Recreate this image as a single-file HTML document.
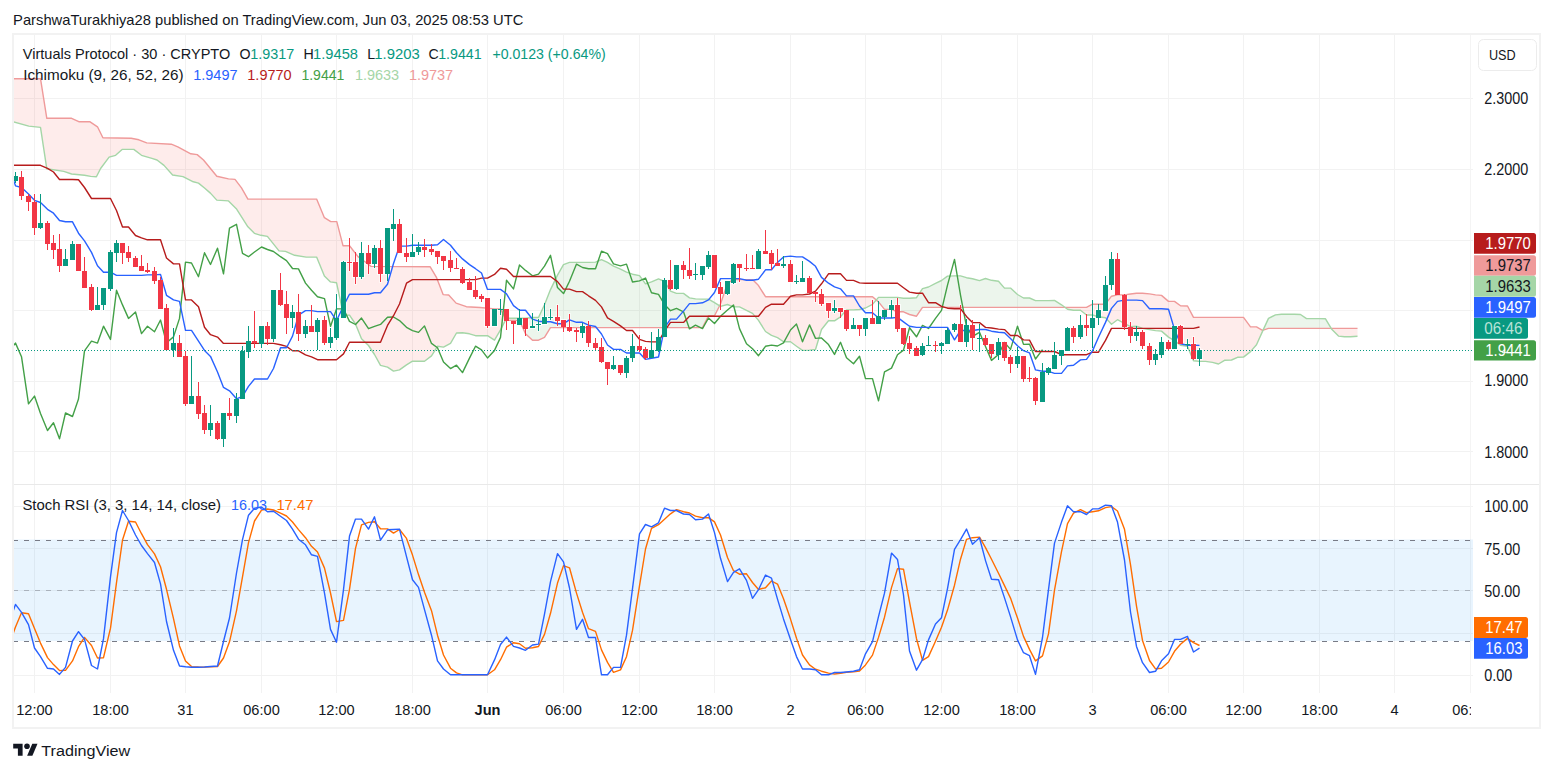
<!DOCTYPE html>
<html><head><meta charset="utf-8"><style>
*{margin:0;padding:0;box-sizing:border-box}
html,body{width:1553px;height:772px;overflow:hidden;background:#fff}
body{font-family:"Liberation Sans",sans-serif;color:#131722;position:relative}
.t{position:absolute;white-space:nowrap;line-height:1}
#frame{position:absolute;left:12px;top:33px;width:1529px;height:696px;border:2px solid #f2f2f2}
.lbl{position:absolute;left:1474px;width:62px;height:21px;border-radius:0 3px 3px 0;font-size:14px;line-height:21px;text-align:right;padding-right:6px}
svg text{font-family:"Liberation Sans",sans-serif}
</style></head><body>
<div id="frame"></div>
<svg width="1553" height="772" style="position:absolute;left:0;top:0">
<defs><clipPath id="sclip"><rect x="14" y="485" width="1459" height="208"/></clipPath><clipPath id="mclip"><rect x="14" y="35" width="1456" height="449"/></clipPath><clipPath id="tclip"><rect x="14" y="693" width="1457" height="34"/></clipPath></defs>
<g stroke="#f2f2f2" stroke-width="1"><line x1="34.5" y1="35" x2="34.5" y2="693"/><line x1="110.5" y1="35" x2="110.5" y2="693"/><line x1="185.5" y1="35" x2="185.5" y2="693"/><line x1="261.5" y1="35" x2="261.5" y2="693"/><line x1="336.5" y1="35" x2="336.5" y2="693"/><line x1="412.5" y1="35" x2="412.5" y2="693"/><line x1="487.5" y1="35" x2="487.5" y2="693"/><line x1="563.5" y1="35" x2="563.5" y2="693"/><line x1="639.5" y1="35" x2="639.5" y2="693"/><line x1="714.5" y1="35" x2="714.5" y2="693"/><line x1="790.5" y1="35" x2="790.5" y2="693"/><line x1="865.5" y1="35" x2="865.5" y2="693"/><line x1="941.5" y1="35" x2="941.5" y2="693"/><line x1="1017.5" y1="35" x2="1017.5" y2="693"/><line x1="1092.5" y1="35" x2="1092.5" y2="693"/><line x1="1168.5" y1="35" x2="1168.5" y2="693"/><line x1="1243.5" y1="35" x2="1243.5" y2="693"/><line x1="1319.5" y1="35" x2="1319.5" y2="693"/><line x1="1394.5" y1="35" x2="1394.5" y2="693"/><line x1="1470.5" y1="35" x2="1470.5" y2="693"/><line x1="14" y1="98.5" x2="1473" y2="98.5"/><line x1="14" y1="169.5" x2="1473" y2="169.5"/><line x1="14" y1="240.5" x2="1473" y2="240.5"/><line x1="14" y1="310.5" x2="1473" y2="310.5"/><line x1="14" y1="381.5" x2="1473" y2="381.5"/><line x1="14" y1="451.5" x2="1473" y2="451.5"/><line x1="14" y1="506.5" x2="1473" y2="506.5"/><line x1="14" y1="548.5" x2="1473" y2="548.5"/><line x1="14" y1="590.5" x2="1473" y2="590.5"/><line x1="14" y1="633.5" x2="1473" y2="633.5"/><line x1="14" y1="675.5" x2="1473" y2="675.5"/></g><line x1="1470.5" y1="35" x2="1470.5" y2="693" stroke="#f4f4f4"/><line x1="14" y1="484.5" x2="1539" y2="484.5" stroke="#e9e9e9"/><path d="M1474 233.05H1533.5Q1536 233.05 1536 235.55V251.3Q1536 253.8 1533.5 253.8H1474Z" fill="#B71C1C"/><path d="M1474 255.2H1533.5Q1536 255.2 1536 257.7V273.3Q1536 275.8 1533.5 275.8H1474Z" fill="#EF9A9A"/><path d="M1474 275.8H1533.5Q1536 275.8 1536 278.3V294.2Q1536 296.7 1533.5 296.7H1474Z" fill="#A5D6A7"/><path d="M1474 297.1H1533.5Q1536 297.1 1536 299.6V315.3Q1536 317.8 1533.5 317.8H1474Z" fill="#2962FF"/><path d="M1474 318.0H1525.5Q1528 318.0 1528 320.5V336.2Q1528 338.7 1525.5 338.7H1474Z" fill="#089981"/><path d="M1474 340.2H1533.5Q1536 340.2 1536 342.7V358.1Q1536 360.6 1533.5 360.6H1474Z" fill="#43A047"/><path d="M1474 617H1525.5Q1528 617 1528 619.5V635.5Q1528 638 1525.5 638H1474Z" fill="#FF6D00"/><path d="M1474 638H1525.5Q1528 638 1528 640.5V656.2Q1528 658.7 1525.5 658.7H1474Z" fill="#2962FF"/><rect x="1478.5" y="39.5" width="58" height="31" rx="5" fill="#fff" stroke="#ececec"/><g fill="#131722"><path d="M13.2 743.8H22.6V755.7H17.9V748.4H13.2Z"/><circle cx="27" cy="746.3" r="2.8"/><path d="M32.3 743.8H37.5L32.4 755.7H27.1Z"/></g>
<g clip-path="url(#mclip)"><polygon points="506.00,319.20 506.50,318.23 507.00,318.23 507.50,318.23 508.00,318.23 508.50,318.23 509.00,318.23 509.50,318.23 510.00,318.23 510.50,318.23 511.00,318.23 511.50,318.23 512.00,318.23 512.50,318.23 513.00,318.23 513.50,318.23 514.00,318.23 514.50,318.23 515.00,318.23 515.50,318.23 516.00,318.23 516.50,318.23 517.00,318.23 517.50,318.23 518.00,318.23 518.50,318.23 519.00,318.23 519.50,318.23 520.00,318.23 520.50,318.23 521.00,318.23 521.50,318.23 522.00,318.23 522.50,318.23 523.00,318.23 523.50,318.23 524.00,318.23 524.50,318.23 525.00,318.23 525.50,318.23 526.00,318.17 526.50,318.12 527.00,318.07 527.50,318.02 528.00,317.97 528.50,317.91 529.00,317.86 529.50,317.81 530.00,317.76 530.50,317.71 531.00,317.66 531.50,317.60 532.00,317.55 532.50,317.50 533.00,317.50 533.50,317.50 534.00,317.50 534.50,317.50 535.00,317.50 535.50,317.50 536.00,317.50 536.50,317.50 537.00,317.50 537.50,317.50 538.00,317.50 538.50,317.50 539.00,316.44 539.50,315.39 540.00,314.33 540.50,313.27 541.00,312.22 541.50,311.16 542.00,310.11 542.50,309.05 543.00,307.99 543.50,306.94 544.00,305.88 544.50,304.82 545.00,303.56 545.50,302.29 546.00,301.02 546.50,299.76 547.00,298.49 547.50,297.23 548.00,295.96 548.50,294.69 549.00,293.43 549.50,292.16 550.00,290.89 550.50,289.62 551.00,288.59 551.50,287.55 552.00,286.51 552.50,285.47 553.00,284.43 553.50,283.39 554.00,282.35 554.50,281.31 555.00,280.27 555.50,279.23 556.00,278.19 556.50,277.15 557.00,276.11 557.50,275.07 558.00,274.21 558.50,273.34 559.00,272.47 559.50,271.60 560.00,270.73 560.50,269.86 561.00,268.99 561.50,268.12 562.00,267.26 562.50,266.39 563.00,265.52 563.50,264.65 564.00,264.46 564.50,264.27 565.00,264.08 565.50,263.89 566.00,263.70 566.50,263.51 567.00,263.32 567.50,263.13 568.00,262.94 568.50,262.75 569.00,262.56 569.50,262.38 570.00,262.38 570.50,262.38 571.00,262.38 571.50,262.38 572.00,262.38 572.50,262.38 573.00,262.38 573.50,262.38 574.00,262.38 574.50,262.38 575.00,262.38 575.50,262.38 576.00,262.38 576.50,262.38 577.00,262.38 577.50,262.38 578.00,262.38 578.50,262.38 579.00,262.38 579.50,262.38 580.00,262.38 580.50,262.38 581.00,262.38 581.50,262.38 582.00,262.38 582.50,262.38 583.00,262.38 583.50,262.38 584.00,262.38 584.50,262.38 585.00,262.38 585.50,262.38 586.00,262.38 586.50,262.38 587.00,262.38 587.50,262.38 588.00,262.38 588.50,262.38 589.00,262.36 589.50,262.34 590.00,262.32 590.50,262.30 591.00,262.29 591.50,262.27 592.00,262.25 592.50,262.23 593.00,262.21 593.50,262.20 594.00,262.18 594.50,262.16 595.00,262.14 595.50,262.12 596.00,261.91 596.50,261.70 597.00,261.48 597.50,261.27 598.00,261.05 598.50,260.84 599.00,260.62 599.50,260.41 600.00,260.19 600.50,259.98 601.00,259.76 601.50,259.55 602.00,259.79 602.50,260.03 603.00,260.27 603.50,260.51 604.00,260.75 604.50,260.99 605.00,261.23 605.50,261.47 606.00,261.71 606.50,261.95 607.00,262.19 607.50,262.43 608.00,262.74 608.50,263.05 609.00,263.36 609.50,263.68 610.00,263.99 610.50,264.30 611.00,264.61 611.50,264.93 612.00,265.24 612.50,265.55 613.00,265.86 613.50,266.18 614.00,266.39 614.50,266.61 615.00,266.83 615.50,267.05 616.00,267.26 616.50,267.48 617.00,267.70 617.50,267.92 618.00,268.14 618.50,268.35 619.00,268.57 619.50,268.79 620.00,269.01 620.50,269.23 621.00,269.46 621.50,269.70 622.00,269.94 622.50,270.18 623.00,270.41 623.50,270.65 624.00,270.89 624.50,271.13 625.00,271.36 625.50,271.60 626.00,271.84 626.50,272.08 627.00,272.25 627.50,272.42 628.00,272.59 628.50,272.77 629.00,272.94 629.50,273.11 630.00,273.29 630.50,273.46 631.00,273.63 631.50,273.80 632.00,273.98 632.50,274.15 633.00,274.25 633.50,274.35 634.00,274.45 634.50,274.55 635.00,274.65 635.50,274.75 636.00,274.85 636.50,274.95 637.00,275.05 637.50,275.15 638.00,275.25 638.50,275.35 639.00,275.45 639.50,275.55 640.00,276.23 640.50,276.92 641.00,277.60 641.50,278.28 642.00,278.97 642.50,279.65 643.00,280.33 643.50,281.02 644.00,281.70 644.50,282.38 645.00,283.07 645.50,283.75 646.00,283.60 646.50,283.45 647.00,283.30 647.50,283.15 648.00,283.00 648.50,282.85 649.00,282.70 649.50,282.55 650.00,282.40 650.50,282.25 651.00,282.10 651.50,281.95 652.00,281.73 652.50,281.51 653.00,281.29 653.50,281.06 654.00,280.84 654.50,280.62 655.00,280.40 655.50,280.18 656.00,279.96 656.50,279.74 657.00,279.51 657.50,279.29 658.00,279.07 658.50,278.85 659.00,279.07 659.50,279.29 660.00,279.51 660.50,279.73 661.00,279.95 661.50,280.18 662.00,280.40 662.50,280.62 663.00,280.84 663.50,281.06 664.00,281.28 664.50,281.50 665.00,282.30 665.50,283.10 666.00,283.89 666.50,284.69 667.00,285.49 667.50,286.29 668.00,287.09 668.50,287.88 669.00,288.68 669.50,289.48 670.00,290.28 670.50,291.07 671.00,291.27 671.50,291.46 672.00,291.66 672.50,291.85 673.00,292.04 673.50,292.24 674.00,292.43 674.50,292.62 675.00,292.82 675.50,293.01 676.00,293.21 676.50,293.40 677.00,293.40 677.50,293.40 678.00,293.40 678.50,293.40 679.00,293.40 679.50,293.40 680.00,293.40 680.50,293.40 681.00,293.40 681.50,293.40 682.00,293.40 682.50,293.40 683.00,293.40 683.50,293.40 684.00,293.77 684.50,294.15 685.00,294.52 685.50,294.89 686.00,295.26 686.50,295.64 687.00,296.01 687.50,296.38 688.00,296.76 688.50,297.13 689.00,297.50 689.50,297.88 690.00,297.96 690.50,298.04 691.00,298.12 691.50,298.20 692.00,298.28 692.50,298.36 693.00,298.44 693.50,298.53 694.00,298.61 694.50,298.69 695.00,298.77 695.50,298.85 696.00,298.87 696.50,298.89 697.00,298.91 697.50,298.93 698.00,298.95 698.50,298.97 699.00,298.99 699.50,299.01 700.00,299.03 700.50,299.05 701.00,299.07 701.50,299.09 702.00,299.11 702.50,299.12 703.00,299.12 703.50,299.12 704.00,299.12 704.50,299.12 705.00,299.12 705.50,299.12 706.00,299.12 706.50,299.12 707.00,299.12 707.50,299.12 708.00,299.12 708.50,299.12 709.00,299.42 709.50,299.72 710.00,300.01 710.50,300.31 711.00,300.60 711.50,300.90 712.00,301.20 712.50,301.49 713.00,301.79 713.50,302.08 714.00,302.38 714.50,302.68 715.00,302.99 715.50,303.30 716.00,303.61 716.50,303.93 717.00,304.24 717.50,304.55 718.00,304.86 718.50,305.18 719.00,305.49 719.50,305.80 719.50,305.99 719.00,306.96 718.50,307.93 718.00,308.90 717.50,309.88 717.00,310.85 716.50,311.82 716.00,312.79 715.50,313.76 715.00,314.73 714.50,315.70 714.00,315.70 713.50,315.70 713.00,315.70 712.50,315.70 712.00,315.70 711.50,315.70 711.00,315.70 710.50,315.70 710.00,315.70 709.50,315.70 709.00,315.70 708.50,315.70 708.00,316.70 707.50,317.69 707.00,318.69 706.50,319.68 706.00,320.68 705.50,321.67 705.00,322.67 704.50,323.67 704.00,324.66 703.50,325.66 703.00,326.65 702.50,327.65 702.00,327.65 701.50,327.65 701.00,327.65 700.50,327.65 700.00,327.65 699.50,327.65 699.00,327.65 698.50,327.65 698.00,327.65 697.50,327.65 697.00,327.65 696.50,327.65 696.00,327.65 695.50,327.65 695.00,327.65 694.50,327.65 694.00,327.65 693.50,327.65 693.00,327.65 692.50,327.65 692.00,327.65 691.50,327.65 691.00,327.65 690.50,327.65 690.00,327.65 689.50,327.65 689.00,327.65 688.50,327.65 688.00,327.65 687.50,327.65 687.00,327.65 686.50,327.65 686.00,327.65 685.50,327.65 685.00,327.65 684.50,327.65 684.00,327.65 683.50,327.65 683.00,327.65 682.50,327.65 682.00,327.65 681.50,327.65 681.00,327.65 680.50,327.65 680.00,327.65 679.50,327.65 679.00,327.65 678.50,327.65 678.00,327.65 677.50,327.65 677.00,327.65 676.50,327.65 676.00,327.65 675.50,327.65 675.00,327.65 674.50,327.65 674.00,327.65 673.50,327.65 673.00,327.65 672.50,327.65 672.00,327.65 671.50,327.65 671.00,327.65 670.50,327.65 670.00,327.65 669.50,327.65 669.00,327.65 668.50,327.65 668.00,327.65 667.50,327.65 667.00,327.65 666.50,327.65 666.00,327.65 665.50,327.65 665.00,327.65 664.50,327.65 664.00,327.65 663.50,327.65 663.00,327.65 662.50,327.65 662.00,327.65 661.50,327.65 661.00,327.65 660.50,327.65 660.00,327.65 659.50,327.65 659.00,327.65 658.50,327.65 658.00,327.65 657.50,327.65 657.00,327.65 656.50,327.65 656.00,327.65 655.50,327.65 655.00,327.65 654.50,327.65 654.00,327.65 653.50,327.65 653.00,327.65 652.50,327.65 652.00,327.65 651.50,327.65 651.00,327.65 650.50,327.65 650.00,327.65 649.50,327.65 649.00,327.65 648.50,327.65 648.00,327.65 647.50,327.65 647.00,327.65 646.50,327.65 646.00,327.65 645.50,327.65 645.00,327.65 644.50,327.65 644.00,327.65 643.50,327.65 643.00,327.65 642.50,327.65 642.00,327.65 641.50,327.65 641.00,327.65 640.50,327.65 640.00,327.65 639.50,327.65 639.00,327.65 638.50,327.65 638.00,327.65 637.50,327.65 637.00,327.65 636.50,327.65 636.00,327.65 635.50,327.65 635.00,327.65 634.50,327.65 634.00,327.65 633.50,327.65 633.00,327.65 632.50,327.65 632.00,327.65 631.50,327.65 631.00,327.65 630.50,327.65 630.00,327.65 629.50,327.65 629.00,327.65 628.50,327.65 628.00,327.65 627.50,327.65 627.00,327.65 626.50,327.65 626.00,327.65 625.50,327.65 625.00,327.65 624.50,327.65 624.00,327.65 623.50,327.65 623.00,327.65 622.50,327.65 622.00,327.65 621.50,327.65 621.00,327.65 620.50,327.65 620.00,327.65 619.50,327.65 619.00,327.65 618.50,327.65 618.00,327.65 617.50,327.65 617.00,327.65 616.50,327.65 616.00,327.65 615.50,327.65 615.00,327.65 614.50,327.65 614.00,327.65 613.50,327.65 613.00,327.65 612.50,327.65 612.00,327.65 611.50,327.65 611.00,327.65 610.50,327.65 610.00,327.65 609.50,327.65 609.00,327.65 608.50,327.65 608.00,327.65 607.50,327.65 607.00,327.65 606.50,327.65 606.00,327.65 605.50,327.65 605.00,327.65 604.50,327.65 604.00,327.65 603.50,327.65 603.00,327.65 602.50,327.65 602.00,327.65 601.50,327.65 601.00,327.65 600.50,327.65 600.00,327.65 599.50,327.65 599.00,327.65 598.50,327.65 598.00,327.65 597.50,327.65 597.00,327.65 596.50,327.65 596.00,327.65 595.50,327.65 595.00,327.65 594.50,327.65 594.00,327.65 593.50,327.65 593.00,327.65 592.50,327.65 592.00,327.65 591.50,327.65 591.00,327.65 590.50,327.65 590.00,327.65 589.50,327.65 589.00,327.65 588.50,327.65 588.00,327.65 587.50,327.65 587.00,327.65 586.50,327.65 586.00,327.65 585.50,327.65 585.00,327.65 584.50,327.65 584.00,327.65 583.50,327.65 583.00,327.65 582.50,327.65 582.00,327.65 581.50,327.65 581.00,327.65 580.50,327.65 580.00,327.65 579.50,327.65 579.00,327.65 578.50,327.65 578.00,327.65 577.50,327.65 577.00,327.65 576.50,327.65 576.00,327.65 575.50,327.65 575.00,327.65 574.50,327.65 574.00,327.65 573.50,327.65 573.00,327.65 572.50,327.65 572.00,327.65 571.50,327.65 571.00,327.65 570.50,327.65 570.00,327.65 569.50,327.65 569.00,327.65 568.50,327.65 568.00,327.65 567.50,327.65 567.00,327.65 566.50,327.65 566.00,327.65 565.50,327.65 565.00,327.65 564.50,327.65 564.00,327.65 563.50,327.65 563.00,327.65 562.50,327.65 562.00,327.65 561.50,327.65 561.00,327.65 560.50,327.65 560.00,327.65 559.50,327.65 559.00,327.65 558.50,327.65 558.00,327.65 557.50,327.65 557.00,327.65 556.50,327.65 556.00,327.65 555.50,327.65 555.00,327.65 554.50,327.65 554.00,327.65 553.50,327.65 553.00,327.65 552.50,327.65 552.00,327.65 551.50,327.65 551.00,327.65 550.50,327.65 550.00,328.46 549.50,329.27 549.00,330.09 548.50,330.90 548.00,331.71 547.50,332.52 547.00,333.34 546.50,334.15 546.00,334.96 545.50,335.77 545.00,336.59 544.50,337.40 544.00,337.64 543.50,337.88 543.00,338.11 542.50,338.35 542.00,338.59 541.50,338.82 541.00,339.06 540.50,339.30 540.00,339.54 539.50,339.77 539.00,340.01 538.50,340.25 538.00,340.25 537.50,340.25 537.00,340.25 536.50,340.25 536.00,340.25 535.50,340.25 535.00,340.25 534.50,340.25 534.00,340.25 533.50,340.25 533.00,340.25 532.50,340.25 532.00,339.79 531.50,339.32 531.00,338.86 530.50,338.39 530.00,337.93 529.50,337.46 529.00,337.00 528.50,336.54 528.00,336.07 527.50,335.61 527.00,335.14 526.50,334.68 526.00,334.21 525.50,333.75 525.00,332.63 524.50,331.52 524.00,330.40 523.50,329.28 523.00,328.17 522.50,327.05 522.00,325.93 521.50,324.82 521.00,323.70 520.50,322.58 520.00,321.47 519.50,320.35 519.00,320.35 518.50,320.35 518.00,320.35 517.50,320.35 517.00,320.35 516.50,320.35 516.00,320.35 515.50,320.35 515.00,320.35 514.50,320.35 514.00,320.35 513.50,320.35 513.00,320.35 512.50,320.35 512.00,320.35 511.50,320.35 511.00,320.35 510.50,320.35 510.00,320.35 509.50,320.35 509.00,320.35 508.50,320.35 508.00,320.35 507.50,320.35 507.00,320.35 506.50,320.35 506.00,319.40" fill="rgba(67,160,71,0.1)"/><polygon points="876.50,299.72 877.00,299.14 877.50,298.56 878.00,297.98 878.50,297.40 879.00,297.40 879.50,297.40 880.00,297.40 880.50,297.40 881.00,297.40 881.50,297.40 882.00,297.40 882.50,297.40 883.00,297.40 883.50,297.40 884.00,297.40 884.50,297.40 885.00,297.40 885.50,297.40 886.00,297.40 886.50,297.40 887.00,297.40 887.50,297.40 888.00,297.40 888.50,297.40 889.00,297.40 889.50,297.40 890.00,297.40 890.50,297.40 891.00,297.40 891.50,297.40 892.00,297.40 892.50,297.40 893.00,297.40 893.50,297.40 894.00,297.40 894.50,297.40 895.00,297.40 895.50,297.40 896.00,297.40 896.50,297.40 897.00,297.40 897.50,297.40 898.00,297.47 898.50,297.54 899.00,297.61 899.50,297.68 900.00,297.74 900.50,297.81 901.00,297.88 901.50,297.95 902.00,298.02 902.50,298.09 903.00,298.16 903.50,298.23 904.00,298.23 904.50,298.23 905.00,298.23 905.50,298.23 906.00,298.23 906.50,298.23 907.00,298.23 907.50,298.23 908.00,298.23 908.50,298.23 909.00,298.23 909.50,298.23 910.00,298.19 910.50,298.15 911.00,298.12 911.50,298.08 912.00,298.05 912.50,298.01 913.00,297.98 913.50,297.94 914.00,297.90 914.50,297.87 915.00,297.83 915.50,297.80 916.00,297.76 916.50,297.73 917.00,296.96 917.50,296.20 918.00,295.44 918.50,294.68 919.00,293.92 919.50,293.16 920.00,292.40 920.50,291.64 921.00,290.88 921.50,290.12 922.00,289.36 922.50,288.60 923.00,288.47 923.50,288.33 924.00,288.20 924.50,288.07 925.00,287.93 925.50,287.80 926.00,287.67 926.50,287.53 927.00,287.40 927.50,287.27 928.00,287.13 928.50,287.00 929.00,286.74 929.50,286.48 930.00,286.21 930.50,285.95 931.00,285.69 931.50,285.43 932.00,285.16 932.50,284.90 933.00,284.64 933.50,284.38 934.00,284.11 934.50,283.85 935.00,283.59 935.50,283.32 936.00,283.09 936.50,282.86 937.00,282.62 937.50,282.39 938.00,282.16 938.50,281.92 939.00,281.69 939.50,281.46 940.00,281.22 940.50,280.99 941.00,280.76 941.50,280.52 942.00,280.16 942.50,279.79 943.00,279.42 943.50,279.06 944.00,278.69 944.50,278.32 945.00,277.96 945.50,277.59 946.00,277.23 946.50,276.86 947.00,276.49 947.50,276.12 948.00,276.11 948.50,276.09 949.00,276.07 949.50,276.05 950.00,276.03 950.50,276.01 951.00,275.99 951.50,275.97 952.00,275.95 952.50,275.93 953.00,275.91 953.50,275.89 954.00,275.87 954.50,275.85 955.00,275.85 955.50,275.85 956.00,275.85 956.50,275.85 957.00,275.85 957.50,275.85 958.00,275.85 958.50,275.85 959.00,275.85 959.50,275.85 960.00,275.85 960.50,275.85 961.00,276.00 961.50,276.16 962.00,276.31 962.50,276.47 963.00,276.62 963.50,276.77 964.00,276.93 964.50,277.08 965.00,277.24 965.50,277.39 966.00,277.55 966.50,277.70 967.00,277.78 967.50,277.86 968.00,277.94 968.50,278.02 969.00,278.11 969.50,278.19 970.00,278.27 970.50,278.35 971.00,278.43 971.50,278.51 972.00,278.59 972.50,278.68 973.00,278.81 973.50,278.94 974.00,279.08 974.50,279.21 975.00,279.34 975.50,279.48 976.00,279.61 976.50,279.75 977.00,279.88 977.50,280.01 978.00,280.15 978.50,280.28 979.00,280.42 979.50,280.55 980.00,280.38 980.50,280.21 981.00,280.04 981.50,279.88 982.00,279.71 982.50,279.54 983.00,279.37 983.50,279.20 984.00,279.03 984.50,278.86 985.00,278.69 985.50,278.52 986.00,278.67 986.50,278.82 987.00,278.98 987.50,279.12 988.00,279.27 988.50,279.43 989.00,279.58 989.50,279.73 990.00,279.88 990.50,280.03 991.00,280.18 991.50,280.33 992.00,280.39 992.50,280.46 993.00,280.53 993.50,280.60 994.00,280.67 994.50,280.74 995.00,280.81 995.50,280.88 996.00,280.95 996.50,281.02 997.00,281.09 997.50,281.16 998.00,281.23 998.50,281.30 999.00,281.87 999.50,282.44 1000.00,283.01 1000.50,283.57 1001.00,284.14 1001.50,284.71 1002.00,285.28 1002.50,285.85 1003.00,286.42 1003.50,286.99 1004.00,287.56 1004.50,288.12 1005.00,288.12 1005.50,288.12 1006.00,288.12 1006.50,288.12 1007.00,288.12 1007.50,288.12 1008.00,288.12 1008.50,288.12 1009.00,288.12 1009.50,288.12 1010.00,288.12 1010.50,288.12 1011.00,288.58 1011.50,289.03 1012.00,289.49 1012.50,289.94 1013.00,290.39 1013.50,290.85 1014.00,291.30 1014.50,291.75 1015.00,292.21 1015.50,292.66 1016.00,293.11 1016.50,293.57 1017.00,294.02 1017.50,294.47 1018.00,294.77 1018.50,295.06 1019.00,295.36 1019.50,295.65 1020.00,295.94 1020.50,296.24 1021.00,296.53 1021.50,296.82 1022.00,297.12 1022.50,297.41 1023.00,297.71 1023.50,298.00 1024.00,298.00 1024.50,298.00 1025.00,298.00 1025.50,298.00 1026.00,298.00 1026.50,298.00 1027.00,298.00 1027.50,298.00 1028.00,298.00 1028.50,298.00 1029.00,298.00 1029.50,298.00 1030.00,298.22 1030.50,298.44 1031.00,298.66 1031.50,298.88 1032.00,299.10 1032.50,299.32 1033.00,299.55 1033.50,299.77 1034.00,299.99 1034.50,300.21 1035.00,300.43 1035.50,300.65 1036.00,300.65 1036.50,300.65 1037.00,300.65 1037.50,300.65 1038.00,300.65 1038.50,300.65 1039.00,300.65 1039.50,300.65 1040.00,300.65 1040.50,300.65 1041.00,300.65 1041.50,300.65 1042.00,300.65 1042.50,300.65 1043.00,300.65 1043.50,300.65 1044.00,300.65 1044.50,300.65 1045.00,300.65 1045.50,300.65 1046.00,300.65 1046.50,300.65 1047.00,300.65 1047.50,300.65 1048.00,300.65 1048.50,300.65 1049.00,300.62 1049.50,300.60 1050.00,300.57 1050.50,300.55 1051.00,300.52 1051.50,300.50 1052.00,300.48 1052.50,300.45 1053.00,300.43 1053.50,300.40 1054.00,300.38 1054.50,300.35 1055.00,300.67 1055.50,300.99 1056.00,301.30 1056.50,301.62 1057.00,301.94 1057.50,302.26 1058.00,302.58 1058.50,302.89 1059.00,303.21 1059.50,303.53 1060.00,303.85 1060.50,304.16 1061.00,304.48 1061.50,304.80 1062.00,305.17 1062.50,305.53 1063.00,305.90 1063.50,306.27 1064.00,306.63 1064.50,307.00 1065.00,307.37 1065.00,307.40 1064.50,307.40 1064.00,307.40 1063.50,307.40 1063.00,307.40 1062.50,307.40 1062.00,307.40 1061.50,307.40 1061.00,307.40 1060.50,307.40 1060.00,307.40 1059.50,307.40 1059.00,307.40 1058.50,307.40 1058.00,307.40 1057.50,307.40 1057.00,307.40 1056.50,307.40 1056.00,307.40 1055.50,307.40 1055.00,307.40 1054.50,307.40 1054.00,307.40 1053.50,307.40 1053.00,307.40 1052.50,307.40 1052.00,307.40 1051.50,307.40 1051.00,307.40 1050.50,307.40 1050.00,307.40 1049.50,307.40 1049.00,307.40 1048.50,307.40 1048.00,307.40 1047.50,307.40 1047.00,307.40 1046.50,307.40 1046.00,307.40 1045.50,307.40 1045.00,307.40 1044.50,307.40 1044.00,307.40 1043.50,307.40 1043.00,307.40 1042.50,307.40 1042.00,307.40 1041.50,307.40 1041.00,307.40 1040.50,307.40 1040.00,307.40 1039.50,307.40 1039.00,307.40 1038.50,307.40 1038.00,307.40 1037.50,307.40 1037.00,307.40 1036.50,307.40 1036.00,307.40 1035.50,307.40 1035.00,307.40 1034.50,307.40 1034.00,307.40 1033.50,307.40 1033.00,307.40 1032.50,307.40 1032.00,307.40 1031.50,307.40 1031.00,307.40 1030.50,307.40 1030.00,307.40 1029.50,307.40 1029.00,307.40 1028.50,307.40 1028.00,307.40 1027.50,307.40 1027.00,307.40 1026.50,307.40 1026.00,307.40 1025.50,307.40 1025.00,307.40 1024.50,307.40 1024.00,307.40 1023.50,307.40 1023.00,307.40 1022.50,307.40 1022.00,307.40 1021.50,307.40 1021.00,307.40 1020.50,307.40 1020.00,307.40 1019.50,307.40 1019.00,307.40 1018.50,307.40 1018.00,307.40 1017.50,307.40 1017.00,307.40 1016.50,307.40 1016.00,307.40 1015.50,307.40 1015.00,307.40 1014.50,307.40 1014.00,307.40 1013.50,307.40 1013.00,307.40 1012.50,307.40 1012.00,307.40 1011.50,307.40 1011.00,307.40 1010.50,307.40 1010.00,307.40 1009.50,307.40 1009.00,307.40 1008.50,307.40 1008.00,307.40 1007.50,307.40 1007.00,307.40 1006.50,307.40 1006.00,307.40 1005.50,307.40 1005.00,307.40 1004.50,307.40 1004.00,307.40 1003.50,307.40 1003.00,307.40 1002.50,307.40 1002.00,307.40 1001.50,307.40 1001.00,307.40 1000.50,307.40 1000.00,307.40 999.50,307.40 999.00,307.40 998.50,307.40 998.00,307.40 997.50,307.40 997.00,307.40 996.50,307.40 996.00,307.40 995.50,307.40 995.00,307.40 994.50,307.40 994.00,307.40 993.50,307.40 993.00,307.40 992.50,307.40 992.00,307.40 991.50,307.40 991.00,307.40 990.50,307.40 990.00,307.40 989.50,307.40 989.00,307.40 988.50,307.40 988.00,307.40 987.50,307.40 987.00,307.40 986.50,307.40 986.00,307.40 985.50,307.40 985.00,307.40 984.50,307.40 984.00,307.40 983.50,307.40 983.00,307.40 982.50,307.40 982.00,307.40 981.50,307.40 981.00,307.40 980.50,307.40 980.00,307.40 979.50,307.40 979.00,307.40 978.50,307.40 978.00,307.40 977.50,307.40 977.00,307.40 976.50,307.40 976.00,307.40 975.50,307.40 975.00,307.40 974.50,307.40 974.00,307.40 973.50,307.40 973.00,307.40 972.50,307.40 972.00,307.40 971.50,307.40 971.00,307.40 970.50,307.40 970.00,307.40 969.50,307.40 969.00,307.40 968.50,307.40 968.00,307.40 967.50,307.40 967.00,307.40 966.50,307.40 966.00,307.40 965.50,307.40 965.00,307.40 964.50,307.40 964.00,307.40 963.50,307.40 963.00,307.40 962.50,307.40 962.00,307.40 961.50,307.40 961.00,307.40 960.50,307.40 960.00,307.40 959.50,307.40 959.00,307.40 958.50,307.40 958.00,307.40 957.50,307.40 957.00,307.40 956.50,307.40 956.00,307.40 955.50,307.40 955.00,307.40 954.50,307.40 954.00,307.40 953.50,307.40 953.00,307.40 952.50,307.40 952.00,307.40 951.50,307.40 951.00,307.40 950.50,307.40 950.00,307.40 949.50,307.40 949.00,307.40 948.50,307.40 948.00,307.40 947.50,307.40 947.00,307.40 946.50,307.40 946.00,307.40 945.50,307.40 945.00,307.40 944.50,307.40 944.00,307.40 943.50,307.40 943.00,307.40 942.50,307.40 942.00,307.40 941.50,307.40 941.00,307.40 940.50,307.40 940.00,307.40 939.50,307.40 939.00,307.40 938.50,307.40 938.00,307.40 937.50,307.40 937.00,307.40 936.50,307.40 936.00,307.40 935.50,307.40 935.00,307.40 934.50,307.40 934.00,307.40 933.50,307.40 933.00,307.40 932.50,307.40 932.00,307.40 931.50,307.40 931.00,307.40 930.50,307.40 930.00,307.40 929.50,307.40 929.00,307.40 928.50,307.40 928.00,307.40 927.50,307.40 927.00,307.40 926.50,307.40 926.00,307.40 925.50,307.40 925.00,307.40 924.50,307.40 924.00,307.40 923.50,307.40 923.00,307.40 922.50,307.40 922.00,308.13 921.50,308.87 921.00,309.60 920.50,310.33 920.00,311.07 919.50,311.80 919.00,312.53 918.50,313.27 918.00,314.00 917.50,314.73 917.00,315.47 916.50,316.20 916.00,316.08 915.50,315.96 915.00,315.84 914.50,315.71 914.00,315.59 913.50,315.47 913.00,315.35 912.50,315.23 912.00,315.11 911.50,314.99 911.00,314.86 910.50,314.74 910.00,314.62 909.50,314.50 909.00,314.27 908.50,314.04 908.00,313.81 907.50,313.58 907.00,313.35 906.50,313.12 906.00,312.90 905.50,312.67 905.00,312.44 904.50,312.21 904.00,311.98 903.50,311.75 903.00,311.75 902.50,311.75 902.00,311.75 901.50,311.75 901.00,311.75 900.50,311.75 900.00,311.75 899.50,311.75 899.00,311.75 898.50,311.75 898.00,311.75 897.50,311.75 897.00,311.55 896.50,311.35 896.00,311.15 895.50,310.95 895.00,310.75 894.50,310.55 894.00,310.35 893.50,310.15 893.00,309.95 892.50,309.75 892.00,309.55 891.50,309.35 891.00,309.35 890.50,309.35 890.00,309.35 889.50,309.35 889.00,309.35 888.50,309.35 888.00,309.35 887.50,309.35 887.00,309.35 886.50,309.35 886.00,309.35 885.50,309.35 885.00,309.35 884.50,309.35 884.00,308.73 883.50,308.10 883.00,307.48 882.50,306.85 882.00,306.23 881.50,305.60 881.00,304.98 880.50,304.35 880.00,303.73 879.50,303.10 879.00,302.48 878.50,301.85 878.00,301.42 877.50,300.99 877.00,300.56 876.50,300.13" fill="rgba(67,160,71,0.1)"/><polygon points="1263.50,329.28 1264.00,328.19 1264.50,327.11 1265.00,326.02 1265.50,324.94 1266.00,323.85 1266.50,322.77 1267.00,321.68 1267.50,320.60 1268.00,319.51 1268.50,318.42 1269.00,318.17 1269.50,317.92 1270.00,317.66 1270.50,317.41 1271.00,317.16 1271.50,316.90 1272.00,316.65 1272.50,316.40 1273.00,316.14 1273.50,315.89 1274.00,315.64 1274.50,315.38 1275.00,315.13 1275.50,314.88 1276.00,314.82 1276.50,314.77 1277.00,314.71 1277.50,314.66 1278.00,314.60 1278.50,314.55 1279.00,314.50 1279.50,314.44 1280.00,314.39 1280.50,314.33 1281.00,314.28 1281.50,314.23 1282.00,314.23 1282.50,314.23 1283.00,314.23 1283.50,314.23 1284.00,314.23 1284.50,314.23 1285.00,314.23 1285.50,314.23 1286.00,314.23 1286.50,314.23 1287.00,314.23 1287.50,314.23 1288.00,314.23 1288.50,314.23 1289.00,314.23 1289.50,314.23 1290.00,314.23 1290.50,314.23 1291.00,314.23 1291.50,314.23 1292.00,314.23 1292.50,314.23 1293.00,314.23 1293.50,314.23 1294.00,314.23 1294.50,314.23 1295.00,314.25 1295.50,314.27 1296.00,314.29 1296.50,314.32 1297.00,314.34 1297.50,314.36 1298.00,314.39 1298.50,314.41 1299.00,314.43 1299.50,314.45 1300.00,314.48 1300.50,314.50 1301.00,314.84 1301.50,315.18 1302.00,315.52 1302.50,315.86 1303.00,316.20 1303.50,316.54 1304.00,316.88 1304.50,317.22 1305.00,317.56 1305.50,317.90 1306.00,318.24 1306.50,318.57 1307.00,318.57 1307.50,318.57 1308.00,318.57 1308.50,318.57 1309.00,318.57 1309.50,318.57 1310.00,318.57 1310.50,318.57 1311.00,318.57 1311.50,318.57 1312.00,318.57 1312.50,318.57 1313.00,318.57 1313.50,318.57 1314.00,318.57 1314.50,318.57 1315.00,318.57 1315.50,318.57 1316.00,318.57 1316.50,318.57 1317.00,318.57 1317.50,318.57 1318.00,318.57 1318.50,318.57 1319.00,318.57 1319.50,318.57 1320.00,318.60 1320.50,318.62 1321.00,318.64 1321.50,318.66 1322.00,318.68 1322.50,318.70 1323.00,318.72 1323.50,318.74 1324.00,318.76 1324.50,318.78 1325.00,318.80 1325.50,318.82 1326.00,319.67 1326.50,320.51 1327.00,321.35 1327.50,322.19 1328.00,323.03 1328.50,323.88 1329.00,324.72 1329.50,325.56 1330.00,326.40 1330.50,327.24 1331.00,328.08 1331.00,328.40 1330.50,328.40 1330.00,328.40 1329.50,328.40 1329.00,328.40 1328.50,328.40 1328.00,328.40 1327.50,328.40 1327.00,328.40 1326.50,328.40 1326.00,328.40 1325.50,328.40 1325.00,328.40 1324.50,328.40 1324.00,328.40 1323.50,328.40 1323.00,328.40 1322.50,328.40 1322.00,328.40 1321.50,328.40 1321.00,328.40 1320.50,328.40 1320.00,328.40 1319.50,328.40 1319.00,328.40 1318.50,328.40 1318.00,328.40 1317.50,328.40 1317.00,328.40 1316.50,328.40 1316.00,328.40 1315.50,328.40 1315.00,328.40 1314.50,328.40 1314.00,328.40 1313.50,328.40 1313.00,328.40 1312.50,328.40 1312.00,328.40 1311.50,328.40 1311.00,328.40 1310.50,328.40 1310.00,328.40 1309.50,328.40 1309.00,328.40 1308.50,328.40 1308.00,328.40 1307.50,328.40 1307.00,328.40 1306.50,328.40 1306.00,328.40 1305.50,328.40 1305.00,328.40 1304.50,328.40 1304.00,328.40 1303.50,328.40 1303.00,328.40 1302.50,328.40 1302.00,328.40 1301.50,328.40 1301.00,328.40 1300.50,328.40 1300.00,328.40 1299.50,328.40 1299.00,328.40 1298.50,328.40 1298.00,328.40 1297.50,328.40 1297.00,328.40 1296.50,328.40 1296.00,328.40 1295.50,328.40 1295.00,328.40 1294.50,328.40 1294.00,328.40 1293.50,328.40 1293.00,328.40 1292.50,328.40 1292.00,328.40 1291.50,328.40 1291.00,328.40 1290.50,328.40 1290.00,328.40 1289.50,328.40 1289.00,328.40 1288.50,328.40 1288.00,328.40 1287.50,328.40 1287.00,328.40 1286.50,328.40 1286.00,328.40 1285.50,328.40 1285.00,328.40 1284.50,328.40 1284.00,328.40 1283.50,328.40 1283.00,328.40 1282.50,328.40 1282.00,328.40 1281.50,328.40 1281.00,328.40 1280.50,328.40 1280.00,328.40 1279.50,328.40 1279.00,328.40 1278.50,328.40 1278.00,328.40 1277.50,328.40 1277.00,328.40 1276.50,328.40 1276.00,328.40 1275.50,328.40 1275.00,328.40 1274.50,328.40 1274.00,328.40 1273.50,328.40 1273.00,328.40 1272.50,328.40 1272.00,328.40 1271.50,328.40 1271.00,328.40 1270.50,328.40 1270.00,328.40 1269.50,328.40 1269.00,328.40 1268.50,328.40 1268.00,328.57 1267.50,328.74 1267.00,328.91 1266.50,329.08 1266.00,329.25 1265.50,329.42 1265.00,329.60 1264.50,329.77 1264.00,329.94 1263.50,330.11" fill="rgba(67,160,71,0.1)"/><polygon points="12.00,78.70 12.50,78.70 13.00,78.70 13.50,78.70 14.00,78.70 14.50,78.70 15.00,78.70 15.50,78.70 16.00,78.70 16.50,78.70 17.00,78.70 17.50,78.70 18.00,78.70 18.50,78.70 19.00,78.70 19.50,78.70 20.00,78.70 20.50,78.70 21.00,78.70 21.50,78.70 22.00,78.70 22.50,78.70 23.00,78.70 23.50,78.70 24.00,78.70 24.50,78.70 25.00,78.70 25.50,78.70 26.00,78.70 26.50,78.70 27.00,78.70 27.50,78.70 28.00,78.70 28.50,78.70 28.80,78.70 29.00,78.70 29.50,78.70 30.00,78.70 30.50,78.70 31.00,78.70 31.50,78.70 32.00,78.70 32.50,78.70 33.00,78.70 33.50,78.70 34.00,78.70 34.50,78.70 35.00,78.70 35.50,78.70 36.00,78.70 36.50,78.70 37.00,78.70 37.50,78.70 38.00,78.70 38.50,78.70 39.00,78.70 39.50,78.70 40.00,78.70 40.50,78.70 41.00,81.84 41.50,84.99 42.00,88.13 42.50,91.27 43.00,94.41 43.50,97.56 44.00,100.70 44.50,103.84 45.00,106.99 45.50,110.13 46.00,113.27 46.50,116.41 46.80,118.30 47.00,118.30 47.50,118.30 48.00,118.30 48.50,118.30 49.00,118.30 49.50,118.30 50.00,118.30 50.50,118.30 51.00,118.30 51.50,118.30 52.00,118.30 52.50,118.30 53.00,118.30 53.50,118.30 54.00,118.30 54.50,118.30 55.00,118.30 55.50,118.30 56.00,118.30 56.50,118.30 57.00,118.30 57.50,118.30 58.00,118.30 58.50,118.30 59.00,118.30 59.50,118.30 60.00,118.30 60.50,118.30 61.00,118.30 61.50,118.30 62.00,118.30 62.50,118.30 63.00,118.30 63.50,118.30 63.80,118.30 64.00,118.30 64.50,118.30 65.00,118.30 65.50,118.30 66.00,118.30 66.50,118.30 67.00,118.30 67.50,118.30 68.00,118.30 68.50,118.30 69.00,118.30 69.50,118.30 70.00,118.30 70.50,118.30 71.00,118.30 71.50,118.30 71.60,118.30 72.00,118.49 72.50,118.72 73.00,118.96 73.50,119.20 74.00,119.43 74.50,119.67 75.00,119.91 75.50,120.14 76.00,120.38 76.50,120.61 77.00,120.85 77.50,121.09 78.00,121.32 78.50,121.56 78.80,121.70 79.00,121.70 79.50,121.70 80.00,121.70 80.50,121.70 81.00,121.70 81.50,121.70 82.00,121.70 82.50,121.70 83.00,121.70 83.50,121.70 84.00,121.70 84.50,121.70 85.00,121.70 85.50,121.70 86.00,121.70 86.50,121.70 87.00,121.70 87.50,121.70 88.00,121.70 88.50,121.70 89.00,121.70 89.50,121.70 89.70,121.70 90.00,121.90 90.50,122.22 90.70,122.35 91.00,122.55 91.50,122.88 92.00,123.20 92.50,123.53 93.00,123.86 93.50,124.18 94.00,124.51 94.50,124.84 95.00,125.17 95.50,125.49 96.00,125.82 96.40,126.08 96.50,126.15 97.00,126.47 97.50,126.80 98.00,127.81 98.50,128.82 99.00,129.83 99.50,130.84 100.00,131.85 100.50,132.86 100.60,133.06 101.00,133.86 101.50,134.87 102.00,135.88 102.50,136.89 102.90,137.70 103.00,137.70 103.50,137.71 104.00,137.72 104.50,137.73 105.00,137.74 105.50,137.75 106.00,137.75 106.50,137.76 107.00,137.77 107.50,137.78 108.00,137.79 108.50,137.80 109.00,137.81 109.10,137.81 109.50,137.82 110.00,137.83 110.50,137.83 111.00,137.84 111.50,137.85 112.00,137.86 112.50,137.87 113.00,137.88 113.50,137.89 114.00,137.90 114.50,137.90 115.00,137.91 115.50,137.92 115.60,137.92 116.00,137.93 116.50,137.94 117.00,137.95 117.50,137.96 118.00,137.97 118.50,137.98 119.00,137.98 119.50,137.99 120.00,138.00 120.50,138.01 121.00,138.02 121.50,138.03 122.00,138.04 122.10,138.04 122.50,138.05 123.00,138.06 123.50,138.06 124.00,138.07 124.50,138.08 125.00,138.09 125.50,138.10 126.00,138.11 126.50,138.12 127.00,138.13 127.50,138.13 128.00,138.14 128.50,138.15 129.00,138.16 129.50,138.17 130.00,138.18 130.50,138.19 131.00,138.20 131.20,138.20 131.50,138.26 132.00,138.37 132.50,138.47 133.00,138.57 133.50,138.68 133.80,138.74 134.00,138.78 134.50,138.89 135.00,138.99 135.50,139.09 136.00,139.20 136.50,139.30 137.00,139.41 137.50,139.51 138.00,139.61 138.50,139.72 138.90,139.80 139.00,139.84 139.50,140.04 140.00,140.24 140.50,140.44 141.00,140.63 141.50,140.83 142.00,141.03 142.50,141.23 143.00,141.43 143.50,141.63 144.00,141.83 144.50,142.03 145.00,142.22 145.50,142.42 146.00,142.62 146.50,142.82 146.70,142.90 147.00,142.92 147.50,142.94 148.00,142.97 148.50,143.00 149.00,143.02 149.50,143.05 150.00,143.07 150.50,143.10 151.00,143.13 151.50,143.15 151.90,143.17 152.00,143.18 152.50,143.21 153.00,143.23 153.50,143.26 154.00,143.29 154.50,143.31 155.00,143.34 155.50,143.37 156.00,143.39 156.50,143.42 157.00,143.44 157.50,143.47 158.00,143.50 158.50,143.52 159.00,143.55 159.50,143.58 160.00,143.60 160.50,143.63 161.00,143.66 161.50,143.68 162.00,143.71 162.50,143.73 163.00,143.76 163.50,143.79 164.00,143.81 164.50,143.84 165.00,143.87 165.50,143.89 166.00,143.92 166.50,143.95 167.00,143.97 167.50,144.00 168.00,144.03 168.50,144.05 169.00,144.08 169.50,144.10 170.00,144.13 170.50,144.16 171.00,144.18 171.30,144.20 171.50,144.28 172.00,144.48 172.50,144.68 172.60,144.72 173.00,144.88 173.50,145.08 174.00,145.28 174.50,145.48 175.00,145.68 175.50,145.88 176.00,146.08 176.50,146.28 177.00,146.48 177.50,146.68 177.80,146.80 178.00,146.91 178.50,147.18 179.00,147.45 179.50,147.72 180.00,147.98 180.50,148.25 181.00,148.52 181.50,148.79 182.00,149.06 182.50,149.33 183.00,149.60 183.50,149.87 184.00,150.14 184.50,150.41 185.00,150.68 185.50,150.95 186.00,151.22 186.50,151.48 187.00,151.75 187.50,152.02 188.00,152.29 188.50,152.56 189.00,152.83 189.50,153.10 190.00,153.37 190.50,153.64 190.80,153.80 191.00,153.83 191.50,153.89 192.00,153.95 192.50,154.01 193.00,154.08 193.30,154.11 193.50,154.14 194.00,154.20 194.50,154.26 195.00,154.32 195.50,154.39 196.00,154.45 196.50,154.51 197.00,154.57 197.20,154.60 197.50,154.86 198.00,155.29 198.50,155.71 199.00,156.14 199.50,156.57 200.00,157.00 200.50,157.43 201.00,157.86 201.50,158.29 202.00,158.71 202.50,159.14 203.00,159.57 203.50,160.00 204.00,160.61 204.50,161.23 205.00,161.84 205.50,162.45 206.00,163.06 206.50,163.68 207.00,164.29 207.50,164.90 208.00,165.52 208.50,166.13 209.00,166.74 209.50,167.35 210.00,167.97 210.40,168.46 210.50,168.58 211.00,169.19 211.50,169.80 212.00,170.42 212.50,171.03 213.00,171.64 213.50,172.26 214.00,172.87 214.50,173.48 215.00,174.09 215.50,174.71 216.00,175.32 216.50,175.93 216.80,176.30 217.00,176.34 217.50,176.46 218.00,176.57 218.50,176.68 219.00,176.79 219.50,176.90 220.00,177.01 220.50,177.12 221.00,177.23 221.50,177.34 222.00,177.46 222.50,177.57 223.00,177.68 223.50,177.79 224.00,177.90 224.50,178.01 225.00,178.12 225.50,178.23 226.00,178.34 226.50,178.46 227.00,178.57 227.50,178.68 228.00,178.79 228.50,178.90 229.00,178.94 229.50,178.98 230.00,179.02 230.50,179.05 231.00,179.09 231.50,179.13 232.00,179.17 232.50,179.21 233.00,179.25 233.50,179.28 234.00,179.32 234.50,179.36 235.00,179.40 235.50,180.05 236.00,180.71 236.30,181.10 236.50,181.36 237.00,182.02 237.50,182.67 238.00,183.32 238.50,183.98 239.00,184.63 239.50,185.28 240.00,185.94 240.50,186.59 241.00,187.25 241.50,187.90 242.00,188.78 242.50,189.65 243.00,190.53 243.50,191.40 244.00,192.28 244.50,193.15 245.00,194.03 245.50,194.90 246.00,195.77 246.50,196.65 247.00,197.52 247.50,198.40 247.90,199.10 248.00,199.10 248.50,199.10 249.00,199.10 249.50,199.10 250.00,199.10 250.50,199.10 251.00,199.10 251.50,199.10 252.00,199.10 252.50,199.10 253.00,199.10 253.50,199.10 254.00,199.10 254.40,199.10 254.50,199.10 255.00,199.10 255.50,199.10 256.00,199.10 256.50,199.10 257.00,199.10 257.50,199.10 258.00,199.10 258.50,199.10 259.00,199.10 259.50,199.10 260.00,199.10 260.50,199.10 260.90,199.10 261.00,199.10 261.50,199.10 262.00,199.10 262.50,199.10 263.00,199.10 263.50,199.10 264.00,199.10 264.50,199.10 265.00,199.10 265.50,199.10 266.00,199.10 266.50,199.10 267.00,199.10 267.40,199.10 267.50,199.10 268.00,199.10 268.50,199.10 269.00,199.10 269.50,199.10 270.00,199.10 270.50,199.10 271.00,199.10 271.50,199.10 272.00,199.10 272.50,199.10 273.00,199.10 273.50,199.10 274.00,199.10 274.50,199.10 275.00,199.10 275.50,199.10 276.00,199.10 276.50,199.10 277.00,199.10 277.50,199.10 278.00,199.10 278.50,199.10 279.00,199.10 279.50,199.10 280.00,199.10 280.50,199.10 281.00,199.10 281.50,199.10 282.00,199.10 282.50,199.10 283.00,199.10 283.50,199.10 284.00,199.10 284.50,199.10 285.00,199.10 285.50,199.10 286.00,199.10 286.50,199.10 287.00,199.10 287.50,199.10 288.00,199.10 288.50,199.10 289.00,199.10 289.50,199.10 290.00,199.10 290.50,199.10 291.00,199.10 291.50,199.10 292.00,199.10 292.50,199.10 293.00,199.10 293.50,199.10 294.00,199.10 294.50,199.10 294.60,199.10 295.00,199.10 295.50,199.10 296.00,199.10 296.50,199.10 297.00,199.10 297.50,199.10 298.00,199.10 298.50,199.10 299.00,199.10 299.50,199.10 300.00,199.10 300.50,199.10 301.00,199.10 301.50,199.10 302.00,199.10 302.50,199.10 303.00,199.10 303.50,199.10 304.00,199.10 304.50,199.10 305.00,199.10 305.50,199.10 306.00,199.10 306.20,199.10 306.50,199.10 307.00,199.10 307.50,199.10 308.00,199.10 308.50,199.10 309.00,199.10 309.50,199.10 310.00,199.10 310.50,199.10 311.00,199.10 311.50,199.10 312.00,199.10 312.50,199.10 313.00,199.10 313.50,199.10 314.00,199.10 314.50,199.10 315.00,199.10 315.50,199.10 316.00,199.10 316.50,199.10 316.60,199.10 317.00,200.05 317.50,201.25 318.00,202.44 318.50,203.63 319.00,204.82 319.50,206.02 320.00,207.21 320.50,208.40 321.00,209.59 321.50,210.78 322.00,211.98 322.50,213.17 323.00,214.36 323.50,215.55 324.00,216.75 324.40,217.70 324.50,217.76 325.00,218.07 325.50,218.37 326.00,218.68 326.50,218.98 327.00,219.28 327.50,219.59 328.00,219.89 328.50,220.20 329.00,220.50 329.50,220.81 330.00,221.11 330.50,221.42 330.80,221.60 331.00,221.60 331.50,221.60 332.00,221.60 332.50,221.60 333.00,221.60 333.50,221.60 334.00,221.60 334.50,221.60 335.00,221.60 335.50,221.60 336.00,221.60 336.50,221.60 336.80,221.60 337.00,222.38 337.50,224.32 338.00,226.26 338.50,228.21 339.00,230.15 339.50,232.10 340.00,234.04 340.50,235.98 341.00,237.93 341.50,239.87 342.00,241.81 342.50,243.76 343.00,245.70 343.50,245.71 344.00,245.72 344.50,245.72 345.00,245.73 345.50,245.74 346.00,245.75 346.50,245.75 347.00,245.76 347.50,245.77 348.00,245.78 348.50,245.78 349.00,245.79 349.50,245.80 350.00,246.44 350.50,247.07 351.00,247.71 351.50,248.34 352.00,248.98 352.50,249.61 353.00,250.25 353.50,250.88 354.00,251.52 354.50,252.15 355.00,252.79 355.50,253.42 356.00,254.06 356.50,254.69 357.00,255.33 357.50,255.96 358.00,256.60 358.50,256.97 359.00,257.34 359.50,257.71 360.00,258.08 360.50,258.44 361.00,258.81 361.50,259.18 362.00,259.55 362.50,259.92 363.00,260.29 363.50,260.66 364.00,261.02 364.50,261.39 365.00,261.76 365.50,262.13 366.00,262.50 366.50,262.89 367.00,263.28 367.50,263.67 368.00,264.06 368.50,264.45 369.00,264.84 369.50,265.23 370.00,265.62 370.50,266.01 371.00,266.40 371.50,266.40 372.00,266.41 372.50,266.41 373.00,266.41 373.50,266.42 374.00,266.42 374.50,266.42 375.00,266.43 375.50,266.43 376.00,266.43 376.50,266.44 377.00,266.44 377.50,266.44 378.00,266.45 378.50,266.45 379.00,266.45 379.50,266.46 380.00,266.46 380.50,266.46 381.00,266.47 381.50,266.47 382.00,266.47 382.50,266.48 383.00,266.48 383.50,266.48 384.00,266.49 384.50,266.49 385.00,266.49 385.50,266.50 386.00,266.50 386.50,266.50 387.00,266.51 387.50,266.51 388.00,266.51 388.50,266.52 389.00,266.52 389.50,266.52 390.00,266.53 390.50,266.53 391.00,266.54 391.50,266.54 392.00,266.54 392.50,266.55 393.00,266.55 393.50,266.55 394.00,266.56 394.50,266.56 395.00,266.56 395.50,266.57 396.00,266.57 396.50,266.57 397.00,266.58 397.50,266.58 398.00,266.58 398.50,266.59 399.00,266.59 399.50,266.59 400.00,266.60 400.50,266.60 401.00,266.60 401.50,266.61 402.00,266.61 402.50,266.61 403.00,266.62 403.50,266.62 404.00,266.62 404.50,266.63 405.00,266.63 405.50,266.63 406.00,266.64 406.50,266.64 407.00,266.64 407.50,266.65 408.00,266.65 408.50,266.65 409.00,266.66 409.50,266.66 410.00,266.66 410.50,266.67 411.00,266.67 411.50,266.67 412.00,266.68 412.50,266.68 413.00,266.68 413.50,266.69 414.00,266.69 414.50,266.69 415.00,266.70 415.50,266.70 416.00,266.70 416.50,266.71 417.00,266.71 417.50,266.71 418.00,266.72 418.50,266.72 419.00,266.72 419.50,266.73 420.00,266.73 420.50,266.73 421.00,266.74 421.50,266.74 422.00,266.74 422.50,266.75 423.00,266.75 423.50,266.75 424.00,266.76 424.50,266.76 425.00,266.76 425.50,266.77 426.00,266.77 426.50,266.78 427.00,266.78 427.50,266.78 428.00,266.79 428.50,266.79 429.00,266.79 429.50,266.80 430.00,266.80 430.20,266.80 430.50,267.31 431.00,268.16 431.50,269.01 432.00,269.87 432.50,270.72 433.00,271.57 433.50,272.42 434.00,273.27 434.50,274.12 435.00,274.97 435.50,275.83 436.00,276.68 436.50,277.53 436.60,277.70 437.00,278.74 437.50,280.04 438.00,281.34 438.50,282.64 439.00,283.94 439.50,285.24 440.00,286.54 440.50,287.84 441.00,289.14 441.50,290.44 442.00,291.74 442.50,293.04 443.00,294.34 443.10,294.60 443.50,294.63 444.00,294.66 444.50,294.70 445.00,294.74 445.50,294.77 446.00,294.81 446.50,294.84 447.00,294.88 447.50,294.91 448.00,294.95 448.50,294.99 448.70,295.00 449.00,295.33 449.50,295.88 450.00,296.42 450.50,296.97 451.00,297.52 451.50,298.06 452.00,298.61 452.50,299.16 453.00,299.71 453.50,300.25 454.00,300.80 454.50,301.35 455.00,301.90 455.50,302.44 456.00,302.99 456.10,303.10 456.50,303.24 457.00,303.41 457.50,303.59 458.00,303.76 458.50,303.94 459.00,304.11 459.50,304.29 460.00,304.46 460.50,304.64 461.00,304.81 461.50,304.99 462.00,305.16 462.50,305.34 463.00,305.51 463.50,305.69 464.00,305.86 464.50,306.04 465.00,306.21 465.50,306.39 466.00,306.56 466.40,306.70 466.50,306.71 467.00,306.74 467.50,306.76 468.00,306.79 468.50,306.82 469.00,306.85 469.50,306.88 470.00,306.91 470.50,306.94 471.00,306.97 471.50,307.00 472.00,307.03 472.50,307.06 473.00,307.09 473.50,307.12 474.00,307.15 474.50,307.18 475.00,307.21 475.50,307.24 476.00,307.26 476.50,307.29 477.00,307.32 477.50,307.35 478.00,307.38 478.50,307.41 479.00,307.44 479.50,307.47 480.00,307.50 480.50,307.55 481.00,307.60 481.50,307.64 482.00,307.69 482.50,307.74 483.00,307.79 483.50,307.84 484.00,307.89 484.50,307.93 485.00,307.98 485.50,308.03 486.00,308.08 486.50,308.13 487.00,308.18 487.50,308.22 488.00,308.27 488.50,308.32 489.00,308.37 489.50,308.42 490.00,308.47 490.50,308.51 491.00,308.56 491.50,308.61 492.00,308.66 492.50,308.71 493.00,308.76 493.50,308.80 494.00,308.85 494.50,308.90 495.00,308.90 495.50,308.90 496.00,308.90 496.50,308.90 497.00,308.90 497.50,308.90 498.00,308.90 498.50,308.90 499.00,308.90 499.50,308.90 500.00,308.90 500.50,308.90 501.00,309.85 501.50,310.81 502.00,311.76 502.50,312.72 503.00,313.67 503.50,314.62 504.00,315.58 504.50,316.53 505.00,317.49 505.50,318.44 505.50,320.17 505.00,321.14 504.50,322.11 504.00,323.08 503.50,324.05 503.00,325.02 502.50,325.99 502.00,326.96 501.50,327.93 501.00,328.90 500.50,329.88 500.00,330.74 499.50,331.60 499.00,332.46 498.50,333.32 498.00,334.18 497.50,335.04 497.00,335.90 496.50,336.76 496.00,337.62 495.50,338.48 495.00,339.34 494.50,340.20 494.00,339.88 493.50,339.55 493.00,339.23 492.50,338.91 492.00,338.58 491.50,338.26 491.00,337.94 490.50,337.61 490.00,337.29 489.50,336.97 489.00,336.64 488.50,336.32 488.00,336.00 487.50,335.68 487.00,335.68 486.50,335.68 486.00,335.68 485.50,335.68 485.00,335.68 484.50,335.68 484.00,335.68 483.50,335.68 483.00,335.68 482.50,335.68 482.00,335.68 481.50,335.68 481.00,335.68 480.50,335.68 480.00,335.68 479.50,335.68 479.00,335.68 478.50,335.68 478.00,335.68 477.50,335.68 477.00,335.68 476.50,335.68 476.00,335.68 475.50,335.68 475.00,335.52 474.50,335.36 474.00,335.20 473.50,335.04 473.00,334.88 472.50,334.73 472.00,334.57 471.50,334.41 471.00,334.25 470.50,334.09 470.00,333.93 469.50,333.77 469.00,333.70 468.50,333.62 468.00,333.55 467.50,333.47 467.00,333.40 466.50,333.32 466.40,333.31 466.00,333.25 465.50,333.18 465.00,333.10 464.50,333.03 464.00,332.95 463.50,332.88 463.00,332.80 462.50,332.73 462.00,332.75 461.50,332.77 461.00,332.79 460.50,332.82 460.00,332.84 459.50,332.86 459.00,332.89 458.50,332.91 458.00,332.93 457.50,332.95 457.00,332.98 456.50,333.00 456.10,333.69 456.00,333.87 455.50,334.74 455.00,335.61 454.50,336.48 454.00,337.34 453.50,338.21 453.00,339.08 452.50,339.95 452.00,340.82 451.50,341.69 451.00,342.56 450.50,343.43 450.00,343.69 449.50,343.95 449.00,344.21 448.70,344.36 448.50,344.47 448.00,344.73 447.50,344.99 447.00,345.25 446.50,345.51 446.00,345.77 445.50,346.03 445.00,346.29 444.50,346.55 444.00,346.81 443.50,347.07 443.10,347.02 443.00,347.01 442.50,346.94 442.00,346.88 441.50,346.81 441.00,346.74 440.50,346.67 440.00,346.61 439.50,346.54 439.00,346.47 438.50,346.41 438.00,346.34 437.50,346.27 437.00,347.08 436.60,347.72 436.50,347.88 436.00,348.68 435.50,349.48 435.00,350.29 434.50,351.09 434.00,351.89 433.50,352.69 433.00,353.49 432.50,354.30 432.00,355.10 431.50,355.90 431.00,356.28 430.50,356.65 430.20,356.88 430.00,357.03 429.50,357.40 429.00,357.78 428.50,358.15 428.00,358.53 427.50,358.90 427.00,359.28 426.50,359.65 426.00,360.03 425.50,360.40 425.00,360.78 424.50,361.15 424.00,361.15 423.50,361.15 423.00,361.15 422.50,361.15 422.00,361.15 421.50,361.15 421.00,361.15 420.50,361.15 420.00,361.15 419.50,361.15 419.00,361.15 418.50,361.15 418.00,361.15 417.50,361.15 417.00,361.15 416.50,361.15 416.00,361.15 415.50,361.15 415.00,361.15 414.50,361.15 414.00,361.15 413.50,361.15 413.00,361.15 412.50,361.15 412.00,361.46 411.50,361.77 411.00,362.08 410.50,362.39 410.00,362.70 409.50,363.01 409.00,363.32 408.50,363.63 408.00,363.94 407.50,364.25 407.00,364.56 406.50,364.88 406.00,365.23 405.50,365.59 405.00,365.95 404.50,366.30 404.00,366.66 403.50,367.02 403.00,367.38 402.50,367.73 402.00,368.09 401.50,368.45 401.00,368.80 400.50,369.16 400.00,369.52 399.50,369.88 399.00,369.97 398.50,370.07 398.00,370.17 397.50,370.27 397.00,370.36 396.50,370.46 396.00,370.56 395.50,370.66 395.00,370.76 394.50,370.85 394.00,370.95 393.50,371.05 393.00,370.72 392.50,370.39 392.00,370.06 391.50,369.73 391.00,369.39 390.50,369.06 390.00,368.73 389.50,368.40 389.00,368.07 388.50,367.74 388.00,367.41 387.50,367.08 387.00,366.95 386.50,366.83 386.00,366.71 385.50,366.59 385.00,366.47 384.50,366.35 384.00,366.23 383.50,366.10 383.00,365.98 382.50,365.86 382.00,365.74 381.50,365.62 381.00,365.50 380.50,365.38 380.00,364.47 379.50,363.57 379.00,362.67 378.50,361.77 378.00,360.86 377.50,359.96 377.00,359.06 376.50,358.16 376.00,357.26 375.50,356.35 375.00,355.45 374.50,354.55 374.00,353.80 373.50,353.05 373.00,352.30 372.50,351.55 372.00,350.80 371.50,350.05 371.00,349.30 370.50,348.55 370.00,347.80 369.50,347.05 369.00,346.30 368.50,345.55 368.00,345.07 367.50,344.59 367.00,344.11 366.50,343.63 366.00,343.15 365.50,342.67 365.00,342.19 364.50,341.71 364.00,341.23 363.50,340.75 363.00,340.27 362.50,339.79 362.00,339.31 361.50,338.82 361.00,337.59 360.50,336.35 360.00,335.11 359.50,333.88 359.00,332.64 358.50,331.40 358.00,330.16 357.50,328.93 357.00,327.69 356.50,326.45 356.00,325.21 355.50,323.98 355.00,323.24 354.50,322.50 354.00,321.77 353.50,321.03 353.00,320.30 352.50,319.56 352.00,318.83 351.50,318.09 351.00,317.36 350.50,316.62 350.00,315.89 349.50,315.15 349.00,315.15 348.50,315.15 348.00,315.15 347.50,315.15 347.00,315.15 346.50,315.15 346.00,315.15 345.50,315.15 345.00,315.15 344.50,315.15 344.00,315.15 343.50,315.15 343.00,312.83 342.50,310.51 342.00,308.20 341.50,305.88 341.00,303.56 340.50,301.24 340.00,298.92 339.50,296.61 339.00,294.29 338.50,291.97 338.00,289.65 337.50,287.34 337.00,285.02 336.80,284.09 336.50,282.70 336.00,282.63 335.50,282.57 335.00,282.50 334.50,282.43 334.00,282.37 333.50,282.30 333.00,282.23 332.50,282.17 332.00,282.10 331.50,282.03 331.00,281.97 330.80,281.94 330.50,281.90 330.00,281.42 329.50,280.93 329.00,280.45 328.50,279.97 328.00,279.48 327.50,279.00 327.00,278.51 326.50,278.03 326.00,277.55 325.50,277.06 325.00,276.58 324.50,276.10 324.40,276.00 324.00,275.03 323.50,273.82 323.00,272.61 322.50,271.40 322.00,270.18 321.50,268.97 321.00,267.76 320.50,266.55 320.00,265.34 319.50,264.13 319.00,262.92 318.50,261.70 318.00,260.49 317.50,259.28 317.00,258.07 316.60,257.10 316.50,257.10 316.00,257.10 315.50,257.10 315.00,257.10 314.50,257.10 314.00,257.10 313.50,257.10 313.00,257.10 312.50,257.10 312.00,257.10 311.50,257.10 311.00,257.10 310.50,257.10 310.00,257.10 309.50,257.10 309.00,257.10 308.50,257.10 308.00,257.10 307.50,257.10 307.00,257.10 306.50,257.10 306.20,257.10 306.00,257.07 305.50,256.99 305.00,256.91 304.50,256.84 304.00,256.76 303.50,256.68 303.00,256.60 302.50,256.53 302.00,256.45 301.50,256.37 301.00,256.29 300.50,256.22 300.00,256.14 299.50,256.06 299.00,255.98 298.50,255.91 298.00,255.83 297.50,255.75 297.00,255.67 296.50,255.59 296.00,255.52 295.50,255.44 295.00,255.36 294.60,255.30 294.50,255.26 294.00,255.04 293.50,254.83 293.00,254.61 292.50,254.40 292.00,254.19 291.50,253.97 291.00,253.76 290.50,253.54 290.00,253.33 289.50,253.11 289.00,252.90 288.50,252.69 288.00,252.47 287.50,252.26 287.00,252.04 286.50,251.83 286.00,251.61 285.50,251.40 285.00,251.36 284.50,251.32 284.00,251.28 283.50,251.25 283.00,251.21 282.50,251.17 282.00,251.13 281.50,251.09 281.00,251.05 280.50,251.02 280.00,250.98 279.50,250.94 279.00,250.90 278.50,250.28 278.00,249.65 277.50,249.03 277.00,248.40 276.50,247.78 276.00,247.15 275.50,246.53 275.00,245.90 274.50,245.28 274.00,244.65 273.50,244.03 273.00,243.40 272.50,242.78 272.00,242.15 271.50,241.53 271.00,240.90 270.50,240.28 270.00,239.65 269.50,239.03 269.00,238.40 268.50,237.78 268.00,237.15 267.50,236.53 267.40,236.40 267.00,236.33 266.50,236.25 266.00,236.16 265.50,236.08 265.00,235.99 264.50,235.91 264.00,235.82 263.50,235.74 263.00,235.66 262.50,235.57 262.00,235.49 261.50,235.40 261.00,235.32 260.90,235.30 260.50,235.18 260.00,235.02 259.50,234.87 259.00,234.72 258.50,234.56 258.00,234.41 257.50,234.25 257.00,234.10 256.50,233.95 256.00,233.79 255.50,233.64 255.00,233.48 254.50,233.33 254.40,233.30 254.00,232.90 253.50,232.40 253.00,231.90 252.50,231.40 252.00,230.90 251.50,230.40 251.00,229.90 250.50,229.40 250.00,228.90 249.50,228.40 249.00,227.90 248.50,227.40 248.00,226.90 247.90,226.80 247.50,226.18 247.00,225.40 246.50,224.62 246.00,223.84 245.50,223.06 245.00,222.28 244.50,221.49 244.00,220.71 243.50,219.93 243.00,219.15 242.50,218.37 242.00,217.59 241.50,216.81 241.00,216.03 240.50,215.25 240.00,214.47 239.50,213.69 239.00,212.91 238.50,212.13 238.00,211.35 237.50,210.57 237.00,209.79 236.50,209.01 236.30,208.70 236.00,208.40 235.50,207.90 235.00,207.40 234.50,206.90 234.00,206.40 233.50,205.90 233.00,205.40 232.50,204.90 232.00,204.40 231.50,203.90 231.00,203.40 230.50,202.90 230.00,202.40 229.50,201.90 229.00,201.40 228.50,200.90 228.00,200.87 227.50,200.83 227.00,200.80 226.50,200.76 226.00,200.73 225.50,200.69 225.00,200.66 224.50,200.63 224.00,200.59 223.50,200.56 223.00,200.52 222.50,200.49 222.00,200.46 221.50,200.42 221.00,200.39 220.50,200.35 220.00,200.32 219.50,200.28 219.00,200.25 218.50,200.22 218.00,200.18 217.50,200.15 217.00,200.11 216.80,200.10 216.50,199.77 216.00,199.22 215.50,198.68 215.00,198.13 214.50,197.58 214.00,197.04 213.50,196.49 213.00,195.94 212.50,195.40 212.00,194.85 211.50,194.30 211.00,193.76 210.50,193.21 210.40,193.10 210.00,192.75 209.50,192.32 209.00,191.89 208.50,191.46 208.00,191.03 207.50,190.59 207.00,190.16 206.50,189.73 206.00,189.30 205.50,188.86 205.00,188.43 204.50,188.00 204.00,187.59 203.50,187.18 203.00,186.78 202.50,186.37 202.00,185.96 201.50,185.55 201.00,185.14 200.50,184.73 200.00,184.32 199.50,183.92 199.00,183.51 198.50,183.10 198.00,182.97 197.50,182.85 197.20,182.78 197.00,182.72 196.50,182.60 196.00,182.47 195.50,182.35 195.00,182.22 194.50,182.10 194.00,181.97 193.50,181.85 193.30,181.80 193.00,181.65 192.50,181.40 192.00,181.14 191.50,180.89 191.00,180.64 190.80,180.54 190.50,180.39 190.00,180.13 189.50,179.88 189.00,179.63 188.50,179.38 188.00,179.12 187.50,178.87 187.00,178.62 186.50,178.37 186.00,178.11 185.50,177.86 185.00,177.61 184.50,177.36 184.00,177.10 183.50,176.85 183.00,176.60 182.50,176.52 182.00,176.45 181.50,176.37 181.00,176.29 180.50,176.22 180.00,176.14 179.50,176.06 179.00,175.98 178.50,175.91 178.00,175.83 177.80,175.80 177.50,175.75 177.00,175.68 176.50,175.60 176.00,175.52 175.50,175.45 175.00,175.37 174.50,175.29 174.00,175.22 173.50,175.14 173.00,175.06 172.60,175.00 172.50,174.89 172.00,174.33 171.50,173.77 171.30,173.55 171.00,173.21 170.50,172.66 170.00,172.10 169.50,171.54 169.00,170.98 168.50,170.42 168.00,169.87 167.50,169.31 167.00,168.75 166.50,168.19 166.00,167.63 165.50,167.07 165.00,166.52 164.50,165.96 164.00,165.40 163.50,165.01 163.00,164.63 162.50,164.24 162.00,163.86 161.50,163.47 161.00,163.09 160.50,162.70 160.00,162.31 159.50,161.93 159.00,161.54 158.50,161.16 158.00,160.77 157.50,160.39 157.00,160.00 156.50,159.84 156.00,159.69 155.50,159.53 155.00,159.37 154.50,159.22 154.00,159.06 153.50,158.90 153.00,158.75 152.50,158.59 152.00,158.43 151.90,158.40 151.50,158.28 151.00,158.13 150.50,157.98 150.00,157.83 149.50,157.68 149.00,157.54 148.50,157.39 148.00,157.24 147.50,157.09 147.00,156.94 146.70,156.85 146.50,156.79 146.00,156.64 145.50,156.49 145.00,156.34 144.50,156.19 144.00,156.05 143.50,155.90 143.00,155.75 142.50,155.60 142.00,155.45 141.50,155.30 141.00,154.92 140.50,154.53 140.00,154.15 139.50,153.77 139.00,153.38 138.90,153.31 138.50,153.00 138.00,152.62 137.50,152.24 137.00,151.85 136.50,151.47 136.00,151.09 135.50,150.70 135.00,150.32 134.50,149.94 134.00,149.55 133.80,149.40 133.50,149.40 133.00,149.40 132.50,149.40 132.00,149.40 131.50,149.40 131.20,149.40 131.00,149.40 130.50,149.40 130.00,149.40 129.50,149.40 129.00,149.40 128.50,149.40 128.00,149.40 127.50,149.40 127.00,149.40 126.50,149.40 126.00,149.40 125.50,149.40 125.00,149.40 124.50,149.40 124.00,149.40 123.50,149.40 123.00,149.40 122.50,149.40 122.10,149.40 122.00,149.49 121.50,149.94 121.00,150.40 120.50,150.85 120.00,151.31 119.50,151.76 119.00,152.21 118.50,152.67 118.00,153.12 117.50,153.58 117.00,154.03 116.50,154.48 116.00,154.94 115.60,155.30 115.50,155.33 115.00,155.48 114.50,155.62 114.00,155.77 113.50,155.91 113.00,156.06 112.50,156.21 112.00,156.35 111.50,156.50 111.00,156.64 110.50,156.79 110.00,156.94 109.50,157.08 109.10,157.20 109.00,157.33 108.50,158.00 108.00,158.66 107.50,159.33 107.00,159.99 106.50,160.66 106.00,161.32 105.50,161.99 105.00,162.65 104.50,163.32 104.00,163.98 103.50,164.64 103.00,165.31 102.90,165.44 102.50,165.97 102.00,166.64 101.50,167.30 101.00,167.97 100.60,168.50 100.50,168.70 100.00,169.69 99.50,170.67 99.00,171.66 98.50,172.65 98.00,173.64 97.50,174.63 97.00,175.61 96.50,176.60 96.40,176.80 96.00,176.77 95.50,176.74 95.00,176.70 94.50,176.67 94.00,176.63 93.50,176.60 93.00,176.56 92.50,176.53 92.00,176.49 91.50,176.46 91.00,176.42 90.70,176.40 90.50,176.36 90.00,176.28 89.70,176.22 89.50,176.19 89.00,176.10 88.50,176.01 88.00,175.92 87.50,175.83 87.00,175.74 86.50,175.65 86.00,175.57 85.50,175.48 85.00,175.39 84.50,175.30 84.00,175.25 83.50,175.20 83.00,175.15 82.50,175.10 82.00,175.05 81.50,175.00 81.00,174.95 80.50,174.90 80.00,174.85 79.50,174.80 79.00,174.75 78.80,174.73 78.50,174.70 78.00,174.64 77.50,174.59 77.00,174.54 76.50,174.49 76.00,174.44 75.50,174.39 75.00,174.34 74.50,174.29 74.00,174.24 73.50,174.19 73.00,174.14 72.50,174.09 72.00,174.04 71.60,174.00 71.50,173.97 71.00,173.80 70.50,173.63 70.00,173.47 69.50,173.30 69.00,173.13 68.50,172.97 68.00,172.80 67.50,172.63 67.00,172.47 66.50,172.30 66.00,172.13 65.50,171.97 65.00,171.80 64.50,171.63 64.00,171.47 63.80,171.40 63.50,171.35 63.00,171.28 62.50,171.20 62.00,171.12 61.50,171.05 61.00,170.97 60.50,170.90 60.00,170.82 59.50,170.74 59.00,170.67 58.50,170.59 58.00,170.51 57.50,170.44 57.00,170.36 56.50,170.28 56.00,170.21 55.50,170.13 55.00,170.05 54.50,169.98 54.00,169.90 53.50,169.82 53.00,169.75 52.50,169.67 52.00,169.60 51.50,169.52 51.00,169.44 50.50,169.37 50.00,169.29 49.50,169.21 49.00,169.14 48.50,169.06 48.00,168.98 47.50,168.91 47.00,168.83 46.80,168.80 46.50,166.83 46.00,163.54 45.50,160.26 45.00,156.97 44.50,153.69 44.00,150.40 43.50,147.11 43.00,143.83 42.50,140.54 42.00,137.26 41.50,133.97 41.00,130.69 40.50,127.40 40.00,127.34 39.50,127.29 39.00,127.23 38.50,127.18 38.00,127.12 37.50,127.07 37.00,127.01 36.50,126.96 36.00,126.90 35.50,126.84 35.00,126.79 34.50,126.73 34.00,126.68 33.50,126.62 33.00,126.57 32.50,126.51 32.00,126.46 31.50,126.40 31.00,126.34 30.50,126.29 30.00,126.23 29.50,126.18 29.00,126.12 28.80,126.10 28.50,126.02 28.00,125.88 27.50,125.74 27.00,125.60 26.50,125.46 26.00,125.32 25.50,125.18 25.00,125.04 24.50,124.90 24.00,124.76 23.50,124.62 23.00,124.48 22.50,124.34 22.00,124.20 21.50,124.06 21.00,123.92 20.50,123.78 20.00,123.64 19.50,123.50 19.00,123.36 18.50,123.22 18.00,123.08 17.50,122.94 17.00,122.80 16.50,122.66 16.00,122.52 15.50,122.38 15.00,122.24 14.50,122.10 14.00,121.96 13.50,121.82 13.00,121.68 12.50,121.54 12.00,121.40" fill="rgba(244,67,54,0.1)"/><polygon points="720.00,305.02 720.50,304.05 721.00,302.56 721.50,301.07 722.00,299.58 722.50,298.09 723.00,296.60 723.50,295.11 724.00,293.62 724.50,292.14 725.00,290.65 725.50,289.16 726.00,287.67 726.50,286.18 727.00,284.69 727.50,283.20 728.00,282.90 728.50,282.60 729.00,282.30 729.50,282.00 730.00,281.70 730.50,281.40 731.00,281.10 731.50,280.80 732.00,280.50 732.50,280.20 733.00,279.90 733.50,279.60 734.00,279.60 734.50,279.60 735.00,279.60 735.50,279.60 736.00,279.60 736.50,279.60 737.00,279.60 737.50,279.60 738.00,279.60 738.50,279.60 739.00,279.60 739.50,279.60 740.00,279.60 740.50,279.60 741.00,279.60 741.50,279.60 742.00,279.60 742.50,279.60 743.00,279.60 743.50,279.60 744.00,279.60 744.50,279.60 745.00,279.60 745.50,279.60 746.00,279.60 746.50,279.60 747.00,279.60 747.50,279.60 748.00,279.60 748.50,279.60 749.00,279.60 749.50,279.60 750.00,279.60 750.50,279.60 751.00,279.60 751.50,279.60 752.00,279.60 752.50,279.60 753.00,280.10 753.50,280.61 754.00,281.11 754.50,281.62 755.00,282.12 755.50,282.62 756.00,283.13 756.50,283.63 757.00,284.14 757.50,284.64 758.00,285.15 758.50,285.65 759.00,286.44 759.50,287.23 760.00,288.02 760.50,288.81 761.00,289.60 761.50,290.39 762.00,291.17 762.50,291.96 763.00,292.75 763.50,293.54 764.00,294.33 764.50,295.12 765.00,295.91 765.50,296.70 766.00,296.70 766.50,296.70 767.00,296.70 767.50,296.70 768.00,296.70 768.50,296.70 769.00,296.70 769.50,296.70 770.00,296.70 770.50,296.70 771.00,296.70 771.50,296.70 772.00,296.70 772.50,296.70 773.00,296.70 773.50,296.70 774.00,296.70 774.50,296.70 775.00,296.70 775.50,296.70 776.00,296.70 776.50,296.70 777.00,296.70 777.50,296.70 778.00,296.70 778.50,296.70 779.00,296.70 779.50,296.70 780.00,296.70 780.50,296.70 781.00,296.70 781.50,296.70 782.00,296.70 782.50,296.70 783.00,296.70 783.50,296.70 784.00,296.70 784.50,296.70 785.00,296.70 785.50,296.70 786.00,296.70 786.50,296.70 787.00,296.70 787.50,296.70 788.00,296.70 788.50,296.70 789.00,296.70 789.50,296.70 790.00,296.70 790.50,296.70 791.00,296.70 791.50,296.70 792.00,296.70 792.50,296.70 793.00,296.70 793.50,296.70 794.00,296.70 794.50,296.70 795.00,296.70 795.50,296.70 796.00,296.70 796.50,296.70 797.00,296.70 797.50,296.70 798.00,296.70 798.50,296.70 799.00,296.70 799.50,296.70 800.00,296.70 800.50,296.70 801.00,296.70 801.50,296.70 802.00,296.70 802.50,296.70 803.00,296.70 803.50,296.70 804.00,296.70 804.50,296.70 805.00,296.70 805.50,296.70 806.00,296.70 806.50,296.70 807.00,296.70 807.50,296.70 808.00,296.70 808.50,296.70 809.00,296.70 809.50,296.70 810.00,296.70 810.50,296.70 811.00,296.70 811.50,296.70 812.00,296.70 812.50,296.70 813.00,296.70 813.50,296.70 814.00,296.70 814.50,296.70 815.00,296.70 815.50,296.70 816.00,296.70 816.50,296.70 817.00,296.70 817.50,296.70 818.00,296.70 818.50,296.70 819.00,296.70 819.50,296.70 820.00,296.70 820.50,296.70 821.00,296.70 821.50,296.70 822.00,296.70 822.50,296.70 823.00,296.70 823.50,296.70 824.00,296.70 824.50,296.70 825.00,296.70 825.50,296.70 826.00,296.70 826.50,296.70 827.00,296.70 827.50,296.70 828.00,296.70 828.50,296.70 829.00,296.70 829.50,296.70 830.00,296.70 830.50,296.70 831.00,296.70 831.50,296.70 832.00,296.70 832.50,296.70 833.00,296.70 833.50,296.70 834.00,296.70 834.50,296.70 835.00,296.70 835.50,296.70 836.00,296.70 836.50,296.70 837.00,296.70 837.50,296.70 838.00,296.70 838.50,296.70 839.00,296.70 839.50,296.70 840.00,296.70 840.50,296.70 841.00,296.70 841.50,296.70 842.00,296.70 842.50,296.70 843.00,296.70 843.50,296.70 844.00,296.70 844.50,296.70 845.00,296.70 845.50,296.70 846.00,296.70 846.50,296.70 847.00,296.70 847.50,296.70 848.00,296.70 848.50,296.70 849.00,296.70 849.50,296.70 850.00,296.70 850.50,296.70 851.00,296.70 851.50,296.70 852.00,296.70 852.50,296.70 853.00,296.70 853.50,296.70 854.00,296.70 854.50,296.70 855.00,296.70 855.50,296.70 856.00,296.70 856.50,296.70 857.00,296.70 857.50,296.70 858.00,296.70 858.50,296.70 859.00,296.70 859.50,296.70 860.00,296.70 860.50,296.70 861.00,296.70 861.50,296.70 862.00,296.70 862.50,296.70 863.00,296.70 863.50,296.70 864.00,296.70 864.50,296.70 865.00,296.70 865.50,296.70 866.00,296.70 866.50,296.70 867.00,296.70 867.50,296.70 868.00,296.70 868.50,296.70 869.00,296.70 869.50,296.70 870.00,296.70 870.50,296.70 871.00,296.70 871.50,296.70 872.00,296.70 872.50,296.70 873.00,297.13 873.50,297.56 874.00,297.99 874.50,298.42 875.00,298.85 875.50,299.27 876.00,299.70 876.00,300.31 875.50,300.89 875.00,301.47 874.50,302.05 874.00,302.63 873.50,303.21 873.00,303.79 872.50,304.38 872.00,304.64 871.50,304.90 871.00,305.16 870.50,305.42 870.00,305.68 869.50,305.94 869.00,306.20 868.50,306.46 868.00,306.72 867.50,306.98 867.00,307.24 866.50,307.50 866.00,307.76 865.50,308.02 865.00,308.15 864.50,308.27 864.00,308.39 863.50,308.52 863.00,308.64 862.50,308.76 862.00,308.89 861.50,309.01 861.00,309.13 860.50,309.25 860.00,309.38 859.50,309.50 859.00,309.54 858.50,309.57 858.00,309.61 857.50,309.64 857.00,309.68 856.50,309.71 856.00,309.75 855.50,309.78 855.00,309.82 854.50,309.85 854.00,309.89 853.50,309.92 853.00,309.92 852.50,309.92 852.00,309.92 851.50,309.92 851.00,309.92 850.50,309.92 850.00,309.92 849.50,309.92 849.00,309.92 848.50,309.92 848.00,309.92 847.50,309.92 847.00,309.92 846.50,309.92 846.00,310.49 845.50,311.06 845.00,311.63 844.50,312.20 844.00,312.77 843.50,313.34 843.00,313.91 842.50,314.47 842.00,315.04 841.50,315.61 841.00,316.18 840.50,316.75 840.00,317.08 839.50,317.42 839.00,317.75 838.50,318.08 838.00,318.42 837.50,318.75 837.00,319.08 836.50,319.42 836.00,319.75 835.50,320.08 835.00,320.42 834.50,320.75 834.00,320.75 833.50,320.75 833.00,320.75 832.50,320.75 832.00,320.75 831.50,320.75 831.00,320.75 830.50,320.75 830.00,320.75 829.50,320.75 829.00,320.75 828.50,320.75 828.00,321.38 827.50,322.00 827.00,322.62 826.50,323.25 826.00,323.88 825.50,324.50 825.00,325.12 824.50,325.75 824.00,326.38 823.50,327.00 823.00,327.62 822.50,328.25 822.00,328.88 821.50,329.50 821.00,331.16 820.50,332.83 820.00,334.49 819.50,336.16 819.00,337.82 818.50,339.49 818.00,341.15 817.50,342.82 817.00,344.48 816.50,346.15 816.00,347.81 815.50,349.48 815.00,349.53 814.50,349.58 814.00,349.64 813.50,349.69 813.00,349.75 812.50,349.80 812.00,349.85 811.50,349.91 811.00,349.96 810.50,350.02 810.00,350.07 809.50,350.12 809.00,350.14 808.50,350.16 808.00,350.18 807.50,350.20 807.00,350.22 806.50,350.24 806.00,350.26 805.50,350.28 805.00,350.30 804.50,350.32 804.00,350.34 803.50,350.36 803.00,350.38 802.50,350.40 802.00,350.05 801.50,349.70 801.00,349.36 800.50,349.01 800.00,348.66 799.50,348.31 799.00,347.96 798.50,347.62 798.00,347.27 797.50,346.92 797.00,346.57 796.50,346.23 796.00,345.85 795.50,345.48 795.00,345.11 794.50,344.73 794.00,344.36 793.50,343.99 793.00,343.61 792.50,343.24 792.00,342.87 791.50,342.50 791.00,342.12 790.50,341.75 790.00,341.75 789.50,341.75 789.00,341.75 788.50,341.75 788.00,341.75 787.50,341.75 787.00,341.75 786.50,341.75 786.00,341.75 785.50,341.75 785.00,341.75 784.50,341.75 784.00,341.75 783.50,341.75 783.00,341.41 782.50,341.07 782.00,340.73 781.50,340.38 781.00,340.04 780.50,339.70 780.00,339.36 779.50,339.02 779.00,338.67 778.50,338.33 778.00,337.99 777.50,337.65 777.00,337.46 776.50,337.27 776.00,337.08 775.50,336.89 775.00,336.70 774.50,336.51 774.00,336.32 773.50,336.13 773.00,335.94 772.50,335.75 772.00,335.56 771.50,335.38 771.00,335.05 770.50,334.73 770.00,334.40 769.50,334.07 769.00,333.75 768.50,333.42 768.00,333.10 767.50,332.77 767.00,332.45 766.50,332.12 766.00,331.80 765.50,331.47 765.00,330.69 764.50,329.90 764.00,329.11 763.50,328.32 763.00,327.53 762.50,326.74 762.00,325.95 761.50,325.16 761.00,324.37 760.50,323.58 760.00,322.79 759.50,322.00 759.00,321.21 758.50,320.43 758.00,319.84 757.50,319.25 757.00,318.67 756.50,318.08 756.00,317.50 755.50,316.91 755.00,316.33 754.50,315.74 754.00,315.16 753.50,314.57 753.00,313.99 752.50,313.40 752.00,313.15 751.50,312.91 751.00,312.66 750.50,312.42 750.00,312.17 749.50,311.93 749.00,311.68 748.50,311.43 748.00,311.19 747.50,310.94 747.00,310.70 746.50,310.45 746.00,310.20 745.50,309.95 745.00,309.69 744.50,309.44 744.00,309.19 743.50,308.94 743.00,308.69 742.50,308.44 742.00,308.18 741.50,307.93 741.00,307.68 740.50,307.43 740.00,307.18 739.50,306.93 739.00,306.93 738.50,306.93 738.00,306.93 737.50,306.93 737.00,306.93 736.50,306.93 736.00,306.93 735.50,306.93 735.00,306.93 734.50,306.93 734.00,306.93 733.50,306.93 733.00,306.72 732.50,306.52 732.00,306.31 731.50,306.11 731.00,305.90 730.50,305.70 730.00,305.50 729.50,305.29 729.00,305.09 728.50,304.88 728.00,304.68 727.50,304.48 727.00,304.61 726.50,304.75 726.00,304.89 725.50,305.03 725.00,305.17 724.50,305.31 724.00,305.45 723.50,305.59 723.00,305.73 722.50,305.87 722.00,306.01 721.50,306.15 721.00,306.29 720.50,306.43 720.00,306.11" fill="rgba(244,67,54,0.1)"/><polygon points="1065.50,307.40 1066.00,307.40 1066.50,307.40 1067.00,307.40 1067.50,307.40 1068.00,307.40 1068.50,307.40 1069.00,307.40 1069.50,307.40 1070.00,307.40 1070.50,307.40 1071.00,307.40 1071.50,307.40 1072.00,307.40 1072.50,307.40 1073.00,307.40 1073.50,307.40 1074.00,307.40 1074.50,307.40 1075.00,307.40 1075.50,307.40 1076.00,307.40 1076.50,307.40 1077.00,307.40 1077.50,307.40 1078.00,307.40 1078.50,307.40 1079.00,307.40 1079.50,307.40 1080.00,307.40 1080.50,307.40 1081.00,307.40 1081.50,307.40 1082.00,307.40 1082.50,307.40 1083.00,307.40 1083.50,307.40 1084.00,307.40 1084.50,307.40 1085.00,307.40 1085.50,307.40 1086.00,307.40 1086.50,307.40 1087.00,307.13 1087.50,306.87 1088.00,306.60 1088.50,306.33 1089.00,306.07 1089.50,305.80 1090.00,305.53 1090.50,305.27 1091.00,305.00 1091.50,304.73 1092.00,304.47 1092.50,304.20 1093.00,304.20 1093.50,304.20 1094.00,304.20 1094.50,304.20 1095.00,304.20 1095.50,304.20 1096.00,304.20 1096.50,304.20 1097.00,304.20 1097.50,304.20 1098.00,304.20 1098.50,304.20 1099.00,304.20 1099.50,304.20 1100.00,304.20 1100.50,304.20 1101.00,304.20 1101.50,304.20 1102.00,304.20 1102.50,304.20 1103.00,304.20 1103.50,304.20 1104.00,304.20 1104.50,304.20 1105.00,304.20 1105.50,304.20 1106.00,303.53 1106.50,302.87 1107.00,302.20 1107.50,301.53 1108.00,300.87 1108.50,300.20 1109.00,299.53 1109.50,298.87 1110.00,298.20 1110.50,297.53 1111.00,296.87 1111.50,296.20 1112.00,296.09 1112.50,295.98 1113.00,295.86 1113.50,295.75 1114.00,295.64 1114.50,295.52 1115.00,295.41 1115.50,295.30 1116.00,295.19 1116.50,295.08 1117.00,294.96 1117.50,294.85 1118.00,294.85 1118.50,294.85 1119.00,294.85 1119.50,294.85 1120.00,294.85 1120.50,294.85 1121.00,294.85 1121.50,294.85 1122.00,294.85 1122.50,294.85 1123.00,294.85 1123.50,294.85 1124.00,294.85 1124.50,294.85 1125.00,294.78 1125.50,294.71 1126.00,294.64 1126.50,294.57 1127.00,294.50 1127.50,294.43 1128.00,294.35 1128.50,294.28 1129.00,294.21 1129.50,294.14 1130.00,294.07 1130.50,294.00 1131.00,293.94 1131.50,293.88 1132.00,293.81 1132.50,293.75 1133.00,293.69 1133.50,293.62 1134.00,293.56 1134.50,293.50 1135.00,293.44 1135.50,293.38 1136.00,293.31 1136.50,293.25 1137.00,293.25 1137.50,293.25 1138.00,293.25 1138.50,293.25 1139.00,293.25 1139.50,293.25 1140.00,293.25 1140.50,293.25 1141.00,293.25 1141.50,293.25 1142.00,293.25 1142.50,293.25 1143.00,293.30 1143.50,293.34 1144.00,293.39 1144.50,293.44 1145.00,293.48 1145.50,293.53 1146.00,293.57 1146.50,293.62 1147.00,293.67 1147.50,293.71 1148.00,293.76 1148.50,293.81 1149.00,293.85 1149.50,293.90 1150.00,293.99 1150.50,294.07 1151.00,294.16 1151.50,294.25 1152.00,294.34 1152.50,294.42 1153.00,294.51 1153.50,294.60 1154.00,294.69 1154.50,294.77 1155.00,294.86 1155.50,294.95 1156.00,294.99 1156.50,295.03 1157.00,295.07 1157.50,295.12 1158.00,295.16 1158.50,295.20 1159.00,295.24 1159.50,295.28 1160.00,295.32 1160.50,295.37 1161.00,295.41 1161.50,295.45 1162.00,295.87 1162.50,296.29 1163.00,296.71 1163.50,297.14 1164.00,297.56 1164.50,297.98 1165.00,298.40 1165.50,298.82 1166.00,299.24 1166.50,299.66 1167.00,300.09 1167.50,300.51 1168.00,300.93 1168.50,301.35 1169.00,301.35 1169.50,301.35 1170.00,301.35 1170.50,301.35 1171.00,301.35 1171.50,301.35 1172.00,301.35 1172.50,301.35 1173.00,301.35 1173.50,301.35 1174.00,301.35 1174.50,301.35 1175.00,301.72 1175.50,302.09 1176.00,302.46 1176.50,302.83 1177.00,303.20 1177.50,303.58 1178.00,303.95 1178.50,304.32 1179.00,304.69 1179.50,305.06 1180.00,305.43 1180.50,305.80 1181.00,305.81 1181.50,305.83 1182.00,305.84 1182.50,305.86 1183.00,305.87 1183.50,305.89 1184.00,305.90 1184.50,305.91 1185.00,305.93 1185.50,305.94 1186.00,305.96 1186.50,305.97 1187.00,305.99 1187.50,306.00 1188.00,306.95 1188.50,307.90 1189.00,308.85 1189.50,309.80 1190.00,310.75 1190.50,311.70 1191.00,312.65 1191.50,313.60 1192.00,314.55 1192.50,315.50 1193.00,316.45 1193.50,317.40 1194.00,317.40 1194.50,317.40 1195.00,317.40 1195.50,317.40 1196.00,317.40 1196.50,317.40 1197.00,317.40 1197.50,317.40 1198.00,317.40 1198.50,317.40 1199.00,317.40 1199.50,317.40 1200.00,317.40 1200.50,317.40 1201.00,317.40 1201.50,317.40 1202.00,317.40 1202.50,317.40 1203.00,317.40 1203.50,317.40 1204.00,317.40 1204.50,317.40 1205.00,317.40 1205.50,317.40 1206.00,317.40 1206.50,317.40 1207.00,317.40 1207.50,317.40 1208.00,317.40 1208.50,317.40 1209.00,317.40 1209.50,317.40 1210.00,317.40 1210.50,317.40 1211.00,317.40 1211.50,317.40 1212.00,317.40 1212.50,317.40 1213.00,317.40 1213.50,317.40 1214.00,317.40 1214.50,317.40 1215.00,317.40 1215.50,317.40 1216.00,317.40 1216.50,317.40 1217.00,317.40 1217.50,317.40 1218.00,317.40 1218.50,317.40 1219.00,317.40 1219.50,317.40 1220.00,317.40 1220.50,317.40 1221.00,317.40 1221.50,317.40 1222.00,317.40 1222.50,317.40 1223.00,317.40 1223.50,317.40 1224.00,317.40 1224.50,317.40 1225.00,317.40 1225.50,317.40 1226.00,317.40 1226.50,317.40 1227.00,317.40 1227.50,317.40 1228.00,317.40 1228.50,317.40 1229.00,317.40 1229.50,317.40 1230.00,317.40 1230.50,317.40 1231.00,317.40 1231.50,317.40 1232.00,317.40 1232.50,317.40 1233.00,317.40 1233.50,317.40 1234.00,317.40 1234.50,317.40 1235.00,317.40 1235.50,317.40 1236.00,317.40 1236.50,317.40 1237.00,317.40 1237.50,317.40 1238.00,317.40 1238.50,317.40 1239.00,317.40 1239.50,317.40 1240.00,317.40 1240.50,317.40 1241.00,317.40 1241.50,317.40 1242.00,317.40 1242.50,317.40 1243.00,317.40 1243.50,317.40 1244.00,318.07 1244.50,318.75 1245.00,319.43 1245.50,320.10 1246.00,320.77 1246.50,321.45 1247.00,322.12 1247.50,322.80 1248.00,323.48 1248.50,324.15 1249.00,324.82 1249.50,325.50 1250.00,326.18 1250.50,326.85 1251.00,326.85 1251.50,326.85 1252.00,326.85 1252.50,326.85 1253.00,326.85 1253.50,326.85 1254.00,326.85 1254.50,326.85 1255.00,326.85 1255.50,326.85 1256.00,326.85 1256.50,326.85 1257.00,327.15 1257.50,327.45 1258.00,327.75 1258.50,328.05 1259.00,328.35 1259.50,328.65 1260.00,328.95 1260.50,329.25 1261.00,329.55 1261.50,329.85 1262.00,330.15 1262.50,330.45 1263.00,330.28 1263.00,330.36 1262.50,331.45 1262.00,332.56 1261.50,333.67 1261.00,334.78 1260.50,335.89 1260.00,337.00 1259.50,338.11 1259.00,339.22 1258.50,340.33 1258.00,341.44 1257.50,342.55 1257.00,343.66 1256.50,344.77 1256.00,345.34 1255.50,345.90 1255.00,346.47 1254.50,347.03 1254.00,347.60 1253.50,348.16 1253.00,348.73 1252.50,349.29 1252.00,349.86 1251.50,350.42 1251.00,350.99 1250.50,351.55 1250.00,351.94 1249.50,352.34 1249.00,352.73 1248.50,353.13 1248.00,353.52 1247.50,353.92 1247.00,354.31 1246.50,354.71 1246.00,355.10 1245.50,355.50 1245.00,355.89 1244.50,356.29 1244.00,356.68 1243.50,357.07 1243.00,357.09 1242.50,357.11 1242.00,357.12 1241.50,357.14 1241.00,357.16 1240.50,357.17 1240.00,357.19 1239.50,357.21 1239.00,357.22 1238.50,357.24 1238.00,357.26 1237.50,357.27 1237.00,357.50 1236.50,357.73 1236.00,357.96 1235.50,358.18 1235.00,358.41 1234.50,358.64 1234.00,358.86 1233.50,359.09 1233.00,359.32 1232.50,359.55 1232.00,359.77 1231.50,360.00 1231.00,360.02 1230.50,360.04 1230.00,360.06 1229.50,360.09 1229.00,360.11 1228.50,360.13 1228.00,360.15 1227.50,360.17 1227.00,360.19 1226.50,360.21 1226.00,360.24 1225.50,360.26 1225.00,360.28 1224.50,360.30 1224.00,360.61 1223.50,360.92 1223.00,361.23 1222.50,361.54 1222.00,361.85 1221.50,362.16 1221.00,362.47 1220.50,362.78 1220.00,363.09 1219.50,363.40 1219.00,363.71 1218.50,364.02 1218.00,363.89 1217.50,363.76 1217.00,363.62 1216.50,363.49 1216.00,363.36 1215.50,363.23 1215.00,363.09 1214.50,362.96 1214.00,362.82 1213.50,362.69 1213.00,362.56 1212.50,362.43 1212.00,362.35 1211.50,362.28 1211.00,362.21 1210.50,362.13 1210.00,362.06 1209.50,361.99 1209.00,361.91 1208.50,361.84 1208.00,361.77 1207.50,361.69 1207.00,361.62 1206.50,361.55 1206.00,361.47 1205.50,361.40 1205.00,361.40 1204.50,361.40 1204.00,361.40 1203.50,361.40 1203.00,361.40 1202.50,361.40 1202.00,361.40 1201.50,361.40 1201.00,361.40 1200.50,361.40 1200.00,361.40 1199.50,361.40 1199.00,361.34 1198.50,361.28 1198.00,361.22 1197.50,361.16 1197.00,361.10 1196.50,361.04 1196.00,360.98 1195.50,360.92 1195.00,360.86 1194.50,360.80 1194.00,360.74 1193.50,360.68 1193.00,359.49 1192.50,358.30 1192.00,357.12 1191.50,355.93 1191.00,354.75 1190.50,353.56 1190.00,352.38 1189.50,351.19 1189.00,350.01 1188.50,348.82 1188.00,347.64 1187.50,346.45 1187.00,346.37 1186.50,346.29 1186.00,346.20 1185.50,346.12 1185.00,346.04 1184.50,345.96 1184.00,345.88 1183.50,345.79 1183.00,345.71 1182.50,345.63 1182.00,345.55 1181.50,345.46 1181.00,345.38 1180.50,345.30 1180.00,344.91 1179.50,344.52 1179.00,344.13 1178.50,343.74 1178.00,343.35 1177.50,342.96 1177.00,342.57 1176.50,342.18 1176.00,341.79 1175.50,341.40 1175.00,341.01 1174.50,340.62 1174.00,340.33 1173.50,340.03 1173.00,339.73 1172.50,339.43 1172.00,339.14 1171.50,338.84 1171.00,338.54 1170.50,338.24 1170.00,337.94 1169.50,337.65 1169.00,337.35 1168.50,337.05 1168.00,336.63 1167.50,336.21 1167.00,335.79 1166.50,335.36 1166.00,334.94 1165.50,334.52 1165.00,334.10 1164.50,333.68 1164.00,333.26 1163.50,332.84 1163.00,332.41 1162.50,331.99 1162.00,331.57 1161.50,331.15 1161.00,331.11 1160.50,331.07 1160.00,331.02 1159.50,330.98 1159.00,330.94 1158.50,330.90 1158.00,330.86 1157.50,330.82 1157.00,330.77 1156.50,330.73 1156.00,330.69 1155.50,330.65 1155.00,330.56 1154.50,330.47 1154.00,330.39 1153.50,330.30 1153.00,330.21 1152.50,330.12 1152.00,330.04 1151.50,329.95 1151.00,329.86 1150.50,329.78 1150.00,329.69 1149.50,329.60 1149.00,329.52 1148.50,329.44 1148.00,329.35 1147.50,329.27 1147.00,329.19 1146.50,329.11 1146.00,329.02 1145.50,328.94 1145.00,328.86 1144.50,328.78 1144.00,328.70 1143.50,328.61 1143.00,328.53 1142.50,328.45 1142.00,328.25 1141.50,328.06 1141.00,327.86 1140.50,327.67 1140.00,327.47 1139.50,327.27 1139.00,327.08 1138.50,326.88 1138.00,326.69 1137.50,326.49 1137.00,326.30 1136.50,326.10 1136.00,326.14 1135.50,326.18 1135.00,326.22 1134.50,326.27 1134.00,326.31 1133.50,326.35 1133.00,326.39 1132.50,326.43 1132.00,326.47 1131.50,326.52 1131.00,326.56 1130.50,326.60 1130.00,326.34 1129.50,326.08 1129.00,325.82 1128.50,325.56 1128.00,325.30 1127.50,325.04 1127.00,324.78 1126.50,324.52 1126.00,324.26 1125.50,324.00 1125.00,323.74 1124.50,323.47 1124.00,323.20 1123.50,322.93 1123.00,322.66 1122.50,322.39 1122.00,322.12 1121.50,321.85 1121.00,321.57 1120.50,321.30 1120.00,321.03 1119.50,320.76 1119.00,320.49 1118.50,320.22 1118.00,319.95 1117.50,319.67 1117.00,320.06 1116.50,320.45 1116.00,320.83 1115.50,321.22 1115.00,321.60 1114.50,321.99 1114.00,322.37 1113.50,322.76 1113.00,323.14 1112.50,323.53 1112.00,323.91 1111.50,324.30 1111.00,323.76 1110.50,323.22 1110.00,322.67 1109.50,322.13 1109.00,321.59 1108.50,321.05 1108.00,320.51 1107.50,319.97 1107.00,319.43 1106.50,318.88 1106.00,318.34 1105.50,317.80 1105.00,317.73 1104.50,317.66 1104.00,317.59 1103.50,317.52 1103.00,317.45 1102.50,317.38 1102.00,317.31 1101.50,317.24 1101.00,317.17 1100.50,317.10 1100.00,317.03 1099.50,316.96 1099.00,316.89 1098.50,316.82 1098.00,316.68 1097.50,316.52 1097.00,316.38 1096.50,316.22 1096.00,316.07 1095.50,315.92 1095.00,315.77 1094.50,315.62 1094.00,315.47 1093.50,315.32 1093.00,315.17 1092.50,315.02 1092.00,315.02 1091.50,315.02 1091.00,315.02 1090.50,315.02 1090.00,315.02 1089.50,315.02 1089.00,315.02 1088.50,315.02 1088.00,315.02 1087.50,315.02 1087.00,315.02 1086.50,315.02 1086.00,314.63 1085.50,314.24 1085.00,313.84 1084.50,313.45 1084.00,313.06 1083.50,312.66 1083.00,312.27 1082.50,311.88 1082.00,311.48 1081.50,311.09 1081.00,310.69 1080.50,310.30 1080.00,310.30 1079.50,310.30 1079.00,310.30 1078.50,310.30 1078.00,310.30 1077.50,310.30 1077.00,310.30 1076.50,310.30 1076.00,310.30 1075.50,310.30 1075.00,310.30 1074.50,310.30 1074.00,310.30 1073.50,310.30 1073.00,310.21 1072.50,310.12 1072.00,310.02 1071.50,309.93 1071.00,309.84 1070.50,309.75 1070.00,309.66 1069.50,309.57 1069.00,309.48 1068.50,309.38 1068.00,309.29 1067.50,309.20 1067.00,308.83 1066.50,308.47 1066.00,308.10 1065.50,307.73" fill="rgba(244,67,54,0.1)"/><polygon points="1331.50,328.40 1332.00,328.40 1332.50,328.40 1333.00,328.40 1333.50,328.40 1334.00,328.40 1334.50,328.40 1335.00,328.40 1335.50,328.40 1336.00,328.40 1336.50,328.40 1337.00,328.40 1337.50,328.40 1338.00,328.40 1338.50,328.40 1339.00,328.40 1339.50,328.40 1340.00,328.40 1340.50,328.40 1341.00,328.40 1341.50,328.40 1342.00,328.40 1342.50,328.40 1343.00,328.40 1343.50,328.40 1344.00,328.40 1344.50,328.40 1345.00,328.40 1345.50,328.40 1346.00,328.40 1346.50,328.40 1347.00,328.40 1347.50,328.40 1348.00,328.40 1348.50,328.40 1349.00,328.40 1349.50,328.40 1350.00,328.40 1350.50,328.40 1351.00,328.40 1351.50,328.40 1352.00,328.40 1352.50,328.40 1353.00,328.40 1353.50,328.40 1354.00,328.40 1354.50,328.40 1355.00,328.40 1355.50,328.40 1356.00,328.40 1356.50,328.40 1357.00,328.40 1357.50,328.40 1357.50,336.20 1357.00,336.24 1356.50,336.29 1356.00,336.33 1355.50,336.37 1355.00,336.41 1354.50,336.46 1354.00,336.50 1353.50,336.54 1353.00,336.59 1352.50,336.63 1352.00,336.67 1351.50,336.71 1351.00,336.76 1350.50,336.80 1350.00,336.80 1349.50,336.80 1349.00,336.80 1348.50,336.80 1348.00,336.80 1347.50,336.80 1347.00,336.80 1346.50,336.80 1346.00,336.80 1345.50,336.80 1345.00,336.80 1344.50,336.80 1344.00,336.74 1343.50,336.68 1343.00,336.62 1342.50,336.57 1342.00,336.51 1341.50,336.45 1341.00,336.39 1340.50,336.33 1340.00,336.27 1339.50,336.22 1339.00,336.16 1338.50,336.10 1338.00,335.59 1337.50,335.07 1337.00,334.56 1336.50,334.05 1336.00,333.54 1335.50,333.02 1335.00,332.51 1334.50,332.00 1334.00,331.49 1333.50,330.97 1333.00,330.46 1332.50,329.95 1332.00,329.44 1331.50,328.92" fill="rgba(244,67,54,0.1)"/><g fill="#ffffff" fill-opacity="0.8"><rect x="14.0" y="171" width="3" height="13" fill-opacity="0.5"/><rect x="12.0" y="175" width="7" height="7"/><rect x="20.0" y="170" width="3" height="31" fill-opacity="0.5"/><rect x="18.0" y="176" width="7" height="21"/><rect x="27.0" y="193" width="3" height="19" fill-opacity="0.5"/><rect x="25.0" y="195" width="7" height="8"/><rect x="33.0" y="193" width="3" height="43" fill-opacity="0.5"/><rect x="31.0" y="201" width="7" height="28"/><rect x="39.0" y="193" width="3" height="37" fill-opacity="0.5"/><rect x="37.0" y="222" width="7" height="7"/><rect x="46.0" y="220" width="3" height="31" fill-opacity="0.5"/><rect x="44.0" y="222" width="7" height="23"/><rect x="52.0" y="234" width="3" height="26" fill-opacity="0.5"/><rect x="50.0" y="242" width="7" height="9"/><rect x="58.0" y="233" width="3" height="40" fill-opacity="0.5"/><rect x="56.0" y="248" width="7" height="19"/><rect x="64.0" y="248" width="3" height="19" fill-opacity="0.5"/><rect x="62.0" y="258" width="7" height="9"/><rect x="71.0" y="240" width="3" height="21" fill-opacity="0.5"/><rect x="69.0" y="243" width="7" height="18"/><rect x="77.0" y="243" width="3" height="29" fill-opacity="0.5"/><rect x="75.0" y="243" width="7" height="29"/><rect x="83.0" y="256" width="3" height="33" fill-opacity="0.5"/><rect x="81.0" y="270" width="7" height="19"/><rect x="90.0" y="283" width="3" height="29" fill-opacity="0.5"/><rect x="88.0" y="286" width="7" height="25"/><rect x="96.0" y="286" width="3" height="25" fill-opacity="0.5"/><rect x="94.0" y="304" width="7" height="7"/><rect x="102.0" y="287" width="3" height="24" fill-opacity="0.5"/><rect x="100.0" y="287" width="7" height="19"/><rect x="109.0" y="249" width="3" height="43" fill-opacity="0.5"/><rect x="107.0" y="251" width="7" height="39"/><rect x="115.0" y="239" width="3" height="24" fill-opacity="0.5"/><rect x="113.0" y="242" width="7" height="12"/><rect x="121.0" y="242" width="3" height="23" fill-opacity="0.5"/><rect x="119.0" y="242" width="7" height="12"/><rect x="127.0" y="245" width="3" height="18" fill-opacity="0.5"/><rect x="125.0" y="251" width="7" height="8"/><rect x="134.0" y="255" width="3" height="13" fill-opacity="0.5"/><rect x="132.0" y="257" width="7" height="11"/><rect x="140.0" y="254" width="3" height="18" fill-opacity="0.5"/><rect x="138.0" y="265" width="7" height="7"/><rect x="146.0" y="262" width="3" height="12" fill-opacity="0.5"/><rect x="144.0" y="269" width="7" height="4"/><rect x="153.0" y="266" width="3" height="19" fill-opacity="0.5"/><rect x="151.0" y="270" width="7" height="12"/><rect x="159.0" y="276" width="3" height="34" fill-opacity="0.5"/><rect x="157.0" y="279" width="7" height="31"/><rect x="165.0" y="303" width="3" height="48" fill-opacity="0.5"/><rect x="163.0" y="307" width="7" height="44"/><rect x="172.0" y="327" width="3" height="31" fill-opacity="0.5"/><rect x="170.0" y="342" width="7" height="9"/><rect x="178.0" y="334" width="3" height="24" fill-opacity="0.5"/><rect x="176.0" y="342" width="7" height="16"/><rect x="184.0" y="350" width="3" height="57" fill-opacity="0.5"/><rect x="182.0" y="355" width="7" height="50"/><rect x="190.0" y="355" width="3" height="50" fill-opacity="0.5"/><rect x="188.0" y="395" width="7" height="10"/><rect x="197.0" y="381" width="3" height="39" fill-opacity="0.5"/><rect x="195.0" y="395" width="7" height="20"/><rect x="203.0" y="404" width="3" height="31" fill-opacity="0.5"/><rect x="201.0" y="412" width="7" height="19"/><rect x="209.0" y="404" width="3" height="33" fill-opacity="0.5"/><rect x="207.0" y="422" width="7" height="9"/><rect x="216.0" y="420" width="3" height="21" fill-opacity="0.5"/><rect x="214.0" y="422" width="7" height="18"/><rect x="222.0" y="412" width="3" height="36" fill-opacity="0.5"/><rect x="220.0" y="412" width="7" height="28"/><rect x="228.0" y="397" width="3" height="24" fill-opacity="0.5"/><rect x="226.0" y="412" width="7" height="5"/><rect x="235.0" y="392" width="3" height="32" fill-opacity="0.5"/><rect x="233.0" y="398" width="7" height="19"/><rect x="241.0" y="345" width="3" height="55" fill-opacity="0.5"/><rect x="239.0" y="350" width="7" height="50"/><rect x="247.0" y="325" width="3" height="34" fill-opacity="0.5"/><rect x="245.0" y="340" width="7" height="13"/><rect x="253.0" y="310" width="3" height="39" fill-opacity="0.5"/><rect x="251.0" y="340" width="7" height="4"/><rect x="260.0" y="325" width="3" height="24" fill-opacity="0.5"/><rect x="258.0" y="325" width="7" height="20"/><rect x="266.0" y="321" width="3" height="25" fill-opacity="0.5"/><rect x="264.0" y="325" width="7" height="15"/><rect x="272.0" y="289" width="3" height="54" fill-opacity="0.5"/><rect x="270.0" y="289" width="7" height="51"/><rect x="279.0" y="272" width="3" height="35" fill-opacity="0.5"/><rect x="277.0" y="289" width="7" height="17"/><rect x="285.0" y="290" width="3" height="45" fill-opacity="0.5"/><rect x="283.0" y="303" width="7" height="16"/><rect x="291.0" y="304" width="3" height="25" fill-opacity="0.5"/><rect x="289.0" y="311" width="7" height="8"/><rect x="297.0" y="293" width="3" height="49" fill-opacity="0.5"/><rect x="295.0" y="311" width="7" height="24"/><rect x="304.0" y="319" width="3" height="20" fill-opacity="0.5"/><rect x="302.0" y="325" width="7" height="10"/><rect x="310.0" y="304" width="3" height="29" fill-opacity="0.5"/><rect x="308.0" y="325" width="7" height="8"/><rect x="316.0" y="317" width="3" height="34" fill-opacity="0.5"/><rect x="314.0" y="319" width="7" height="14"/><rect x="323.0" y="315" width="3" height="31" fill-opacity="0.5"/><rect x="321.0" y="319" width="7" height="25"/><rect x="329.0" y="327" width="3" height="22" fill-opacity="0.5"/><rect x="327.0" y="336" width="7" height="8"/><rect x="335.0" y="293" width="3" height="48" fill-opacity="0.5"/><rect x="333.0" y="317" width="7" height="22"/><rect x="342.0" y="260" width="3" height="59" fill-opacity="0.5"/><rect x="340.0" y="261" width="7" height="58"/><rect x="348.0" y="237" width="3" height="35" fill-opacity="0.5"/><rect x="346.0" y="261" width="7" height="3"/><rect x="354.0" y="251" width="3" height="34" fill-opacity="0.5"/><rect x="352.0" y="261" width="7" height="17"/><rect x="360.0" y="241" width="3" height="39" fill-opacity="0.5"/><rect x="358.0" y="252" width="7" height="26"/><rect x="367.0" y="244" width="3" height="31" fill-opacity="0.5"/><rect x="365.0" y="252" width="7" height="13"/><rect x="373.0" y="244" width="3" height="25" fill-opacity="0.5"/><rect x="371.0" y="247" width="7" height="18"/><rect x="379.0" y="239" width="3" height="44" fill-opacity="0.5"/><rect x="377.0" y="247" width="7" height="28"/><rect x="386.0" y="227" width="3" height="55" fill-opacity="0.5"/><rect x="384.0" y="227" width="7" height="48"/><rect x="392.0" y="208" width="3" height="34" fill-opacity="0.5"/><rect x="390.0" y="223" width="7" height="7"/><rect x="398.0" y="218" width="3" height="36" fill-opacity="0.5"/><rect x="396.0" y="223" width="7" height="31"/><rect x="405.0" y="237" width="3" height="26" fill-opacity="0.5"/><rect x="403.0" y="252" width="7" height="6"/><rect x="411.0" y="233" width="3" height="25" fill-opacity="0.5"/><rect x="409.0" y="251" width="7" height="7"/><rect x="417.0" y="241" width="3" height="15" fill-opacity="0.5"/><rect x="415.0" y="246" width="7" height="7"/><rect x="423.0" y="238" width="3" height="20" fill-opacity="0.5"/><rect x="421.0" y="246" width="7" height="5"/><rect x="430.0" y="243" width="3" height="13" fill-opacity="0.5"/><rect x="428.0" y="248" width="7" height="5"/><rect x="436.0" y="250" width="3" height="15" fill-opacity="0.5"/><rect x="434.0" y="250" width="7" height="8"/><rect x="442.0" y="255" width="3" height="16" fill-opacity="0.5"/><rect x="440.0" y="255" width="7" height="7"/><rect x="449.0" y="250" width="3" height="23" fill-opacity="0.5"/><rect x="447.0" y="259" width="7" height="10"/><rect x="455.0" y="257" width="3" height="13" fill-opacity="0.5"/><rect x="453.0" y="267" width="7" height="3"/><rect x="461.0" y="266" width="3" height="19" fill-opacity="0.5"/><rect x="459.0" y="268" width="7" height="16"/><rect x="468.0" y="277" width="3" height="14" fill-opacity="0.5"/><rect x="466.0" y="281" width="7" height="10"/><rect x="474.0" y="275" width="3" height="25" fill-opacity="0.5"/><rect x="472.0" y="289" width="7" height="9"/><rect x="480.0" y="293" width="3" height="10" fill-opacity="0.5"/><rect x="478.0" y="295" width="7" height="5"/><rect x="486.0" y="297" width="3" height="32" fill-opacity="0.5"/><rect x="484.0" y="297" width="7" height="30"/><rect x="493.0" y="308" width="3" height="19" fill-opacity="0.5"/><rect x="491.0" y="308" width="7" height="19"/><rect x="499.0" y="298" width="3" height="18" fill-opacity="0.5"/><rect x="497.0" y="308" width="7" height="3"/><rect x="505.0" y="308" width="3" height="23" fill-opacity="0.5"/><rect x="503.0" y="308" width="7" height="14"/><rect x="512.0" y="320" width="3" height="25" fill-opacity="0.5"/><rect x="510.0" y="320" width="7" height="5"/><rect x="518.0" y="308" width="3" height="18" fill-opacity="0.5"/><rect x="516.0" y="317" width="7" height="9"/><rect x="524.0" y="317" width="3" height="20" fill-opacity="0.5"/><rect x="522.0" y="317" width="7" height="13"/><rect x="531.0" y="312" width="3" height="17" fill-opacity="0.5"/><rect x="529.0" y="325" width="7" height="4"/><rect x="537.0" y="318" width="3" height="14" fill-opacity="0.5"/><rect x="535.0" y="323" width="7" height="3"/><rect x="543.0" y="302" width="3" height="23" fill-opacity="0.5"/><rect x="541.0" y="316" width="7" height="9"/><rect x="549.0" y="308" width="3" height="13" fill-opacity="0.5"/><rect x="547.0" y="316" width="7" height="3"/><rect x="556.0" y="304" width="3" height="23" fill-opacity="0.5"/><rect x="554.0" y="316" width="7" height="6"/><rect x="562.0" y="319" width="3" height="14" fill-opacity="0.5"/><rect x="560.0" y="319" width="7" height="9"/><rect x="568.0" y="313" width="3" height="20" fill-opacity="0.5"/><rect x="566.0" y="326" width="7" height="6"/><rect x="575.0" y="327" width="3" height="16" fill-opacity="0.5"/><rect x="573.0" y="329" width="7" height="4"/><rect x="581.0" y="322" width="3" height="17" fill-opacity="0.5"/><rect x="579.0" y="325" width="7" height="9"/><rect x="587.0" y="320" width="3" height="28" fill-opacity="0.5"/><rect x="585.0" y="325" width="7" height="19"/><rect x="594.0" y="337" width="3" height="14" fill-opacity="0.5"/><rect x="592.0" y="342" width="7" height="7"/><rect x="600.0" y="337" width="3" height="27" fill-opacity="0.5"/><rect x="598.0" y="346" width="7" height="17"/><rect x="606.0" y="361" width="3" height="25" fill-opacity="0.5"/><rect x="604.0" y="361" width="7" height="9"/><rect x="612.0" y="355" width="3" height="16" fill-opacity="0.5"/><rect x="610.0" y="364" width="7" height="6"/><rect x="619.0" y="364" width="3" height="12" fill-opacity="0.5"/><rect x="617.0" y="364" width="7" height="10"/><rect x="625.0" y="355" width="3" height="24" fill-opacity="0.5"/><rect x="623.0" y="357" width="7" height="17"/><rect x="631.0" y="333" width="3" height="30" fill-opacity="0.5"/><rect x="629.0" y="345" width="7" height="14"/><rect x="638.0" y="334" width="3" height="19" fill-opacity="0.5"/><rect x="636.0" y="345" width="7" height="6"/><rect x="644.0" y="346" width="3" height="15" fill-opacity="0.5"/><rect x="642.0" y="348" width="7" height="11"/><rect x="650.0" y="331" width="3" height="28" fill-opacity="0.5"/><rect x="648.0" y="349" width="7" height="10"/><rect x="657.0" y="328" width="3" height="25" fill-opacity="0.5"/><rect x="655.0" y="336" width="7" height="16"/><rect x="663.0" y="277" width="3" height="61" fill-opacity="0.5"/><rect x="661.0" y="279" width="7" height="59"/><rect x="669.0" y="259" width="3" height="32" fill-opacity="0.5"/><rect x="667.0" y="279" width="7" height="11"/><rect x="675.0" y="264" width="3" height="27" fill-opacity="0.5"/><rect x="673.0" y="264" width="7" height="26"/><rect x="682.0" y="260" width="3" height="20" fill-opacity="0.5"/><rect x="680.0" y="264" width="7" height="7"/><rect x="688.0" y="247" width="3" height="33" fill-opacity="0.5"/><rect x="686.0" y="269" width="7" height="8"/><rect x="694.0" y="262" width="3" height="19" fill-opacity="0.5"/><rect x="692.0" y="273" width="7" height="3"/><rect x="701.0" y="265" width="3" height="16" fill-opacity="0.5"/><rect x="699.0" y="265" width="7" height="11"/><rect x="707.0" y="250" width="3" height="20" fill-opacity="0.5"/><rect x="705.0" y="254" width="7" height="14"/><rect x="713.0" y="254" width="3" height="35" fill-opacity="0.5"/><rect x="711.0" y="254" width="7" height="35"/><rect x="719.0" y="281" width="3" height="30" fill-opacity="0.5"/><rect x="717.0" y="286" width="7" height="9"/><rect x="726.0" y="280" width="3" height="16" fill-opacity="0.5"/><rect x="724.0" y="280" width="7" height="15"/><rect x="732.0" y="262" width="3" height="23" fill-opacity="0.5"/><rect x="730.0" y="263" width="7" height="21"/><rect x="738.0" y="263" width="3" height="20" fill-opacity="0.5"/><rect x="736.0" y="263" width="7" height="6"/><rect x="745.0" y="253" width="3" height="19" fill-opacity="0.5"/><rect x="743.0" y="267" width="7" height="3"/><rect x="751.0" y="254" width="3" height="16" fill-opacity="0.5"/><rect x="749.0" y="267" width="7" height="3"/><rect x="757.0" y="248" width="3" height="22" fill-opacity="0.5"/><rect x="755.0" y="250" width="7" height="20"/><rect x="764.0" y="229" width="3" height="26" fill-opacity="0.5"/><rect x="762.0" y="250" width="7" height="5"/><rect x="770.0" y="249" width="3" height="22" fill-opacity="0.5"/><rect x="768.0" y="252" width="7" height="13"/><rect x="776.0" y="248" width="3" height="19" fill-opacity="0.5"/><rect x="774.0" y="262" width="7" height="5"/><rect x="782.0" y="255" width="3" height="14" fill-opacity="0.5"/><rect x="780.0" y="263" width="7" height="4"/><rect x="789.0" y="259" width="3" height="24" fill-opacity="0.5"/><rect x="787.0" y="263" width="7" height="20"/><rect x="795.0" y="274" width="3" height="11" fill-opacity="0.5"/><rect x="793.0" y="280" width="7" height="3"/><rect x="801.0" y="260" width="3" height="23" fill-opacity="0.5"/><rect x="799.0" y="277" width="7" height="6"/><rect x="808.0" y="275" width="3" height="19" fill-opacity="0.5"/><rect x="806.0" y="277" width="7" height="17"/><rect x="814.0" y="291" width="3" height="12" fill-opacity="0.5"/><rect x="812.0" y="291" width="7" height="4"/><rect x="820.0" y="288" width="3" height="19" fill-opacity="0.5"/><rect x="818.0" y="293" width="7" height="12"/><rect x="827.0" y="302" width="3" height="17" fill-opacity="0.5"/><rect x="825.0" y="302" width="7" height="10"/><rect x="833.0" y="299" width="3" height="15" fill-opacity="0.5"/><rect x="831.0" y="307" width="7" height="5"/><rect x="839.0" y="307" width="3" height="12" fill-opacity="0.5"/><rect x="837.0" y="307" width="7" height="6"/><rect x="845.0" y="309" width="3" height="23" fill-opacity="0.5"/><rect x="843.0" y="309" width="7" height="21"/><rect x="852.0" y="317" width="3" height="13" fill-opacity="0.5"/><rect x="850.0" y="324" width="7" height="6"/><rect x="858.0" y="324" width="3" height="13" fill-opacity="0.5"/><rect x="856.0" y="324" width="7" height="6"/><rect x="864.0" y="317" width="3" height="20" fill-opacity="0.5"/><rect x="862.0" y="317" width="7" height="13"/><rect x="871.0" y="299" width="3" height="26" fill-opacity="0.5"/><rect x="869.0" y="317" width="7" height="8"/><rect x="877.0" y="300" width="3" height="25" fill-opacity="0.5"/><rect x="875.0" y="315" width="7" height="10"/><rect x="883.0" y="309" width="3" height="12" fill-opacity="0.5"/><rect x="881.0" y="309" width="7" height="9"/><rect x="890.0" y="299" width="3" height="20" fill-opacity="0.5"/><rect x="888.0" y="304" width="7" height="7"/><rect x="896.0" y="297" width="3" height="36" fill-opacity="0.5"/><rect x="894.0" y="304" width="7" height="26"/><rect x="902.0" y="327" width="3" height="19" fill-opacity="0.5"/><rect x="900.0" y="327" width="7" height="18"/><rect x="908.0" y="335" width="3" height="20" fill-opacity="0.5"/><rect x="906.0" y="342" width="7" height="8"/><rect x="915.0" y="345" width="3" height="12" fill-opacity="0.5"/><rect x="913.0" y="347" width="7" height="10"/><rect x="921.0" y="342" width="3" height="15" fill-opacity="0.5"/><rect x="919.0" y="345" width="7" height="11"/><rect x="927.0" y="335" width="3" height="12" fill-opacity="0.5"/><rect x="925.0" y="344" width="7" height="3"/><rect x="934.0" y="340" width="3" height="13" fill-opacity="0.5"/><rect x="932.0" y="344" width="7" height="3"/><rect x="940.0" y="341" width="3" height="14" fill-opacity="0.5"/><rect x="938.0" y="342" width="7" height="5"/><rect x="946.0" y="327" width="3" height="18" fill-opacity="0.5"/><rect x="944.0" y="329" width="7" height="16"/><rect x="953.0" y="322" width="3" height="11" fill-opacity="0.5"/><rect x="951.0" y="323" width="7" height="8"/><rect x="959.0" y="304" width="3" height="39" fill-opacity="0.5"/><rect x="957.0" y="323" width="7" height="20"/><rect x="965.0" y="318" width="3" height="30" fill-opacity="0.5"/><rect x="963.0" y="324" width="7" height="19"/><rect x="971.0" y="319" width="3" height="32" fill-opacity="0.5"/><rect x="969.0" y="324" width="7" height="15"/><rect x="978.0" y="323" width="3" height="30" fill-opacity="0.5"/><rect x="976.0" y="337" width="7" height="3"/><rect x="984.0" y="334" width="3" height="13" fill-opacity="0.5"/><rect x="982.0" y="337" width="7" height="9"/><rect x="990.0" y="343" width="3" height="16" fill-opacity="0.5"/><rect x="988.0" y="343" width="7" height="12"/><rect x="997.0" y="337" width="3" height="24" fill-opacity="0.5"/><rect x="995.0" y="341" width="7" height="15"/><rect x="1003.0" y="341" width="3" height="21" fill-opacity="0.5"/><rect x="1001.0" y="341" width="7" height="18"/><rect x="1009.0" y="354" width="3" height="20" fill-opacity="0.5"/><rect x="1007.0" y="356" width="7" height="9"/><rect x="1016.0" y="346" width="3" height="23" fill-opacity="0.5"/><rect x="1014.0" y="355" width="7" height="10"/><rect x="1022.0" y="355" width="3" height="28" fill-opacity="0.5"/><rect x="1020.0" y="355" width="7" height="25"/><rect x="1028.0" y="366" width="3" height="17" fill-opacity="0.5"/><rect x="1026.0" y="377" width="7" height="3"/><rect x="1034.0" y="376" width="3" height="30" fill-opacity="0.5"/><rect x="1032.0" y="377" width="7" height="25"/><rect x="1041.0" y="362" width="3" height="41" fill-opacity="0.5"/><rect x="1039.0" y="371" width="7" height="32"/><rect x="1047.0" y="366" width="3" height="10" fill-opacity="0.5"/><rect x="1045.0" y="367" width="7" height="7"/><rect x="1053.0" y="341" width="3" height="29" fill-opacity="0.5"/><rect x="1051.0" y="354" width="7" height="16"/><rect x="1060.0" y="349" width="3" height="17" fill-opacity="0.5"/><rect x="1058.0" y="349" width="7" height="8"/><rect x="1066.0" y="326" width="3" height="26" fill-opacity="0.5"/><rect x="1064.0" y="327" width="7" height="25"/><rect x="1072.0" y="325" width="3" height="19" fill-opacity="0.5"/><rect x="1070.0" y="327" width="7" height="11"/><rect x="1079.0" y="314" width="3" height="26" fill-opacity="0.5"/><rect x="1077.0" y="324" width="7" height="14"/><rect x="1085.0" y="313" width="3" height="24" fill-opacity="0.5"/><rect x="1083.0" y="324" width="7" height="5"/><rect x="1091.0" y="299" width="3" height="50" fill-opacity="0.5"/><rect x="1089.0" y="317" width="7" height="12"/><rect x="1097.0" y="303" width="3" height="23" fill-opacity="0.5"/><rect x="1095.0" y="309" width="7" height="10"/><rect x="1104.0" y="275" width="3" height="37" fill-opacity="0.5"/><rect x="1102.0" y="284" width="7" height="28"/><rect x="1110.0" y="251" width="3" height="40" fill-opacity="0.5"/><rect x="1108.0" y="258" width="7" height="28"/><rect x="1116.0" y="252" width="3" height="44" fill-opacity="0.5"/><rect x="1114.0" y="258" width="7" height="38"/><rect x="1123.0" y="293" width="3" height="38" fill-opacity="0.5"/><rect x="1121.0" y="294" width="7" height="34"/><rect x="1129.0" y="321" width="3" height="23" fill-opacity="0.5"/><rect x="1127.0" y="326" width="7" height="11"/><rect x="1135.0" y="325" width="3" height="17" fill-opacity="0.5"/><rect x="1133.0" y="331" width="7" height="6"/><rect x="1141.0" y="329" width="3" height="21" fill-opacity="0.5"/><rect x="1139.0" y="331" width="7" height="16"/><rect x="1148.0" y="342" width="3" height="24" fill-opacity="0.5"/><rect x="1146.0" y="345" width="7" height="16"/><rect x="1154.0" y="348" width="3" height="18" fill-opacity="0.5"/><rect x="1152.0" y="353" width="7" height="8"/><rect x="1160.0" y="336" width="3" height="23" fill-opacity="0.5"/><rect x="1158.0" y="341" width="7" height="15"/><rect x="1167.0" y="339" width="3" height="13" fill-opacity="0.5"/><rect x="1165.0" y="341" width="7" height="9"/><rect x="1173.0" y="325" width="3" height="25" fill-opacity="0.5"/><rect x="1171.0" y="325" width="7" height="25"/><rect x="1179.0" y="324" width="3" height="21" fill-opacity="0.5"/><rect x="1177.0" y="325" width="7" height="20"/><rect x="1186.0" y="338" width="3" height="12" fill-opacity="0.5"/><rect x="1184.0" y="343" width="7" height="3"/><rect x="1192.0" y="336" width="3" height="25" fill-opacity="0.5"/><rect x="1190.0" y="343" width="7" height="17"/><rect x="1198.0" y="347" width="3" height="20" fill-opacity="0.5"/><rect x="1196.0" y="349" width="7" height="11"/></g><polyline points="12.0,78.7 40.5,78.7 46.8,118.3 71.6,118.3 78.8,121.7 89.7,121.7 97.5,126.8 102.9,137.7 131.2,138.2 138.9,139.8 146.7,142.9 171.3,144.2 177.8,146.8 190.8,153.8 197.2,154.6 203.5,160.0 216.8,176.3 228.5,178.9 235.0,179.4 241.5,187.9 247.9,199.1 316.6,199.1 324.4,217.7 330.8,221.6 336.8,221.6 343.0,245.7 349.5,245.8 358.0,256.6 366.0,262.5 371.0,266.4 430.2,266.8 436.6,277.7 443.1,294.6 448.7,295.0 456.1,303.1 466.4,306.7 480.0,307.5 494.5,308.9 500.5,308.9 506.5,320.4 513.5,320.4 519.5,320.4 525.5,333.8 532.5,340.2 538.5,340.2 544.5,337.4 550.5,327.6 557.5,327.6 563.5,327.6 569.5,327.6 576.5,327.6 582.5,327.6 588.5,327.6 595.5,327.6 601.5,327.6 607.5,327.6 613.5,327.6 620.5,327.6 626.5,327.6 632.5,327.6 639.5,327.6 645.5,327.6 651.5,327.6 658.5,327.6 664.5,327.6 670.5,327.6 676.5,327.6 683.5,327.6 689.5,327.6 695.5,327.6 702.5,327.6 708.5,315.7 714.5,315.7 720.5,304.0 727.5,283.2 733.5,279.6 739.5,279.6 746.5,279.6 752.5,279.6 758.5,285.6 765.5,296.7 771.5,296.7 777.5,296.7 783.5,296.7 790.5,296.7 796.5,296.7 802.5,296.7 809.5,296.7 815.5,296.7 821.5,296.7 828.5,296.7 834.5,296.7 840.5,296.7 846.5,296.7 853.5,296.7 859.5,296.7 865.5,296.7 872.5,296.7 878.5,301.9 884.5,309.4 891.5,309.4 897.5,311.8 903.5,311.8 909.5,314.5 916.5,316.2 922.5,307.4 928.5,307.4 935.5,307.4 941.5,307.4 947.5,307.4 954.5,307.4 960.5,307.4 966.5,307.4 972.5,307.4 979.5,307.4 985.5,307.4 991.5,307.4 998.5,307.4 1004.5,307.4 1010.5,307.4 1017.5,307.4 1023.5,307.4 1029.5,307.4 1035.5,307.4 1042.5,307.4 1048.5,307.4 1054.5,307.4 1061.5,307.4 1067.5,307.4 1073.5,307.4 1080.5,307.4 1086.5,307.4 1092.5,304.2 1098.5,304.2 1105.5,304.2 1111.5,296.2 1117.5,294.9 1124.5,294.9 1130.5,294.0 1136.5,293.2 1142.5,293.2 1149.5,293.9 1155.5,294.9 1161.5,295.4 1168.5,301.4 1174.5,301.4 1180.5,305.8 1187.5,306.0 1193.5,317.4 1199.5,317.4 1205.5,317.4 1212.5,317.4 1218.5,317.4 1224.5,317.4 1231.5,317.4 1237.5,317.4 1243.5,317.4 1250.5,326.9 1256.5,326.9 1262.5,330.4 1268.5,328.4 1275.5,328.4 1281.5,328.4 1287.5,328.4 1294.5,328.4 1300.5,328.4 1306.5,328.4 1313.5,328.4 1319.5,328.4 1325.5,328.4 1331.5,328.4 1338.5,328.4 1344.5,328.4 1350.5,328.4 1357.5,328.4" fill="none" stroke="#EF9A9A" stroke-width="1.4" stroke-linejoin="round"/><polyline points="12.0,121.4 28.8,126.1 40.5,127.4 46.8,168.8 63.8,171.4 71.6,174.0 84.5,175.3 90.7,176.4 96.4,176.8 100.6,168.5 109.1,157.2 115.6,155.3 122.1,149.4 133.8,149.4 141.5,155.3 151.9,158.4 157.0,160.0 164.0,165.4 172.6,175.0 183.0,176.6 193.3,181.8 198.5,183.1 204.5,188.0 210.4,193.1 216.8,200.1 228.5,200.9 236.3,208.7 247.9,226.8 254.4,233.3 260.9,235.3 267.4,236.4 279.0,250.9 285.5,251.4 294.6,255.3 306.2,257.1 316.6,257.1 324.4,276.0 330.5,281.9 336.5,282.7 343.5,315.1 349.5,315.1 355.5,324.0 361.5,338.8 368.5,345.5 374.5,354.5 380.5,365.4 387.5,367.1 393.5,371.1 399.5,369.9 406.5,364.9 412.5,361.2 418.5,361.2 424.5,361.2 431.5,355.9 437.5,346.3 443.5,347.1 450.5,343.4 456.5,333.0 462.5,332.7 469.5,333.8 475.5,335.7 481.5,335.7 487.5,335.7 494.5,340.2 500.5,329.9 506.5,318.2 513.5,318.2 519.5,318.2 525.5,318.2 532.5,317.5 538.5,317.5 544.5,304.8 550.5,289.6 557.5,275.1 563.5,264.6 569.5,262.4 576.5,262.4 582.5,262.4 588.5,262.4 595.5,262.1 601.5,259.6 607.5,262.4 613.5,266.2 620.5,269.2 626.5,272.1 632.5,274.2 639.5,275.6 645.5,283.8 651.5,281.9 658.5,278.9 664.5,281.5 670.5,291.1 676.5,293.4 683.5,293.4 689.5,297.9 695.5,298.9 702.5,299.1 708.5,299.1 714.5,302.7 720.5,306.4 727.5,304.5 733.5,306.9 739.5,306.9 746.5,310.4 752.5,313.4 758.5,320.4 765.5,331.5 771.5,335.4 777.5,337.6 783.5,341.8 790.5,341.8 796.5,346.2 802.5,350.4 809.5,350.1 815.5,349.5 821.5,329.5 828.5,320.8 834.5,320.8 840.5,316.8 846.5,309.9 853.5,309.9 859.5,309.5 865.5,308.0 872.5,304.4 878.5,297.4 884.5,297.4 891.5,297.4 897.5,297.4 903.5,298.2 909.5,298.2 916.5,297.7 922.5,288.6 928.5,287.0 935.5,283.3 941.5,280.5 947.5,276.1 954.5,275.9 960.5,275.9 966.5,277.7 972.5,278.7 979.5,280.6 985.5,278.5 991.5,280.3 998.5,281.3 1004.5,288.1 1010.5,288.1 1017.5,294.5 1023.5,298.0 1029.5,298.0 1035.5,300.6 1042.5,300.6 1048.5,300.6 1054.5,300.4 1061.5,304.8 1067.5,309.2 1073.5,310.3 1080.5,310.3 1086.5,315.0 1092.5,315.0 1098.5,316.8 1105.5,317.8 1111.5,324.3 1117.5,319.7 1124.5,323.5 1130.5,326.6 1136.5,326.1 1142.5,328.4 1149.5,329.6 1155.5,330.6 1161.5,331.1 1168.5,337.1 1174.5,340.6 1180.5,345.3 1187.5,346.4 1193.5,360.7 1199.5,361.4 1205.5,361.4 1212.5,362.4 1218.5,364.0 1224.5,360.3 1231.5,360.0 1237.5,357.3 1243.5,357.1 1250.5,351.6 1256.5,344.8 1262.5,331.4 1268.5,318.4 1275.5,314.9 1281.5,314.2 1287.5,314.2 1294.5,314.2 1300.5,314.5 1306.5,318.6 1313.5,318.6 1319.5,318.6 1325.5,318.8 1331.5,328.9 1338.5,336.1 1344.5,336.8 1350.5,336.8 1357.5,336.2" fill="none" stroke="#A5D6A7" stroke-width="1.4" stroke-linejoin="round"/><polyline points="9.5,350.5 15.5,343.1 21.5,356.7 28.5,403.9 34.5,396.1 40.5,413.6 47.5,430.5 53.5,422.7 59.5,438.8 65.5,413.0 72.5,416.5 78.5,399.0 84.5,350.9 91.5,341.2 97.5,343.1 103.5,326.2 110.5,339.4 116.5,290.3 122.5,304.9 128.5,318.4 135.5,312.0 141.5,333.6 147.5,326.2 154.5,331.7 160.5,320.0 166.5,342.7 173.5,336.9 179.5,318.4 185.5,262.1 191.5,263.0 198.5,276.7 204.5,252.8 210.5,264.5 217.5,248.2 223.5,273.8 229.5,228.2 236.5,224.3 242.5,253.4 248.5,256.7 254.5,252.0 261.5,247.0 267.5,249.5 273.5,251.5 280.5,256.7 286.5,260.6 292.5,268.5 298.5,268.9 305.5,283.1 311.5,290.3 317.5,296.7 324.5,298.6 330.5,326.4 336.5,308.9 343.5,308.9 349.5,321.4 355.5,324.5 361.5,318.1 368.5,328.7 374.5,326.4 380.5,324.4 387.5,317.3 393.5,317.0 399.5,320.6 406.5,327.3 412.5,330.6 418.5,332.4 424.5,325.9 431.5,343.4 437.5,347.7 443.5,361.9 450.5,368.6 456.5,365.2 462.5,372.6 469.5,358.1 475.5,346.2 481.5,349.9 487.5,357.9 494.5,350.4 500.5,337.4 506.5,280.2 513.5,288.9 519.5,265.0 525.5,270.4 532.5,275.8 538.5,274.1 544.5,266.2 550.5,255.3 557.5,287.6 563.5,293.6 569.5,281.3 576.5,264.1 582.5,267.5 588.5,268.8 595.5,268.8 601.5,251.1 607.5,253.7 613.5,263.8 620.5,265.8 626.5,264.1 632.5,282.0 639.5,280.9 645.5,278.1 651.5,292.7 658.5,294.4 664.5,304.5 670.5,310.7 676.5,308.4 683.5,311.8 689.5,328.9 695.5,325.2 702.5,328.6 708.5,318.0 714.5,323.5 720.5,316.3 727.5,310.1 733.5,305.0 739.5,328.6 746.5,343.7 752.5,348.8 758.5,355.7 765.5,346.3 771.5,345.1 777.5,346.0 783.5,342.9 790.5,330.0 796.5,324.1 802.5,341.8 809.5,324.9 815.5,338.4 821.5,337.9 828.5,344.6 834.5,354.4 840.5,342.3 846.5,357.7 853.5,363.8 859.5,356.3 865.5,378.6 872.5,378.6 878.5,400.9 884.5,371.9 891.5,368.1 897.5,354.8 903.5,350.1 909.5,327.8 916.5,336.8 922.5,325.4 928.5,328.5 935.5,318.3 941.5,310.4 947.5,285.1 954.5,259.4 960.5,295.2 966.5,326.7 972.5,336.3 979.5,332.3 985.5,346.4 991.5,360.4 998.5,354.5 1004.5,342.4 1010.5,349.4 1017.5,326.2 1023.5,344.4 1029.5,344.1 1035.5,359.0 1042.5,349.7" fill="none" stroke="#43A047" stroke-width="1.4" stroke-linejoin="round"/><polyline points="9.5,165.3 15.5,165.3 21.5,165.3 28.5,165.3 34.5,165.3 40.5,165.3 47.5,168.4 53.5,172.0 59.5,179.5 65.5,179.5 72.5,179.5 78.5,179.7 84.5,187.5 91.5,198.5 97.5,198.5 103.5,198.5 110.5,198.5 116.5,210.5 122.5,227.0 128.5,227.0 135.5,235.5 141.5,237.8 147.5,239.8 154.5,239.8 160.5,239.8 166.5,258.0 173.5,263.9 179.5,263.9 185.5,299.9 191.5,299.9 198.5,306.8 204.5,327.2 210.5,334.7 217.5,337.1 223.5,343.4 229.5,343.4 236.5,343.4 242.5,343.4 248.5,343.4 254.5,343.4 261.5,343.4 267.5,343.4 273.5,343.4 280.5,344.8 286.5,346.4 292.5,350.8 298.5,350.8 305.5,354.8 311.5,356.9 317.5,359.7 324.5,359.7 330.5,359.7 336.5,359.7 343.5,353.9 349.5,342.2 355.5,342.2 361.5,342.2 368.5,342.2 374.5,342.2 380.5,342.2 387.5,325.4 393.5,315.7 399.5,304.0 406.5,283.2 412.5,279.6 418.5,279.6 424.5,279.6 431.5,279.6 437.5,279.6 443.5,279.6 450.5,279.6 456.5,279.6 462.5,279.6 469.5,279.6 475.5,279.6 481.5,278.1 487.5,278.1 494.5,274.4 500.5,268.2 506.5,269.2 513.5,276.5 519.5,276.5 525.5,276.5 532.5,276.5 538.5,276.5 544.5,276.5 550.5,276.5 557.5,281.6 563.5,289.1 569.5,289.1 576.5,291.6 582.5,291.6 588.5,295.8 595.5,300.4 601.5,306.9 607.5,317.9 613.5,321.3 620.5,325.9 626.5,330.5 632.5,330.5 639.5,339.4 645.5,341.4 651.5,341.9 658.5,341.9 664.5,331.1 670.5,322.4 676.5,322.4 683.5,322.4 689.5,316.2 695.5,316.2 702.5,316.2 708.5,316.2 714.5,316.2 720.5,316.2 727.5,316.2 733.5,316.2 739.5,316.2 746.5,316.2 752.5,316.2 758.5,316.2 765.5,307.4 771.5,304.2 777.5,304.2 783.5,304.2 790.5,296.2 796.5,294.9 802.5,294.9 809.5,294.0 815.5,291.1 821.5,283.8 828.5,273.8 834.5,273.8 840.5,273.8 846.5,280.4 853.5,280.4 859.5,282.9 865.5,283.3 872.5,283.3 878.5,283.3 884.5,283.3 891.5,283.3 897.5,283.3 903.5,287.8 909.5,292.1 916.5,293.2 922.5,293.2 928.5,302.7 935.5,302.7 941.5,306.3 947.5,308.2 954.5,308.8 960.5,308.8 966.5,316.4 972.5,322.6 979.5,322.6 985.5,327.4 991.5,328.0 998.5,329.1 1004.5,329.6 1010.5,335.5 1017.5,335.5 1023.5,339.9 1029.5,340.1 1035.5,351.5 1042.5,351.5 1048.5,351.5 1054.5,351.5 1061.5,354.7 1067.5,354.7 1073.5,354.7 1080.5,354.7 1086.5,354.7 1092.5,352.2 1098.5,352.2 1105.5,340.4 1111.5,328.4 1117.5,328.4 1124.5,328.4 1130.5,328.4 1136.5,328.4 1142.5,328.4 1149.5,328.4 1155.5,328.4 1161.5,328.4 1168.5,328.4 1174.5,328.4 1180.5,328.4 1187.5,328.4 1193.5,328.4 1199.5,327.0" fill="none" stroke="#B71C1C" stroke-width="1.4" stroke-linejoin="round"/><polyline points="9.5,168.4 15.5,185.8 21.5,187.5 28.5,194.0 34.5,200.3 40.5,202.5 47.5,209.3 53.5,213.2 59.5,220.5 65.5,221.8 72.5,221.8 78.5,233.2 84.5,240.9 91.5,252.4 97.5,265.8 103.5,272.2 110.5,272.2 116.5,275.4 122.5,275.4 128.5,275.4 135.5,275.4 141.5,275.4 147.5,274.9 154.5,274.9 160.5,274.4 166.5,295.3 173.5,299.9 179.5,301.4 185.5,330.4 191.5,330.4 198.5,341.2 204.5,350.4 210.5,356.4 217.5,372.0 223.5,387.4 229.5,390.8 236.5,398.8 242.5,396.4 248.5,386.4 254.5,379.0 261.5,379.0 267.5,379.0 273.5,368.5 280.5,347.8 286.5,347.8 292.5,336.1 298.5,315.2 305.5,310.6 311.5,310.6 317.5,311.6 324.5,311.6 330.5,311.6 336.5,320.7 343.5,305.9 349.5,294.2 355.5,294.2 361.5,294.2 368.5,294.2 374.5,292.8 380.5,292.8 387.5,284.2 393.5,263.5 399.5,246.1 406.5,246.1 412.5,245.2 418.5,245.2 424.5,245.2 431.5,245.2 437.5,244.7 443.5,239.5 450.5,245.2 456.5,252.8 462.5,258.9 469.5,264.6 475.5,268.7 481.5,273.0 487.5,289.4 494.5,289.4 500.5,289.4 506.5,293.8 513.5,305.6 519.5,310.3 525.5,310.3 532.5,319.2 538.5,321.2 544.5,321.8 550.5,321.8 557.5,323.7 563.5,323.7 569.5,319.8 576.5,322.3 582.5,322.3 588.5,325.1 595.5,326.5 601.5,334.0 607.5,345.0 613.5,349.4 620.5,349.4 626.5,353.0 632.5,353.0 639.5,353.0 645.5,359.4 651.5,358.3 658.5,357.0 664.5,327.9 670.5,319.1 676.5,319.1 683.5,311.1 689.5,303.6 695.5,303.6 702.5,302.8 708.5,299.9 714.5,292.5 720.5,278.6 727.5,278.6 733.5,278.6 739.5,278.6 746.5,280.2 752.5,280.2 758.5,279.2 765.5,269.8 771.5,269.8 777.5,262.4 783.5,256.9 790.5,256.1 796.5,256.9 802.5,256.9 809.5,261.4 815.5,266.3 821.5,277.4 828.5,283.2 834.5,286.9 840.5,288.8 846.5,295.9 853.5,295.9 859.5,306.0 865.5,312.7 872.5,312.7 878.5,318.0 884.5,318.0 891.5,318.0 897.5,317.4 903.5,321.9 909.5,326.2 916.5,327.4 922.5,327.4 928.5,327.4 935.5,327.4 941.5,327.4 947.5,327.4 954.5,339.8 960.5,330.5 966.5,330.5 972.5,330.5 979.5,329.5 985.5,329.5 991.5,331.2 998.5,332.2 1004.5,332.8 1010.5,338.6 1017.5,345.8 1023.5,350.7 1029.5,352.8 1035.5,369.9 1042.5,371.3 1048.5,371.3 1054.5,373.4 1061.5,373.4 1067.5,365.9 1073.5,365.3 1080.5,359.9 1086.5,359.4 1092.5,350.9 1098.5,337.3 1105.5,322.4 1111.5,308.4 1117.5,301.4 1124.5,300.1 1130.5,300.1 1136.5,300.1 1142.5,300.6 1149.5,308.8 1155.5,308.8 1161.5,308.8 1168.5,309.2 1174.5,329.4 1180.5,343.8 1187.5,345.2 1193.5,345.2 1199.5,345.4" fill="none" stroke="#2962FF" stroke-width="1.4" stroke-linejoin="round"/><line x1="15.5" y1="172" x2="15.5" y2="183" stroke="#089981" stroke-width="1"/><rect x="13.0" y="176" width="5" height="5.0" fill="#089981"/><line x1="21.5" y1="171" x2="21.5" y2="200" stroke="#F23645" stroke-width="1"/><rect x="19.0" y="177" width="5" height="19.0" fill="#F23645"/><line x1="28.5" y1="194" x2="28.5" y2="211" stroke="#F23645" stroke-width="1"/><rect x="26.0" y="196" width="5" height="6.0" fill="#F23645"/><line x1="34.5" y1="194" x2="34.5" y2="235" stroke="#F23645" stroke-width="1"/><rect x="32.0" y="202" width="5" height="26.0" fill="#F23645"/><line x1="40.5" y1="194" x2="40.5" y2="229" stroke="#089981" stroke-width="1"/><rect x="38.0" y="223" width="5" height="5.0" fill="#089981"/><line x1="47.5" y1="221" x2="47.5" y2="250" stroke="#F23645" stroke-width="1"/><rect x="45.0" y="223" width="5" height="21.0" fill="#F23645"/><line x1="53.5" y1="235" x2="53.5" y2="259" stroke="#F23645" stroke-width="1"/><rect x="51.0" y="243" width="5" height="7.0" fill="#F23645"/><line x1="59.5" y1="234" x2="59.5" y2="272" stroke="#F23645" stroke-width="1"/><rect x="57.0" y="249" width="5" height="17.0" fill="#F23645"/><line x1="65.5" y1="249" x2="65.5" y2="266" stroke="#089981" stroke-width="1"/><rect x="63.0" y="259" width="5" height="7.0" fill="#089981"/><line x1="72.5" y1="241" x2="72.5" y2="260" stroke="#089981" stroke-width="1"/><rect x="70.0" y="244" width="5" height="16.0" fill="#089981"/><line x1="78.5" y1="244" x2="78.5" y2="271" stroke="#F23645" stroke-width="1"/><rect x="76.0" y="244" width="5" height="27.0" fill="#F23645"/><line x1="84.5" y1="257" x2="84.5" y2="288" stroke="#F23645" stroke-width="1"/><rect x="82.0" y="271" width="5" height="17.0" fill="#F23645"/><line x1="91.5" y1="284" x2="91.5" y2="311" stroke="#F23645" stroke-width="1"/><rect x="89.0" y="287" width="5" height="23.0" fill="#F23645"/><line x1="97.5" y1="287" x2="97.5" y2="310" stroke="#089981" stroke-width="1"/><rect x="95.0" y="305" width="5" height="5.0" fill="#089981"/><line x1="103.5" y1="288" x2="103.5" y2="310" stroke="#089981" stroke-width="1"/><rect x="101.0" y="288" width="5" height="17.0" fill="#089981"/><line x1="110.5" y1="250" x2="110.5" y2="291" stroke="#089981" stroke-width="1"/><rect x="108.0" y="252" width="5" height="37.0" fill="#089981"/><line x1="116.5" y1="240" x2="116.5" y2="262" stroke="#089981" stroke-width="1"/><rect x="114.0" y="243" width="5" height="10.0" fill="#089981"/><line x1="122.5" y1="243" x2="122.5" y2="264" stroke="#F23645" stroke-width="1"/><rect x="120.0" y="243" width="5" height="10.0" fill="#F23645"/><line x1="128.5" y1="246" x2="128.5" y2="262" stroke="#F23645" stroke-width="1"/><rect x="126.0" y="252" width="5" height="6.0" fill="#F23645"/><line x1="135.5" y1="256" x2="135.5" y2="267" stroke="#F23645" stroke-width="1"/><rect x="133.0" y="258" width="5" height="9.0" fill="#F23645"/><line x1="141.5" y1="255" x2="141.5" y2="271" stroke="#F23645" stroke-width="1"/><rect x="139.0" y="266" width="5" height="5.0" fill="#F23645"/><line x1="147.5" y1="263" x2="147.5" y2="273" stroke="#F23645" stroke-width="1"/><rect x="145.0" y="270" width="5" height="2.0" fill="#F23645"/><line x1="154.5" y1="267" x2="154.5" y2="284" stroke="#F23645" stroke-width="1"/><rect x="152.0" y="271" width="5" height="10.0" fill="#F23645"/><line x1="160.5" y1="277" x2="160.5" y2="309" stroke="#F23645" stroke-width="1"/><rect x="158.0" y="280" width="5" height="29.0" fill="#F23645"/><line x1="166.5" y1="304" x2="166.5" y2="350" stroke="#F23645" stroke-width="1"/><rect x="164.0" y="308" width="5" height="42.0" fill="#F23645"/><line x1="173.5" y1="328" x2="173.5" y2="357" stroke="#089981" stroke-width="1"/><rect x="171.0" y="343" width="5" height="7.0" fill="#089981"/><line x1="179.5" y1="335" x2="179.5" y2="357" stroke="#F23645" stroke-width="1"/><rect x="177.0" y="343" width="5" height="14.0" fill="#F23645"/><line x1="185.5" y1="351" x2="185.5" y2="406" stroke="#F23645" stroke-width="1"/><rect x="183.0" y="356" width="5" height="48.0" fill="#F23645"/><line x1="191.5" y1="356" x2="191.5" y2="404" stroke="#089981" stroke-width="1"/><rect x="189.0" y="396" width="5" height="8.0" fill="#089981"/><line x1="198.5" y1="382" x2="198.5" y2="419" stroke="#F23645" stroke-width="1"/><rect x="196.0" y="396" width="5" height="18.0" fill="#F23645"/><line x1="204.5" y1="405" x2="204.5" y2="434" stroke="#F23645" stroke-width="1"/><rect x="202.0" y="413" width="5" height="17.0" fill="#F23645"/><line x1="210.5" y1="405" x2="210.5" y2="436" stroke="#089981" stroke-width="1"/><rect x="208.0" y="423" width="5" height="7.0" fill="#089981"/><line x1="217.5" y1="421" x2="217.5" y2="440" stroke="#F23645" stroke-width="1"/><rect x="215.0" y="423" width="5" height="16.0" fill="#F23645"/><line x1="223.5" y1="413" x2="223.5" y2="447" stroke="#089981" stroke-width="1"/><rect x="221.0" y="413" width="5" height="26.0" fill="#089981"/><line x1="229.5" y1="398" x2="229.5" y2="420" stroke="#F23645" stroke-width="1"/><rect x="227.0" y="413" width="5" height="3.0" fill="#F23645"/><line x1="236.5" y1="393" x2="236.5" y2="423" stroke="#089981" stroke-width="1"/><rect x="234.0" y="399" width="5" height="17.0" fill="#089981"/><line x1="242.5" y1="346" x2="242.5" y2="399" stroke="#089981" stroke-width="1"/><rect x="240.0" y="351" width="5" height="48.0" fill="#089981"/><line x1="248.5" y1="326" x2="248.5" y2="358" stroke="#089981" stroke-width="1"/><rect x="246.0" y="341" width="5" height="11.0" fill="#089981"/><line x1="254.5" y1="311" x2="254.5" y2="348" stroke="#F23645" stroke-width="1"/><rect x="252.0" y="341" width="5" height="2.0" fill="#F23645"/><line x1="261.5" y1="326" x2="261.5" y2="348" stroke="#089981" stroke-width="1"/><rect x="259.0" y="326" width="5" height="18.0" fill="#089981"/><line x1="267.5" y1="322" x2="267.5" y2="345" stroke="#F23645" stroke-width="1"/><rect x="265.0" y="326" width="5" height="13.0" fill="#F23645"/><line x1="273.5" y1="290" x2="273.5" y2="342" stroke="#089981" stroke-width="1"/><rect x="271.0" y="290" width="5" height="49.0" fill="#089981"/><line x1="280.5" y1="273" x2="280.5" y2="306" stroke="#F23645" stroke-width="1"/><rect x="278.0" y="290" width="5" height="15.0" fill="#F23645"/><line x1="286.5" y1="291" x2="286.5" y2="334" stroke="#F23645" stroke-width="1"/><rect x="284.0" y="304" width="5" height="14.0" fill="#F23645"/><line x1="292.5" y1="305" x2="292.5" y2="328" stroke="#089981" stroke-width="1"/><rect x="290.0" y="312" width="5" height="6.0" fill="#089981"/><line x1="298.5" y1="294" x2="298.5" y2="341" stroke="#F23645" stroke-width="1"/><rect x="296.0" y="312" width="5" height="22.0" fill="#F23645"/><line x1="305.5" y1="320" x2="305.5" y2="338" stroke="#089981" stroke-width="1"/><rect x="303.0" y="326" width="5" height="8.0" fill="#089981"/><line x1="311.5" y1="305" x2="311.5" y2="332" stroke="#F23645" stroke-width="1"/><rect x="309.0" y="326" width="5" height="6.0" fill="#F23645"/><line x1="317.5" y1="318" x2="317.5" y2="350" stroke="#089981" stroke-width="1"/><rect x="315.0" y="320" width="5" height="12.0" fill="#089981"/><line x1="324.5" y1="316" x2="324.5" y2="345" stroke="#F23645" stroke-width="1"/><rect x="322.0" y="320" width="5" height="23.0" fill="#F23645"/><line x1="330.5" y1="328" x2="330.5" y2="348" stroke="#089981" stroke-width="1"/><rect x="328.0" y="337" width="5" height="6.0" fill="#089981"/><line x1="336.5" y1="294" x2="336.5" y2="340" stroke="#089981" stroke-width="1"/><rect x="334.0" y="318" width="5" height="20.0" fill="#089981"/><line x1="343.5" y1="261" x2="343.5" y2="318" stroke="#089981" stroke-width="1"/><rect x="341.0" y="262" width="5" height="56.0" fill="#089981"/><line x1="349.5" y1="238" x2="349.5" y2="271" stroke="#F23645" stroke-width="1"/><rect x="347.0" y="262" width="5" height="1.0" fill="#F23645"/><line x1="355.5" y1="252" x2="355.5" y2="284" stroke="#F23645" stroke-width="1"/><rect x="353.0" y="262" width="5" height="15.0" fill="#F23645"/><line x1="361.5" y1="242" x2="361.5" y2="279" stroke="#089981" stroke-width="1"/><rect x="359.0" y="253" width="5" height="24.0" fill="#089981"/><line x1="368.5" y1="245" x2="368.5" y2="274" stroke="#F23645" stroke-width="1"/><rect x="366.0" y="253" width="5" height="11.0" fill="#F23645"/><line x1="374.5" y1="245" x2="374.5" y2="268" stroke="#089981" stroke-width="1"/><rect x="372.0" y="248" width="5" height="16.0" fill="#089981"/><line x1="380.5" y1="240" x2="380.5" y2="282" stroke="#F23645" stroke-width="1"/><rect x="378.0" y="248" width="5" height="26.0" fill="#F23645"/><line x1="387.5" y1="228" x2="387.5" y2="281" stroke="#089981" stroke-width="1"/><rect x="385.0" y="228" width="5" height="46.0" fill="#089981"/><line x1="393.5" y1="209" x2="393.5" y2="241" stroke="#089981" stroke-width="1"/><rect x="391.0" y="224" width="5" height="5.0" fill="#089981"/><line x1="399.5" y1="219" x2="399.5" y2="253" stroke="#F23645" stroke-width="1"/><rect x="397.0" y="224" width="5" height="29.0" fill="#F23645"/><line x1="406.5" y1="238" x2="406.5" y2="262" stroke="#F23645" stroke-width="1"/><rect x="404.0" y="253" width="5" height="4.0" fill="#F23645"/><line x1="412.5" y1="234" x2="412.5" y2="257" stroke="#089981" stroke-width="1"/><rect x="410.0" y="252" width="5" height="5.0" fill="#089981"/><line x1="418.5" y1="242" x2="418.5" y2="255" stroke="#089981" stroke-width="1"/><rect x="416.0" y="247" width="5" height="5.0" fill="#089981"/><line x1="424.5" y1="239" x2="424.5" y2="257" stroke="#F23645" stroke-width="1"/><rect x="422.0" y="247" width="5" height="3.0" fill="#F23645"/><line x1="431.5" y1="244" x2="431.5" y2="255" stroke="#F23645" stroke-width="1"/><rect x="429.0" y="249" width="5" height="3.0" fill="#F23645"/><line x1="437.5" y1="251" x2="437.5" y2="264" stroke="#F23645" stroke-width="1"/><rect x="435.0" y="251" width="5" height="6.0" fill="#F23645"/><line x1="443.5" y1="256" x2="443.5" y2="270" stroke="#F23645" stroke-width="1"/><rect x="441.0" y="256" width="5" height="5.0" fill="#F23645"/><line x1="450.5" y1="251" x2="450.5" y2="272" stroke="#F23645" stroke-width="1"/><rect x="448.0" y="260" width="5" height="8.0" fill="#F23645"/><line x1="456.5" y1="258" x2="456.5" y2="269" stroke="#F23645" stroke-width="1"/><rect x="454.0" y="268" width="5" height="1.0" fill="#F23645"/><line x1="462.5" y1="267" x2="462.5" y2="284" stroke="#F23645" stroke-width="1"/><rect x="460.0" y="269" width="5" height="14.0" fill="#F23645"/><line x1="469.5" y1="278" x2="469.5" y2="290" stroke="#F23645" stroke-width="1"/><rect x="467.0" y="282" width="5" height="8.0" fill="#F23645"/><line x1="475.5" y1="276" x2="475.5" y2="299" stroke="#F23645" stroke-width="1"/><rect x="473.0" y="290" width="5" height="7.0" fill="#F23645"/><line x1="481.5" y1="294" x2="481.5" y2="302" stroke="#F23645" stroke-width="1"/><rect x="479.0" y="296" width="5" height="3.0" fill="#F23645"/><line x1="487.5" y1="298" x2="487.5" y2="328" stroke="#F23645" stroke-width="1"/><rect x="485.0" y="298" width="5" height="28.0" fill="#F23645"/><line x1="494.5" y1="309" x2="494.5" y2="326" stroke="#089981" stroke-width="1"/><rect x="492.0" y="309" width="5" height="17.0" fill="#089981"/><line x1="500.5" y1="299" x2="500.5" y2="315" stroke="#089981" stroke-width="1"/><rect x="498.0" y="309" width="5" height="1.0" fill="#089981"/><line x1="506.5" y1="309" x2="506.5" y2="330" stroke="#F23645" stroke-width="1"/><rect x="504.0" y="309" width="5" height="12.0" fill="#F23645"/><line x1="513.5" y1="321" x2="513.5" y2="344" stroke="#F23645" stroke-width="1"/><rect x="511.0" y="321" width="5" height="3.0" fill="#F23645"/><line x1="519.5" y1="309" x2="519.5" y2="325" stroke="#089981" stroke-width="1"/><rect x="517.0" y="318" width="5" height="7.0" fill="#089981"/><line x1="525.5" y1="318" x2="525.5" y2="336" stroke="#F23645" stroke-width="1"/><rect x="523.0" y="318" width="5" height="11.0" fill="#F23645"/><line x1="532.5" y1="313" x2="532.5" y2="328" stroke="#089981" stroke-width="1"/><rect x="530.0" y="326" width="5" height="2.0" fill="#089981"/><line x1="538.5" y1="319" x2="538.5" y2="331" stroke="#089981" stroke-width="1"/><rect x="536.0" y="324" width="5" height="1.0" fill="#089981"/><line x1="544.5" y1="303" x2="544.5" y2="324" stroke="#089981" stroke-width="1"/><rect x="542.0" y="317" width="5" height="7.0" fill="#089981"/><line x1="550.5" y1="309" x2="550.5" y2="320" stroke="#089981" stroke-width="1"/><rect x="548.0" y="317" width="5" height="1.0" fill="#089981"/><line x1="557.5" y1="305" x2="557.5" y2="326" stroke="#F23645" stroke-width="1"/><rect x="555.0" y="317" width="5" height="4.0" fill="#F23645"/><line x1="563.5" y1="320" x2="563.5" y2="332" stroke="#F23645" stroke-width="1"/><rect x="561.0" y="320" width="5" height="7.0" fill="#F23645"/><line x1="569.5" y1="314" x2="569.5" y2="332" stroke="#F23645" stroke-width="1"/><rect x="567.0" y="327" width="5" height="4.0" fill="#F23645"/><line x1="576.5" y1="328" x2="576.5" y2="342" stroke="#F23645" stroke-width="1"/><rect x="574.0" y="330" width="5" height="2.0" fill="#F23645"/><line x1="582.5" y1="323" x2="582.5" y2="338" stroke="#089981" stroke-width="1"/><rect x="580.0" y="326" width="5" height="7.0" fill="#089981"/><line x1="588.5" y1="321" x2="588.5" y2="347" stroke="#F23645" stroke-width="1"/><rect x="586.0" y="326" width="5" height="17.0" fill="#F23645"/><line x1="595.5" y1="338" x2="595.5" y2="350" stroke="#F23645" stroke-width="1"/><rect x="593.0" y="343" width="5" height="5.0" fill="#F23645"/><line x1="601.5" y1="338" x2="601.5" y2="363" stroke="#F23645" stroke-width="1"/><rect x="599.0" y="347" width="5" height="15.0" fill="#F23645"/><line x1="607.5" y1="362" x2="607.5" y2="385" stroke="#F23645" stroke-width="1"/><rect x="605.0" y="362" width="5" height="7.0" fill="#F23645"/><line x1="613.5" y1="356" x2="613.5" y2="370" stroke="#089981" stroke-width="1"/><rect x="611.0" y="365" width="5" height="4.0" fill="#089981"/><line x1="620.5" y1="365" x2="620.5" y2="375" stroke="#F23645" stroke-width="1"/><rect x="618.0" y="365" width="5" height="8.0" fill="#F23645"/><line x1="626.5" y1="356" x2="626.5" y2="378" stroke="#089981" stroke-width="1"/><rect x="624.0" y="358" width="5" height="15.0" fill="#089981"/><line x1="632.5" y1="334" x2="632.5" y2="362" stroke="#089981" stroke-width="1"/><rect x="630.0" y="346" width="5" height="12.0" fill="#089981"/><line x1="639.5" y1="335" x2="639.5" y2="352" stroke="#F23645" stroke-width="1"/><rect x="637.0" y="346" width="5" height="4.0" fill="#F23645"/><line x1="645.5" y1="347" x2="645.5" y2="360" stroke="#F23645" stroke-width="1"/><rect x="643.0" y="349" width="5" height="9.0" fill="#F23645"/><line x1="651.5" y1="332" x2="651.5" y2="358" stroke="#089981" stroke-width="1"/><rect x="649.0" y="350" width="5" height="8.0" fill="#089981"/><line x1="658.5" y1="329" x2="658.5" y2="352" stroke="#089981" stroke-width="1"/><rect x="656.0" y="337" width="5" height="14.0" fill="#089981"/><line x1="664.5" y1="278" x2="664.5" y2="337" stroke="#089981" stroke-width="1"/><rect x="662.0" y="280" width="5" height="57.0" fill="#089981"/><line x1="670.5" y1="260" x2="670.5" y2="290" stroke="#F23645" stroke-width="1"/><rect x="668.0" y="280" width="5" height="9.0" fill="#F23645"/><line x1="676.5" y1="265" x2="676.5" y2="290" stroke="#089981" stroke-width="1"/><rect x="674.0" y="265" width="5" height="24.0" fill="#089981"/><line x1="683.5" y1="261" x2="683.5" y2="279" stroke="#F23645" stroke-width="1"/><rect x="681.0" y="265" width="5" height="5.0" fill="#F23645"/><line x1="689.5" y1="248" x2="689.5" y2="279" stroke="#F23645" stroke-width="1"/><rect x="687.0" y="270" width="5" height="6.0" fill="#F23645"/><line x1="695.5" y1="263" x2="695.5" y2="280" stroke="#089981" stroke-width="1"/><rect x="693.0" y="274" width="5" height="1.0" fill="#089981"/><line x1="702.5" y1="266" x2="702.5" y2="280" stroke="#089981" stroke-width="1"/><rect x="700.0" y="266" width="5" height="9.0" fill="#089981"/><line x1="708.5" y1="251" x2="708.5" y2="269" stroke="#089981" stroke-width="1"/><rect x="706.0" y="255" width="5" height="12.0" fill="#089981"/><line x1="714.5" y1="255" x2="714.5" y2="288" stroke="#F23645" stroke-width="1"/><rect x="712.0" y="255" width="5" height="33.0" fill="#F23645"/><line x1="720.5" y1="282" x2="720.5" y2="310" stroke="#F23645" stroke-width="1"/><rect x="718.0" y="287" width="5" height="7.0" fill="#F23645"/><line x1="727.5" y1="281" x2="727.5" y2="295" stroke="#089981" stroke-width="1"/><rect x="725.0" y="281" width="5" height="13.0" fill="#089981"/><line x1="733.5" y1="263" x2="733.5" y2="284" stroke="#089981" stroke-width="1"/><rect x="731.0" y="264" width="5" height="19.0" fill="#089981"/><line x1="739.5" y1="264" x2="739.5" y2="282" stroke="#F23645" stroke-width="1"/><rect x="737.0" y="264" width="5" height="4.0" fill="#F23645"/><line x1="746.5" y1="254" x2="746.5" y2="271" stroke="#F23645" stroke-width="1"/><rect x="744.0" y="268" width="5" height="1.0" fill="#F23645"/><line x1="752.5" y1="255" x2="752.5" y2="269" stroke="#F23645" stroke-width="1"/><rect x="750.0" y="268" width="5" height="1.0" fill="#F23645"/><line x1="758.5" y1="249" x2="758.5" y2="269" stroke="#089981" stroke-width="1"/><rect x="756.0" y="251" width="5" height="18.0" fill="#089981"/><line x1="765.5" y1="230" x2="765.5" y2="254" stroke="#F23645" stroke-width="1"/><rect x="763.0" y="251" width="5" height="3.0" fill="#F23645"/><line x1="771.5" y1="250" x2="771.5" y2="270" stroke="#F23645" stroke-width="1"/><rect x="769.0" y="253" width="5" height="11.0" fill="#F23645"/><line x1="777.5" y1="249" x2="777.5" y2="266" stroke="#F23645" stroke-width="1"/><rect x="775.0" y="263" width="5" height="3.0" fill="#F23645"/><line x1="783.5" y1="256" x2="783.5" y2="268" stroke="#089981" stroke-width="1"/><rect x="781.0" y="264" width="5" height="2.0" fill="#089981"/><line x1="790.5" y1="260" x2="790.5" y2="282" stroke="#F23645" stroke-width="1"/><rect x="788.0" y="264" width="5" height="18.0" fill="#F23645"/><line x1="796.5" y1="275" x2="796.5" y2="284" stroke="#089981" stroke-width="1"/><rect x="794.0" y="281" width="5" height="1.0" fill="#089981"/><line x1="802.5" y1="261" x2="802.5" y2="282" stroke="#089981" stroke-width="1"/><rect x="800.0" y="278" width="5" height="4.0" fill="#089981"/><line x1="809.5" y1="276" x2="809.5" y2="293" stroke="#F23645" stroke-width="1"/><rect x="807.0" y="278" width="5" height="15.0" fill="#F23645"/><line x1="815.5" y1="292" x2="815.5" y2="302" stroke="#F23645" stroke-width="1"/><rect x="813.0" y="292" width="5" height="2.0" fill="#F23645"/><line x1="821.5" y1="289" x2="821.5" y2="306" stroke="#F23645" stroke-width="1"/><rect x="819.0" y="294" width="5" height="10.0" fill="#F23645"/><line x1="828.5" y1="303" x2="828.5" y2="318" stroke="#F23645" stroke-width="1"/><rect x="826.0" y="303" width="5" height="8.0" fill="#F23645"/><line x1="834.5" y1="300" x2="834.5" y2="313" stroke="#089981" stroke-width="1"/><rect x="832.0" y="308" width="5" height="3.0" fill="#089981"/><line x1="840.5" y1="308" x2="840.5" y2="318" stroke="#F23645" stroke-width="1"/><rect x="838.0" y="308" width="5" height="4.0" fill="#F23645"/><line x1="846.5" y1="310" x2="846.5" y2="331" stroke="#F23645" stroke-width="1"/><rect x="844.0" y="310" width="5" height="19.0" fill="#F23645"/><line x1="853.5" y1="318" x2="853.5" y2="329" stroke="#089981" stroke-width="1"/><rect x="851.0" y="325" width="5" height="4.0" fill="#089981"/><line x1="859.5" y1="325" x2="859.5" y2="336" stroke="#F23645" stroke-width="1"/><rect x="857.0" y="325" width="5" height="4.0" fill="#F23645"/><line x1="865.5" y1="318" x2="865.5" y2="336" stroke="#089981" stroke-width="1"/><rect x="863.0" y="318" width="5" height="11.0" fill="#089981"/><line x1="872.5" y1="300" x2="872.5" y2="324" stroke="#F23645" stroke-width="1"/><rect x="870.0" y="318" width="5" height="6.0" fill="#F23645"/><line x1="878.5" y1="301" x2="878.5" y2="324" stroke="#089981" stroke-width="1"/><rect x="876.0" y="316" width="5" height="8.0" fill="#089981"/><line x1="884.5" y1="310" x2="884.5" y2="320" stroke="#089981" stroke-width="1"/><rect x="882.0" y="310" width="5" height="7.0" fill="#089981"/><line x1="891.5" y1="300" x2="891.5" y2="318" stroke="#089981" stroke-width="1"/><rect x="889.0" y="305" width="5" height="5.0" fill="#089981"/><line x1="897.5" y1="298" x2="897.5" y2="332" stroke="#F23645" stroke-width="1"/><rect x="895.0" y="305" width="5" height="24.0" fill="#F23645"/><line x1="903.5" y1="328" x2="903.5" y2="345" stroke="#F23645" stroke-width="1"/><rect x="901.0" y="328" width="5" height="16.0" fill="#F23645"/><line x1="909.5" y1="336" x2="909.5" y2="354" stroke="#F23645" stroke-width="1"/><rect x="907.0" y="343" width="5" height="6.0" fill="#F23645"/><line x1="916.5" y1="346" x2="916.5" y2="356" stroke="#F23645" stroke-width="1"/><rect x="914.0" y="348" width="5" height="8.0" fill="#F23645"/><line x1="922.5" y1="343" x2="922.5" y2="356" stroke="#089981" stroke-width="1"/><rect x="920.0" y="346" width="5" height="9.0" fill="#089981"/><line x1="928.5" y1="336" x2="928.5" y2="346" stroke="#089981" stroke-width="1"/><rect x="926.0" y="345" width="5" height="1.0" fill="#089981"/><line x1="935.5" y1="341" x2="935.5" y2="352" stroke="#F23645" stroke-width="1"/><rect x="933.0" y="345" width="5" height="1.0" fill="#F23645"/><line x1="941.5" y1="342" x2="941.5" y2="354" stroke="#089981" stroke-width="1"/><rect x="939.0" y="343" width="5" height="3.0" fill="#089981"/><line x1="947.5" y1="328" x2="947.5" y2="344" stroke="#089981" stroke-width="1"/><rect x="945.0" y="330" width="5" height="14.0" fill="#089981"/><line x1="954.5" y1="323" x2="954.5" y2="332" stroke="#089981" stroke-width="1"/><rect x="952.0" y="324" width="5" height="6.0" fill="#089981"/><line x1="960.5" y1="305" x2="960.5" y2="342" stroke="#F23645" stroke-width="1"/><rect x="958.0" y="324" width="5" height="18.0" fill="#F23645"/><line x1="966.5" y1="319" x2="966.5" y2="347" stroke="#089981" stroke-width="1"/><rect x="964.0" y="325" width="5" height="17.0" fill="#089981"/><line x1="972.5" y1="320" x2="972.5" y2="350" stroke="#F23645" stroke-width="1"/><rect x="970.0" y="325" width="5" height="13.0" fill="#F23645"/><line x1="979.5" y1="324" x2="979.5" y2="352" stroke="#089981" stroke-width="1"/><rect x="977.0" y="338" width="5" height="1.0" fill="#089981"/><line x1="985.5" y1="335" x2="985.5" y2="346" stroke="#F23645" stroke-width="1"/><rect x="983.0" y="338" width="5" height="7.0" fill="#F23645"/><line x1="991.5" y1="344" x2="991.5" y2="358" stroke="#F23645" stroke-width="1"/><rect x="989.0" y="344" width="5" height="10.0" fill="#F23645"/><line x1="998.5" y1="338" x2="998.5" y2="360" stroke="#089981" stroke-width="1"/><rect x="996.0" y="342" width="5" height="13.0" fill="#089981"/><line x1="1004.5" y1="342" x2="1004.5" y2="361" stroke="#F23645" stroke-width="1"/><rect x="1002.0" y="342" width="5" height="16.0" fill="#F23645"/><line x1="1010.5" y1="355" x2="1010.5" y2="373" stroke="#F23645" stroke-width="1"/><rect x="1008.0" y="357" width="5" height="7.0" fill="#F23645"/><line x1="1017.5" y1="347" x2="1017.5" y2="368" stroke="#089981" stroke-width="1"/><rect x="1015.0" y="356" width="5" height="8.0" fill="#089981"/><line x1="1023.5" y1="356" x2="1023.5" y2="382" stroke="#F23645" stroke-width="1"/><rect x="1021.0" y="356" width="5" height="23.0" fill="#F23645"/><line x1="1029.5" y1="367" x2="1029.5" y2="382" stroke="#F23645" stroke-width="1"/><rect x="1027.0" y="378" width="5" height="1.0" fill="#F23645"/><line x1="1035.5" y1="377" x2="1035.5" y2="405" stroke="#F23645" stroke-width="1"/><rect x="1033.0" y="378" width="5" height="23.0" fill="#F23645"/><line x1="1042.5" y1="363" x2="1042.5" y2="402" stroke="#089981" stroke-width="1"/><rect x="1040.0" y="372" width="5" height="30.0" fill="#089981"/><line x1="1048.5" y1="367" x2="1048.5" y2="375" stroke="#089981" stroke-width="1"/><rect x="1046.0" y="368" width="5" height="5.0" fill="#089981"/><line x1="1054.5" y1="342" x2="1054.5" y2="369" stroke="#089981" stroke-width="1"/><rect x="1052.0" y="355" width="5" height="14.0" fill="#089981"/><line x1="1061.5" y1="350" x2="1061.5" y2="365" stroke="#089981" stroke-width="1"/><rect x="1059.0" y="350" width="5" height="6.0" fill="#089981"/><line x1="1067.5" y1="327" x2="1067.5" y2="351" stroke="#089981" stroke-width="1"/><rect x="1065.0" y="328" width="5" height="23.0" fill="#089981"/><line x1="1073.5" y1="326" x2="1073.5" y2="343" stroke="#F23645" stroke-width="1"/><rect x="1071.0" y="328" width="5" height="9.0" fill="#F23645"/><line x1="1080.5" y1="315" x2="1080.5" y2="339" stroke="#089981" stroke-width="1"/><rect x="1078.0" y="325" width="5" height="12.0" fill="#089981"/><line x1="1086.5" y1="314" x2="1086.5" y2="336" stroke="#F23645" stroke-width="1"/><rect x="1084.0" y="325" width="5" height="3.0" fill="#F23645"/><line x1="1092.5" y1="300" x2="1092.5" y2="348" stroke="#089981" stroke-width="1"/><rect x="1090.0" y="318" width="5" height="10.0" fill="#089981"/><line x1="1098.5" y1="304" x2="1098.5" y2="325" stroke="#089981" stroke-width="1"/><rect x="1096.0" y="310" width="5" height="8.0" fill="#089981"/><line x1="1105.5" y1="276" x2="1105.5" y2="311" stroke="#089981" stroke-width="1"/><rect x="1103.0" y="285" width="5" height="26.0" fill="#089981"/><line x1="1111.5" y1="252" x2="1111.5" y2="290" stroke="#089981" stroke-width="1"/><rect x="1109.0" y="259" width="5" height="26.0" fill="#089981"/><line x1="1117.5" y1="253" x2="1117.5" y2="295" stroke="#F23645" stroke-width="1"/><rect x="1115.0" y="259" width="5" height="36.0" fill="#F23645"/><line x1="1124.5" y1="294" x2="1124.5" y2="330" stroke="#F23645" stroke-width="1"/><rect x="1122.0" y="295" width="5" height="32.0" fill="#F23645"/><line x1="1130.5" y1="322" x2="1130.5" y2="343" stroke="#F23645" stroke-width="1"/><rect x="1128.0" y="327" width="5" height="9.0" fill="#F23645"/><line x1="1136.5" y1="326" x2="1136.5" y2="341" stroke="#089981" stroke-width="1"/><rect x="1134.0" y="332" width="5" height="4.0" fill="#089981"/><line x1="1142.5" y1="330" x2="1142.5" y2="349" stroke="#F23645" stroke-width="1"/><rect x="1140.0" y="332" width="5" height="14.0" fill="#F23645"/><line x1="1149.5" y1="343" x2="1149.5" y2="365" stroke="#F23645" stroke-width="1"/><rect x="1147.0" y="346" width="5" height="14.0" fill="#F23645"/><line x1="1155.5" y1="349" x2="1155.5" y2="365" stroke="#089981" stroke-width="1"/><rect x="1153.0" y="354" width="5" height="6.0" fill="#089981"/><line x1="1161.5" y1="337" x2="1161.5" y2="358" stroke="#089981" stroke-width="1"/><rect x="1159.0" y="342" width="5" height="13.0" fill="#089981"/><line x1="1168.5" y1="340" x2="1168.5" y2="351" stroke="#F23645" stroke-width="1"/><rect x="1166.0" y="342" width="5" height="7.0" fill="#F23645"/><line x1="1174.5" y1="326" x2="1174.5" y2="349" stroke="#089981" stroke-width="1"/><rect x="1172.0" y="326" width="5" height="23.0" fill="#089981"/><line x1="1180.5" y1="325" x2="1180.5" y2="344" stroke="#F23645" stroke-width="1"/><rect x="1178.0" y="326" width="5" height="18.0" fill="#F23645"/><line x1="1187.5" y1="339" x2="1187.5" y2="349" stroke="#089981" stroke-width="1"/><rect x="1185.0" y="344" width="5" height="1.0" fill="#089981"/><line x1="1193.5" y1="337" x2="1193.5" y2="360" stroke="#F23645" stroke-width="1"/><rect x="1191.0" y="344" width="5" height="15.0" fill="#F23645"/><line x1="1199.5" y1="348" x2="1199.5" y2="366" stroke="#089981" stroke-width="1"/><rect x="1197.0" y="350" width="5" height="9.0" fill="#089981"/></g><line x1="16" y1="350.5" x2="1473" y2="350.5" stroke="#089981" stroke-width="1" stroke-dasharray="1 2"/><g clip-path="url(#sclip)"><rect x="14" y="539.5" width="1459" height="101.5" fill="rgba(33,150,243,0.1)"/><line x1="13" y1="540.5" x2="1470" y2="540.5" stroke="#787B86" stroke-opacity="1" stroke-width="1" stroke-dasharray="5 6"/><line x1="13" y1="590.5" x2="1470" y2="590.5" stroke="#787B86" stroke-opacity="0.5" stroke-width="1" stroke-dasharray="5 6"/><line x1="13" y1="641.5" x2="1470" y2="641.5" stroke="#787B86" stroke-opacity="1" stroke-width="1" stroke-dasharray="5 6"/><polyline points="9.5,643.5 15.5,627.0 21.5,612.8 28.5,613.8 34.5,628.4 40.5,643.1 47.5,657.6 53.5,664.6 59.5,670.6 65.5,670.3 72.5,660.9 78.5,646.7 84.5,637.4 91.5,645.5 97.5,658.0 103.5,657.7 110.5,628.2 116.5,582.7 122.5,540.0 128.5,521.2 135.5,522.0 141.5,533.7 147.5,544.7 154.5,553.9 160.5,566.7 166.5,589.3 173.5,618.6 179.5,645.9 185.5,661.0 191.5,666.6 198.5,667.0 204.5,667.1 210.5,666.9 217.5,666.5 223.5,658.0 229.5,641.8 236.5,610.8 242.5,576.9 248.5,542.6 254.5,521.0 261.5,510.1 267.5,509.0 273.5,510.0 280.5,513.1 286.5,516.0 292.5,522.0 298.5,529.6 305.5,537.7 311.5,546.3 317.5,552.0 324.5,568.1 330.5,593.0 336.5,621.6 343.5,620.4 349.5,589.3 355.5,548.3 361.5,524.8 368.5,522.4 374.5,521.7 380.5,528.7 387.5,528.9 393.5,533.1 399.5,529.5 406.5,538.4 412.5,555.1 418.5,574.6 424.5,592.2 431.5,610.7 437.5,635.2 443.5,655.0 450.5,668.2 456.5,672.9 462.5,674.8 469.5,674.8 475.5,674.8 481.5,674.8 487.5,674.8 494.5,669.8 500.5,659.7 506.5,647.2 513.5,642.7 519.5,643.8 525.5,648.2 532.5,647.8 538.5,646.5 544.5,634.4 550.5,613.3 557.5,583.1 563.5,565.7 569.5,567.8 576.5,593.1 582.5,612.2 588.5,628.7 595.5,631.4 601.5,649.9 607.5,662.4 613.5,672.3 620.5,669.9 626.5,656.7 632.5,630.4 639.5,585.9 645.5,549.0 651.5,528.4 658.5,524.7 664.5,519.3 670.5,513.8 676.5,509.7 683.5,511.7 689.5,513.0 695.5,516.1 702.5,517.8 708.5,517.6 714.5,521.9 720.5,535.0 727.5,557.5 733.5,570.7 739.5,574.2 746.5,573.8 752.5,582.5 758.5,589.5 765.5,587.7 771.5,581.0 777.5,584.1 783.5,598.7 790.5,619.1 796.5,638.3 802.5,655.0 809.5,664.9 815.5,669.2 821.5,671.2 828.5,673.1 834.5,674.0 840.5,673.3 846.5,672.3 853.5,671.9 859.5,671.0 865.5,664.9 872.5,655.1 878.5,637.4 884.5,617.2 891.5,587.6 897.5,568.6 903.5,569.2 909.5,601.8 916.5,638.7 922.5,660.3 928.5,656.6 935.5,641.2 941.5,627.2 947.5,610.1 954.5,585.2 960.5,559.2 966.5,539.4 972.5,537.7 979.5,537.1 985.5,547.6 991.5,559.2 998.5,573.2 1004.5,585.6 1010.5,598.1 1017.5,618.1 1023.5,636.4 1029.5,649.4 1035.5,660.9 1042.5,655.9 1048.5,633.9 1054.5,590.1 1061.5,551.6 1067.5,523.7 1073.5,513.2 1080.5,509.7 1086.5,512.6 1092.5,511.7 1098.5,510.8 1105.5,507.6 1111.5,506.6 1117.5,511.0 1124.5,529.3 1130.5,564.7 1136.5,606.1 1142.5,640.4 1149.5,660.5 1155.5,668.8 1161.5,668.2 1168.5,662.0 1174.5,651.3 1180.5,644.2 1187.5,638.4 1193.5,642.6 1199.5,645.5" fill="none" stroke="#FF6D00" stroke-width="1.4" stroke-linejoin="round"/><polyline points="9.5,621.6 15.5,604.4 21.5,612.4 28.5,624.7 34.5,648.0 40.5,656.6 47.5,668.3 53.5,669.0 59.5,674.4 65.5,667.4 72.5,641.0 78.5,631.7 84.5,639.4 91.5,665.5 97.5,669.0 103.5,638.7 110.5,576.9 116.5,532.6 122.5,510.5 128.5,520.5 135.5,535.0 141.5,545.5 147.5,553.6 154.5,562.5 160.5,583.9 166.5,621.5 173.5,650.3 179.5,666.0 185.5,666.7 191.5,667.2 198.5,667.2 204.5,667.0 210.5,666.5 217.5,666.0 223.5,641.5 229.5,618.0 236.5,573.0 242.5,539.6 248.5,515.2 254.5,508.2 261.5,507.0 267.5,511.7 273.5,511.2 280.5,516.3 286.5,520.5 292.5,529.1 298.5,539.2 305.5,544.8 311.5,554.8 317.5,556.4 324.5,593.2 330.5,629.4 336.5,642.2 343.5,589.7 349.5,536.1 355.5,519.1 361.5,519.1 368.5,529.1 374.5,516.8 380.5,540.1 387.5,529.8 393.5,529.5 399.5,529.1 406.5,556.6 412.5,579.7 418.5,587.4 424.5,609.6 431.5,635.2 437.5,660.8 443.5,669.0 450.5,674.8 456.5,674.8 462.5,674.8 469.5,674.8 475.5,674.8 481.5,674.8 487.5,674.8 494.5,659.9 500.5,644.5 506.5,637.1 513.5,646.4 519.5,648.0 525.5,650.3 532.5,645.0 538.5,644.1 544.5,614.2 550.5,581.6 557.5,553.6 563.5,561.8 569.5,588.0 576.5,629.4 582.5,619.3 588.5,637.5 595.5,637.5 601.5,674.8 607.5,674.8 613.5,667.4 620.5,667.4 626.5,635.2 632.5,588.6 639.5,533.8 645.5,524.5 651.5,526.8 658.5,522.8 664.5,508.2 670.5,510.5 676.5,510.5 683.5,514.0 689.5,514.5 695.5,519.8 702.5,519.1 708.5,514.0 714.5,532.6 720.5,558.3 727.5,581.6 733.5,572.3 739.5,568.8 746.5,580.4 752.5,598.4 758.5,589.7 765.5,575.1 771.5,578.1 777.5,599.1 783.5,618.9 790.5,639.4 796.5,656.6 802.5,669.0 809.5,669.0 815.5,669.7 821.5,674.8 828.5,674.8 834.5,672.5 840.5,672.5 846.5,672.0 853.5,671.3 859.5,669.7 865.5,653.8 872.5,641.7 878.5,616.6 884.5,593.2 891.5,553.1 897.5,559.4 903.5,595.0 909.5,651.0 916.5,670.2 922.5,659.7 928.5,639.9 935.5,624.0 941.5,617.7 947.5,588.6 954.5,549.4 960.5,539.6 966.5,529.1 972.5,544.3 979.5,537.8 985.5,560.6 991.5,579.3 998.5,579.7 1004.5,597.9 1010.5,616.6 1017.5,639.9 1023.5,652.7 1029.5,655.7 1035.5,674.4 1042.5,637.5 1048.5,589.7 1054.5,543.1 1061.5,522.1 1067.5,505.8 1073.5,511.7 1080.5,511.7 1086.5,514.5 1092.5,508.9 1098.5,508.9 1105.5,505.1 1111.5,505.8 1117.5,522.1 1124.5,560.0 1130.5,612.0 1136.5,646.4 1142.5,662.7 1149.5,672.5 1155.5,671.3 1161.5,660.8 1168.5,653.8 1174.5,639.4 1180.5,639.4 1187.5,636.4 1193.5,652.0 1199.5,648.2" fill="none" stroke="#2962FF" stroke-width="1.4" stroke-linejoin="round"/></g>
<text x="13.1" y="24.7" font-size="14.6" fill="#131722" font-weight="normal" text-anchor="start" textLength="510.2" lengthAdjust="spacingAndGlyphs">ParshwaTurakhiya28 published on TradingView.com, Jun 03, 2025 08:53 UTC</text><text x="22.8" y="58.7" font-size="14.2" fill="#131722" font-weight="normal" text-anchor="start" textLength="207.5" lengthAdjust="spacingAndGlyphs">Virtuals Protocol · 30 · CRYPTO</text><text x="239.5" y="58.7" font-size="14.2" fill="#131722" font-weight="normal" text-anchor="start">O</text><text x="303.4" y="58.7" font-size="14.2" fill="#131722" font-weight="normal" text-anchor="start">H</text><text x="367.29999999999995" y="58.7" font-size="14.2" fill="#131722" font-weight="normal" text-anchor="start">L</text><text x="428.5" y="58.7" font-size="14.2" fill="#131722" font-weight="normal" text-anchor="start">C</text><text x="250.2" y="58.7" font-size="14.2" fill="#089981" font-weight="normal" text-anchor="start" textLength="44.0" lengthAdjust="spacingAndGlyphs">1.9317</text><text x="313.1" y="58.7" font-size="14.2" fill="#089981" font-weight="normal" text-anchor="start" textLength="44.9" lengthAdjust="spacingAndGlyphs">1.9458</text><text x="374.3" y="58.7" font-size="14.2" fill="#089981" font-weight="normal" text-anchor="start" textLength="45.5" lengthAdjust="spacingAndGlyphs">1.9203</text><text x="438.2" y="58.7" font-size="14.2" fill="#089981" font-weight="normal" text-anchor="start" textLength="43.4" lengthAdjust="spacingAndGlyphs">1.9441</text><text x="492.4" y="58.7" font-size="14.2" fill="#089981" font-weight="normal" text-anchor="start" textLength="113.3" lengthAdjust="spacingAndGlyphs">+0.0123 (+0.64%)</text><text x="23.2" y="79.6" font-size="14.2" fill="#131722" font-weight="normal" text-anchor="start" textLength="160.4" lengthAdjust="spacingAndGlyphs">Ichimoku (9, 26, 52, 26)</text><text x="193.2" y="79.6" font-size="14.2" fill="#2962FF" font-weight="normal" text-anchor="start" textLength="44.4" lengthAdjust="spacingAndGlyphs">1.9497</text><text x="247.3" y="79.6" font-size="14.2" fill="#B71C1C" font-weight="normal" text-anchor="start" textLength="44.4" lengthAdjust="spacingAndGlyphs">1.9770</text><text x="301.4" y="79.6" font-size="14.2" fill="#43A047" font-weight="normal" text-anchor="start" textLength="43.0" lengthAdjust="spacingAndGlyphs">1.9441</text><text x="354.9" y="79.6" font-size="14.2" fill="#A5D6A7" font-weight="normal" text-anchor="start" textLength="44.3" lengthAdjust="spacingAndGlyphs">1.9633</text><text x="408.9" y="79.6" font-size="14.2" fill="#EF9A9A" font-weight="normal" text-anchor="start" textLength="44.3" lengthAdjust="spacingAndGlyphs">1.9737</text><text x="22.4" y="510" font-size="14.2" fill="#131722" font-weight="normal" text-anchor="start" textLength="198.6" lengthAdjust="spacingAndGlyphs">Stoch RSI (3, 3, 14, 14, close)</text><text x="231.0" y="510" font-size="14.2" fill="#2962FF" font-weight="normal" text-anchor="start" textLength="35.9" lengthAdjust="spacingAndGlyphs">16.03</text><text x="276.4" y="510" font-size="14.2" fill="#FF6D00" font-weight="normal" text-anchor="start" textLength="37.0" lengthAdjust="spacingAndGlyphs">17.47</text><text x="1484.3" y="104.4" font-size="14.4" fill="#131722" font-weight="normal" text-anchor="start" transform="matrix(1,0,0,1.09,0,-9.396)">2.3000</text><text x="1484.3" y="175.0" font-size="14.4" fill="#131722" font-weight="normal" text-anchor="start" transform="matrix(1,0,0,1.09,0,-15.750)">2.2000</text><text x="1484.3" y="386.2" font-size="14.4" fill="#131722" font-weight="normal" text-anchor="start" transform="matrix(1,0,0,1.09,0,-34.758)">1.9000</text><text x="1484.3" y="458.1" font-size="14.4" fill="#131722" font-weight="normal" text-anchor="start" transform="matrix(1,0,0,1.09,0,-41.229)">1.8000</text><text x="1484.3" y="511.7" font-size="14.4" fill="#131722" font-weight="normal" text-anchor="start" transform="matrix(1,0,0,1.09,0,-46.053)">100.00</text><text x="1484.3" y="554.7" font-size="14.4" fill="#131722" font-weight="normal" text-anchor="start" transform="matrix(1,0,0,1.09,0,-49.923)">75.00</text><text x="1484.3" y="596.7" font-size="14.4" fill="#131722" font-weight="normal" text-anchor="start" transform="matrix(1,0,0,1.09,0,-53.703)">50.00</text><text x="1484.3" y="681.5" font-size="14.4" fill="#131722" font-weight="normal" text-anchor="start" transform="matrix(1,0,0,1.09,0,-61.335)">0.00</text><text x="41.3" y="755.7" font-size="15.2" fill="#131722" font-weight="normal" text-anchor="start" textLength="88.9" lengthAdjust="spacingAndGlyphs">TradingView</text><text x="1485.2" y="248.9" font-size="14.4" fill="#ffffff" font-weight="normal" text-anchor="start" transform="matrix(1,0,0,1.09,0,-22.401)" textLength="45.6" lengthAdjust="spacingAndGlyphs">1.9770</text><text x="1485.2" y="270.9" font-size="14.4" fill="#131722" font-weight="normal" text-anchor="start" transform="matrix(1,0,0,1.09,0,-24.381)" textLength="45.6" lengthAdjust="spacingAndGlyphs">1.9737</text><text x="1485.2" y="291.7" font-size="14.4" fill="#131722" font-weight="normal" text-anchor="start" transform="matrix(1,0,0,1.09,0,-26.253)" textLength="45.6" lengthAdjust="spacingAndGlyphs">1.9633</text><text x="1485.2" y="312.9" font-size="14.4" fill="#ffffff" font-weight="normal" text-anchor="start" transform="matrix(1,0,0,1.09,0,-28.161)" textLength="45.6" lengthAdjust="spacingAndGlyphs">1.9497</text><text x="1484.3" y="333.8" font-size="14.4" fill="#b8e3d8" font-weight="normal" text-anchor="start" transform="matrix(1,0,0,1.09,0,-30.042)" textLength="38.1" lengthAdjust="spacingAndGlyphs">06:46</text><text x="1485.2" y="355.8" font-size="14.4" fill="#ffffff" font-weight="normal" text-anchor="start" transform="matrix(1,0,0,1.09,0,-32.022)" textLength="45.6" lengthAdjust="spacingAndGlyphs">1.9441</text><text x="1485.3" y="633.0" font-size="14.4" fill="#ffffff" font-weight="normal" text-anchor="start" transform="matrix(1,0,0,1.09,0,-56.970)" textLength="37.1" lengthAdjust="spacingAndGlyphs">17.47</text><text x="1485.3" y="653.8" font-size="14.4" fill="#ffffff" font-weight="normal" text-anchor="start" transform="matrix(1,0,0,1.09,0,-58.842)" textLength="37.1" lengthAdjust="spacingAndGlyphs">16.03</text><text x="1488.9" y="60" font-size="14.6" fill="#131722" font-weight="normal" text-anchor="start" textLength="26.7" lengthAdjust="spacingAndGlyphs">USD</text><line x1="1502" y1="352.6" x2="1522" y2="352.6" stroke="#ffffff" stroke-opacity="0.85" stroke-width="1"/>
<g clip-path="url(#tclip)"><text x="34.5" y="715.3" font-size="14.6" fill="#131722" font-weight="normal" text-anchor="middle" transform="matrix(1,0,0,1.03,0,-21.459)">12:00</text><text x="110.5" y="715.3" font-size="14.6" fill="#131722" font-weight="normal" text-anchor="middle" transform="matrix(1,0,0,1.03,0,-21.459)">18:00</text><text x="185.5" y="715.3" font-size="14.6" fill="#131722" font-weight="normal" text-anchor="middle" transform="matrix(1,0,0,1.03,0,-21.459)">31</text><text x="261.5" y="715.3" font-size="14.6" fill="#131722" font-weight="normal" text-anchor="middle" transform="matrix(1,0,0,1.03,0,-21.459)">06:00</text><text x="336.5" y="715.3" font-size="14.6" fill="#131722" font-weight="normal" text-anchor="middle" transform="matrix(1,0,0,1.03,0,-21.459)">12:00</text><text x="412.5" y="715.3" font-size="14.6" fill="#131722" font-weight="normal" text-anchor="middle" transform="matrix(1,0,0,1.03,0,-21.459)">18:00</text><text x="487.5" y="715.3" font-size="14.6" fill="#131722" font-weight="bold" text-anchor="middle" transform="matrix(1,0,0,1.03,0,-21.459)">Jun</text><text x="563.5" y="715.3" font-size="14.6" fill="#131722" font-weight="normal" text-anchor="middle" transform="matrix(1,0,0,1.03,0,-21.459)">06:00</text><text x="639.5" y="715.3" font-size="14.6" fill="#131722" font-weight="normal" text-anchor="middle" transform="matrix(1,0,0,1.03,0,-21.459)">12:00</text><text x="714.5" y="715.3" font-size="14.6" fill="#131722" font-weight="normal" text-anchor="middle" transform="matrix(1,0,0,1.03,0,-21.459)">18:00</text><text x="790.5" y="715.3" font-size="14.6" fill="#131722" font-weight="normal" text-anchor="middle" transform="matrix(1,0,0,1.03,0,-21.459)">2</text><text x="865.5" y="715.3" font-size="14.6" fill="#131722" font-weight="normal" text-anchor="middle" transform="matrix(1,0,0,1.03,0,-21.459)">06:00</text><text x="941.5" y="715.3" font-size="14.6" fill="#131722" font-weight="normal" text-anchor="middle" transform="matrix(1,0,0,1.03,0,-21.459)">12:00</text><text x="1017.5" y="715.3" font-size="14.6" fill="#131722" font-weight="normal" text-anchor="middle" transform="matrix(1,0,0,1.03,0,-21.459)">18:00</text><text x="1092.5" y="715.3" font-size="14.6" fill="#131722" font-weight="normal" text-anchor="middle" transform="matrix(1,0,0,1.03,0,-21.459)">3</text><text x="1168.5" y="715.3" font-size="14.6" fill="#131722" font-weight="normal" text-anchor="middle" transform="matrix(1,0,0,1.03,0,-21.459)">06:00</text><text x="1243.5" y="715.3" font-size="14.6" fill="#131722" font-weight="normal" text-anchor="middle" transform="matrix(1,0,0,1.03,0,-21.459)">12:00</text><text x="1319.5" y="715.3" font-size="14.6" fill="#131722" font-weight="normal" text-anchor="middle" transform="matrix(1,0,0,1.03,0,-21.459)">18:00</text><text x="1394.5" y="715.3" font-size="14.6" fill="#131722" font-weight="normal" text-anchor="middle" transform="matrix(1,0,0,1.03,0,-21.459)">4</text><text x="1470.5" y="715.3" font-size="14.6" fill="#131722" font-weight="normal" text-anchor="middle" transform="matrix(1,0,0,1.03,0,-21.459)">06:00</text></g>
</svg>
</body></html>
